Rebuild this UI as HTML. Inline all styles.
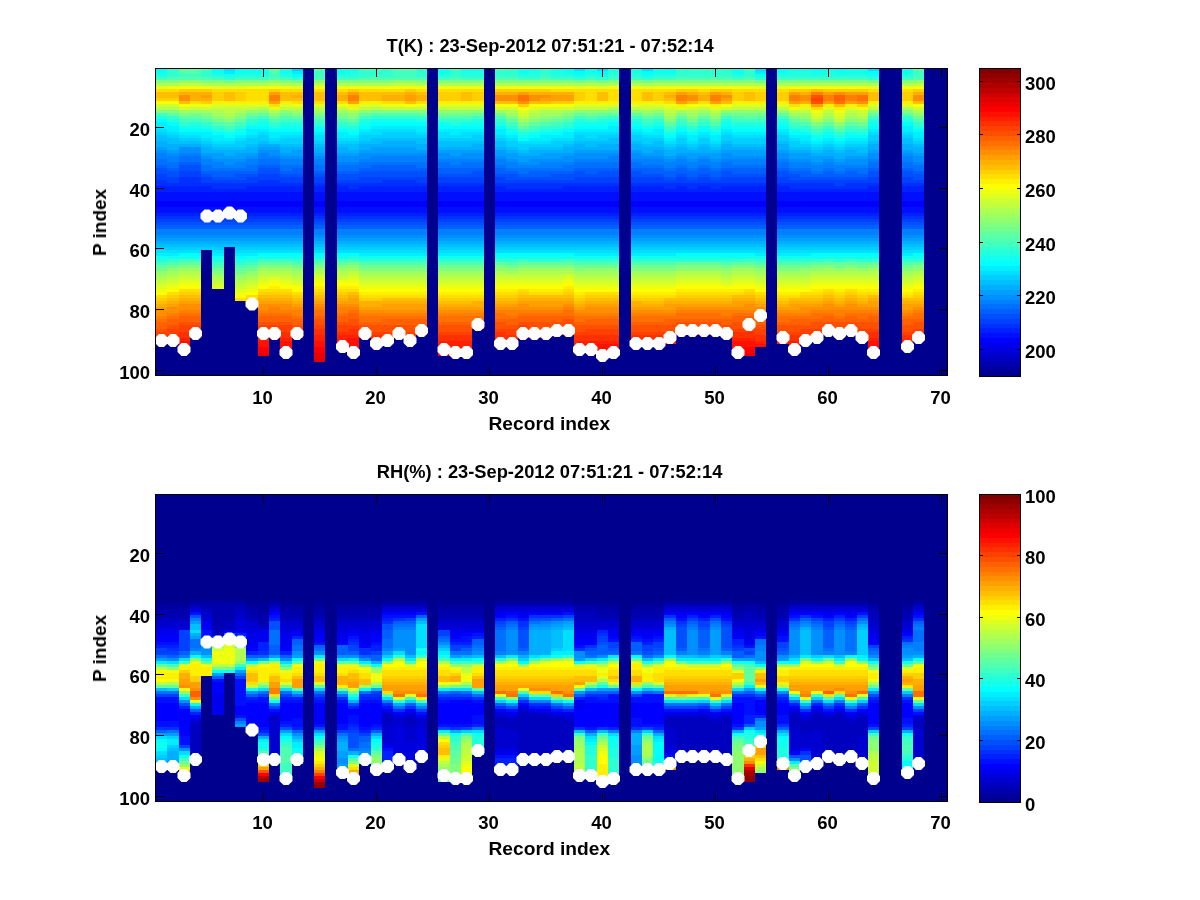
<!DOCTYPE html>
<html><head><meta charset="utf-8"><title>T and RH profiles</title>
<style>html,body{margin:0;padding:0;background:#fff}svg{display:block}
text{font-family:"Liberation Sans",Helvetica,Arial,sans-serif;font-weight:bold;font-size:18.5px;fill:#000}</style></head>
<body><svg width="1200" height="900" viewBox="0 0 1200 900">
<rect width="1200" height="900" fill="#fff"/>
<rect x="155" y="68" width="793" height="308" fill="#00008F"/>
<g shape-rendering="crispEdges"><path fill="#0000FF" d="M156 201h11v6h-11zM167 201h12v6h-12zM179 201h11v6h-11zM190 201h11v6h-11zM201 201h11v6h-11zM212 201h12v6h-12zM224 201h11v6h-11zM235 201h11v6h-11zM246 201h12v6h-12zM258 201h11v6h-11zM269 201h11v6h-11zM280 201h12v6h-12zM292 201h11v6h-11zM314 201h11v6h-11zM337 201h11v6h-11zM348 201h11v6h-11zM359 201h12v6h-12zM371 201h11v6h-11zM382 201h11v6h-11zM393 201h12v6h-12zM405 201h11v6h-11zM416 201h11v6h-11zM438 201h12v6h-12zM450 201h11v6h-11zM461 201h11v6h-11zM472 201h12v6h-12zM495 201h11v6h-11zM506 201h12v6h-12zM518 201h11v6h-11zM529 201h11v6h-11zM540 201h11v6h-11zM551 201h12v6h-12zM563 201h11v6h-11zM574 201h11v6h-11zM585 201h12v6h-12zM597 201h11v6h-11zM608 201h11v6h-11zM631 201h11v6h-11zM642 201h11v6h-11zM653 201h11v6h-11zM664 201h12v6h-12zM676 201h11v6h-11zM687 201h11v6h-11zM698 201h12v6h-12zM710 201h11v6h-11zM721 201h11v6h-11zM732 201h12v6h-12zM744 201h11v6h-11zM755 201h11v6h-11zM777 201h12v6h-12zM789 201h11v6h-11zM800 201h11v6h-11zM811 201h12v6h-12zM823 201h11v6h-11zM834 201h11v6h-11zM845 201h12v6h-12zM857 201h11v6h-11zM868 201h11v6h-11zM902 201h11v6h-11zM913 201h11v6h-11z"/>
<path fill="#0010FF" d="M156 192h11v9h-11zM156 207h11v6h-11zM167 192h12v9h-12zM167 207h12v6h-12zM179 192h11v9h-11zM179 207h11v6h-11zM190 192h11v9h-11zM190 207h11v6h-11zM201 192h11v9h-11zM201 207h11v6h-11zM212 192h12v9h-12zM212 207h12v6h-12zM224 192h11v9h-11zM224 207h11v6h-11zM235 192h11v9h-11zM235 207h11v6h-11zM246 192h12v9h-12zM246 207h12v6h-12zM258 192h11v9h-11zM258 207h11v6h-11zM269 192h11v9h-11zM269 207h11v6h-11zM280 192h12v9h-12zM280 207h12v6h-12zM292 192h11v9h-11zM292 207h11v6h-11zM314 192h11v9h-11zM314 207h11v6h-11zM337 192h11v9h-11zM337 207h11v6h-11zM348 192h11v9h-11zM348 207h11v6h-11zM359 192h12v9h-12zM359 207h12v6h-12zM371 192h11v9h-11zM371 207h11v6h-11zM382 192h11v9h-11zM382 207h11v6h-11zM393 192h12v9h-12zM393 207h12v6h-12zM405 192h11v9h-11zM405 207h11v6h-11zM416 192h11v9h-11zM416 207h11v6h-11zM438 192h12v9h-12zM438 207h12v6h-12zM450 192h11v9h-11zM450 207h11v6h-11zM461 192h11v9h-11zM461 207h11v6h-11zM472 192h12v9h-12zM472 207h12v6h-12zM495 192h11v9h-11zM495 207h11v6h-11zM506 192h12v9h-12zM506 207h12v6h-12zM518 192h11v9h-11zM518 207h11v6h-11zM529 192h11v9h-11zM529 207h11v6h-11zM540 192h11v9h-11zM540 207h11v6h-11zM551 192h12v9h-12zM551 207h12v6h-12zM563 192h11v9h-11zM563 207h11v6h-11zM574 192h11v9h-11zM574 207h11v6h-11zM585 192h12v9h-12zM585 207h12v6h-12zM597 192h11v9h-11zM597 207h11v6h-11zM608 192h11v9h-11zM608 207h11v6h-11zM631 192h11v9h-11zM631 207h11v6h-11zM642 192h11v9h-11zM642 207h11v6h-11zM653 192h11v9h-11zM653 207h11v6h-11zM664 192h12v9h-12zM664 207h12v6h-12zM676 192h11v9h-11zM676 207h11v6h-11zM687 192h11v9h-11zM687 207h11v6h-11zM698 192h12v9h-12zM698 207h12v6h-12zM710 192h11v9h-11zM710 207h11v6h-11zM721 192h11v9h-11zM721 207h11v6h-11zM732 192h12v9h-12zM732 207h12v6h-12zM744 192h11v9h-11zM744 207h11v6h-11zM755 192h11v9h-11zM755 207h11v6h-11zM777 192h12v9h-12zM777 207h12v6h-12zM789 192h11v9h-11zM789 207h11v6h-11zM800 192h11v9h-11zM800 207h11v6h-11zM811 192h12v9h-12zM811 207h12v6h-12zM823 192h11v9h-11zM823 207h11v6h-11zM834 192h11v9h-11zM834 207h11v6h-11zM845 192h12v9h-12zM845 207h12v6h-12zM857 192h11v9h-11zM857 207h11v6h-11zM868 192h11v9h-11zM868 207h11v6h-11zM902 192h11v9h-11zM902 207h11v6h-11zM913 192h11v9h-11zM913 207h11v6h-11z"/>
<path fill="#0020FF" d="M156 186h11v6h-11zM156 213h11v3h-11zM167 186h12v6h-12zM167 213h12v3h-12zM179 186h11v6h-11zM179 213h11v3h-11zM190 186h11v6h-11zM190 213h11v3h-11zM201 186h11v6h-11zM201 213h11v3h-11zM212 189h12v3h-12zM212 213h12v3h-12zM224 189h11v3h-11zM224 213h11v3h-11zM235 189h11v3h-11zM235 213h11v3h-11zM246 186h12v6h-12zM246 213h12v3h-12zM258 186h11v6h-11zM258 213h11v3h-11zM269 186h11v6h-11zM269 213h11v3h-11zM280 186h12v6h-12zM280 213h12v3h-12zM292 186h11v6h-11zM292 213h11v3h-11zM314 186h11v6h-11zM314 213h11v3h-11zM337 186h11v6h-11zM337 213h11v3h-11zM348 189h11v3h-11zM348 213h11v3h-11zM359 186h12v6h-12zM359 213h12v3h-12zM371 186h11v6h-11zM371 213h11v3h-11zM382 186h11v6h-11zM382 213h11v3h-11zM393 186h12v6h-12zM393 213h12v3h-12zM405 186h11v6h-11zM405 213h11v3h-11zM416 186h11v6h-11zM416 213h11v3h-11zM438 186h12v6h-12zM438 213h12v3h-12zM450 186h11v6h-11zM450 213h11v3h-11zM461 186h11v6h-11zM461 213h11v3h-11zM472 186h12v6h-12zM472 213h12v3h-12zM495 186h11v6h-11zM495 213h11v3h-11zM506 189h12v3h-12zM506 213h12v3h-12zM518 189h11v3h-11zM518 213h11v3h-11zM529 189h11v3h-11zM529 213h11v3h-11zM540 189h11v3h-11zM540 213h11v3h-11zM551 189h12v3h-12zM551 213h12v3h-12zM563 186h11v6h-11zM563 213h11v3h-11zM574 186h11v6h-11zM574 213h11v3h-11zM585 186h12v6h-12zM585 213h12v3h-12zM597 186h11v6h-11zM597 213h11v3h-11zM608 186h11v6h-11zM608 213h11v3h-11zM631 186h11v6h-11zM631 213h11v3h-11zM642 186h11v6h-11zM642 213h11v3h-11zM653 186h11v6h-11zM653 213h11v3h-11zM664 189h12v3h-12zM664 213h12v3h-12zM676 186h11v6h-11zM676 213h11v3h-11zM687 189h11v3h-11zM687 213h11v3h-11zM698 186h12v6h-12zM698 213h12v3h-12zM710 189h11v3h-11zM710 213h11v3h-11zM721 186h11v6h-11zM721 213h11v3h-11zM732 186h12v6h-12zM732 213h12v3h-12zM744 186h11v6h-11zM744 213h11v3h-11zM755 186h11v6h-11zM755 213h11v3h-11zM777 186h12v6h-12zM777 213h12v3h-12zM789 189h11v3h-11zM789 213h11v3h-11zM800 189h11v3h-11zM800 213h11v3h-11zM811 189h12v3h-12zM811 213h12v3h-12zM823 189h11v3h-11zM823 213h11v3h-11zM834 189h11v3h-11zM834 213h11v3h-11zM845 189h12v3h-12zM845 213h12v3h-12zM857 189h11v3h-11zM857 213h11v3h-11zM868 186h11v6h-11zM868 213h11v3h-11zM902 186h11v6h-11zM902 213h11v3h-11zM913 186h11v6h-11zM913 213h11v3h-11z"/>
<path fill="#0030FF" d="M156 180h11v6h-11zM156 216h11v3h-11zM167 183h12v3h-12zM167 216h12v3h-12zM179 177h11v9h-11zM179 216h11v3h-11zM190 177h11v9h-11zM190 216h11v3h-11zM201 183h11v3h-11zM201 216h11v3h-11zM212 183h12v6h-12zM212 216h12v3h-12zM224 183h11v6h-11zM224 216h11v3h-11zM235 183h11v6h-11zM235 216h11v3h-11zM246 183h12v3h-12zM246 216h12v3h-12zM258 180h11v6h-11zM258 216h11v3h-11zM269 180h11v6h-11zM269 216h11v3h-11zM280 183h12v3h-12zM280 216h12v3h-12zM292 183h11v3h-11zM292 216h11v3h-11zM314 183h11v3h-11zM314 216h11v3h-11zM337 183h11v3h-11zM337 216h11v3h-11zM348 183h11v6h-11zM348 216h11v3h-11zM359 183h12v3h-12zM359 216h12v3h-12zM371 183h11v3h-11zM371 216h11v3h-11zM382 180h11v6h-11zM382 216h11v3h-11zM393 180h12v6h-12zM393 216h12v3h-12zM405 180h11v6h-11zM405 216h11v3h-11zM416 183h11v3h-11zM416 216h11v3h-11zM438 183h12v3h-12zM438 216h12v3h-12zM450 183h11v3h-11zM450 216h11v3h-11zM461 183h11v3h-11zM461 216h11v3h-11zM472 183h12v3h-12zM472 216h12v3h-12zM495 183h11v3h-11zM495 216h11v3h-11zM506 183h12v6h-12zM506 216h12v3h-12zM518 183h11v6h-11zM518 216h11v3h-11zM529 183h11v6h-11zM529 216h11v3h-11zM540 183h11v6h-11zM540 216h11v3h-11zM551 183h12v6h-12zM551 216h12v3h-12zM563 183h11v3h-11zM563 216h11v3h-11zM574 183h11v3h-11zM574 216h11v3h-11zM585 183h12v3h-12zM585 216h12v3h-12zM597 183h11v3h-11zM597 216h11v3h-11zM608 183h11v3h-11zM608 216h11v3h-11zM631 183h11v3h-11zM631 216h11v3h-11zM642 183h11v3h-11zM642 216h11v3h-11zM653 183h11v3h-11zM653 216h11v3h-11zM664 183h12v6h-12zM664 216h12v3h-12zM676 183h11v3h-11zM676 216h11v3h-11zM687 183h11v6h-11zM687 216h11v3h-11zM698 183h12v3h-12zM698 216h12v3h-12zM710 183h11v6h-11zM710 216h11v3h-11zM721 183h11v3h-11zM721 216h11v3h-11zM732 183h12v3h-12zM732 216h12v3h-12zM744 183h11v3h-11zM744 216h11v3h-11zM755 183h11v3h-11zM755 216h11v3h-11zM777 183h12v3h-12zM777 216h12v3h-12zM789 183h11v6h-11zM789 216h11v3h-11zM800 183h11v6h-11zM800 216h11v3h-11zM811 183h12v6h-12zM811 216h12v3h-12zM823 183h11v6h-11zM823 216h11v3h-11zM834 186h11v3h-11zM834 216h11v3h-11zM845 183h12v6h-12zM845 216h12v3h-12zM857 183h11v6h-11zM857 216h11v3h-11zM868 183h11v3h-11zM868 216h11v3h-11zM902 183h11v3h-11zM902 216h11v3h-11zM913 183h11v3h-11zM913 216h11v3h-11z"/>
<path fill="#0040FF" d="M156 174h11v6h-11zM156 219h11v3h-11zM167 177h12v6h-12zM167 219h12v3h-12zM179 171h11v6h-11zM179 219h11v3h-11zM190 171h11v6h-11zM190 219h11v3h-11zM201 177h11v6h-11zM201 219h11v3h-11zM212 180h12v3h-12zM212 219h12v3h-12zM224 180h11v3h-11zM224 219h11v3h-11zM235 180h11v3h-11zM235 219h11v3h-11zM246 177h12v6h-12zM246 219h12v3h-12zM258 174h11v6h-11zM258 219h11v3h-11zM269 174h11v6h-11zM269 219h11v3h-11zM280 177h12v6h-12zM280 219h12v3h-12zM292 177h11v6h-11zM292 219h11v3h-11zM314 177h11v6h-11zM314 219h11v3h-11zM337 180h11v3h-11zM337 219h11v3h-11zM348 180h11v3h-11zM348 219h11v3h-11zM359 177h12v6h-12zM359 219h12v3h-12zM371 177h11v6h-11zM371 219h11v3h-11zM382 177h11v3h-11zM382 219h11v3h-11zM393 177h12v3h-12zM393 219h12v3h-12zM405 177h11v3h-11zM405 219h11v3h-11zM416 177h11v6h-11zM416 219h11v3h-11zM438 177h12v6h-12zM438 219h12v3h-12zM450 177h11v6h-11zM450 219h11v3h-11zM461 177h11v6h-11zM461 219h11v3h-11zM472 177h12v6h-12zM472 219h12v3h-12zM495 177h11v6h-11zM495 219h11v3h-11zM506 180h12v3h-12zM506 219h12v3h-12zM518 180h11v3h-11zM518 219h11v3h-11zM529 180h11v3h-11zM529 219h11v3h-11zM540 180h11v3h-11zM540 219h11v3h-11zM551 180h12v3h-12zM551 219h12v3h-12zM563 180h11v3h-11zM563 219h11v3h-11zM574 177h11v6h-11zM574 219h11v3h-11zM585 177h12v6h-12zM585 219h12v3h-12zM597 177h11v6h-11zM597 219h11v3h-11zM608 177h11v6h-11zM608 219h11v3h-11zM631 177h11v6h-11zM631 219h11v3h-11zM642 177h11v6h-11zM642 219h11v3h-11zM653 177h11v6h-11zM653 219h11v3h-11zM664 180h12v3h-12zM664 219h12v3h-12zM676 177h11v6h-11zM676 219h11v3h-11zM687 180h11v3h-11zM687 219h11v3h-11zM698 177h12v6h-12zM698 219h12v3h-12zM710 180h11v3h-11zM710 219h11v3h-11zM721 177h11v6h-11zM721 219h11v3h-11zM732 177h12v6h-12zM732 219h12v3h-12zM744 177h11v6h-11zM744 219h11v3h-11zM755 177h11v6h-11zM755 219h11v3h-11zM777 177h12v6h-12zM777 219h12v3h-12zM789 180h11v3h-11zM789 219h11v3h-11zM800 180h11v3h-11zM800 219h11v3h-11zM811 180h12v3h-12zM811 219h12v3h-12zM823 180h11v3h-11zM823 219h11v3h-11zM834 180h11v6h-11zM834 219h11v3h-11zM845 180h12v3h-12zM845 219h12v3h-12zM857 180h11v3h-11zM857 219h11v3h-11zM868 177h11v6h-11zM868 219h11v3h-11zM902 177h11v6h-11zM902 219h11v3h-11zM913 180h11v3h-11zM913 219h11v3h-11z"/>
<path fill="#0050FF" d="M156 168h11v6h-11zM156 222h11v3h-11zM167 171h12v6h-12zM167 222h12v3h-12zM179 165h11v6h-11zM179 222h11v3h-11zM190 165h11v6h-11zM190 222h11v3h-11zM201 174h11v3h-11zM201 222h11v3h-11zM212 177h12v3h-12zM212 222h12v3h-12zM224 177h11v3h-11zM224 222h11v3h-11zM235 174h11v6h-11zM235 222h11v3h-11zM246 174h12v3h-12zM246 222h12v3h-12zM258 168h11v6h-11zM258 222h11v3h-11zM269 168h11v6h-11zM269 222h11v3h-11zM280 174h12v3h-12zM280 222h12v3h-12zM292 174h11v3h-11zM292 222h11v3h-11zM314 174h11v3h-11zM314 222h11v3h-11zM337 174h11v6h-11zM337 222h11v3h-11zM348 174h11v6h-11zM348 222h11v3h-11zM359 171h12v6h-12zM359 222h12v3h-12zM371 171h11v6h-11zM371 222h11v3h-11zM382 171h11v6h-11zM382 222h11v3h-11zM393 171h12v6h-12zM393 222h12v3h-12zM405 171h11v6h-11zM405 222h11v3h-11zM416 171h11v6h-11zM416 222h11v3h-11zM438 174h12v3h-12zM438 222h12v3h-12zM450 174h11v3h-11zM450 222h11v3h-11zM461 174h11v3h-11zM461 222h11v3h-11zM472 171h12v6h-12zM472 222h12v3h-12zM495 174h11v3h-11zM495 222h11v3h-11zM506 174h12v6h-12zM506 222h12v3h-12zM518 177h11v3h-11zM518 222h11v3h-11zM529 177h11v3h-11zM529 222h11v3h-11zM540 177h11v3h-11zM540 222h11v3h-11zM551 174h12v6h-12zM551 222h12v3h-12zM563 174h11v6h-11zM563 222h11v3h-11zM574 171h11v6h-11zM574 222h11v3h-11zM585 174h12v3h-12zM585 222h12v3h-12zM597 171h11v6h-11zM597 222h11v3h-11zM608 171h11v6h-11zM608 222h11v3h-11zM631 171h11v6h-11zM631 222h11v3h-11zM642 174h11v3h-11zM642 222h11v3h-11zM653 174h11v3h-11zM653 222h11v3h-11zM664 177h12v3h-12zM664 222h12v3h-12zM676 174h11v3h-11zM676 222h11v3h-11zM687 177h11v3h-11zM687 222h11v3h-11zM698 174h12v3h-12zM698 222h12v3h-12zM710 177h11v3h-11zM710 222h11v3h-11zM721 171h11v6h-11zM721 222h11v3h-11zM732 174h12v3h-12zM732 222h12v3h-12zM744 174h11v3h-11zM744 222h11v3h-11zM755 174h11v3h-11zM755 222h11v3h-11zM777 171h12v6h-12zM777 222h12v3h-12zM789 174h11v6h-11zM789 222h11v3h-11zM800 177h11v3h-11zM800 222h11v3h-11zM811 177h12v3h-12zM811 222h12v3h-12zM823 177h11v3h-11zM823 222h11v3h-11zM834 177h11v3h-11zM834 222h11v3h-11zM845 177h12v3h-12zM845 222h12v3h-12zM857 177h11v3h-11zM857 222h11v3h-11zM868 171h11v6h-11zM868 222h11v3h-11zM902 171h11v6h-11zM902 222h11v3h-11zM913 174h11v6h-11zM913 222h11v3h-11z"/>
<path fill="#0060FF" d="M156 165h11v3h-11zM156 225h11v4h-11zM167 168h12v3h-12zM167 225h12v4h-12zM179 162h11v3h-11zM179 225h11v4h-11zM190 162h11v3h-11zM190 225h11v4h-11zM201 171h11v3h-11zM201 225h11v4h-11zM212 171h12v6h-12zM212 225h12v4h-12zM224 171h11v6h-11zM224 225h11v4h-11zM235 171h11v3h-11zM235 225h11v4h-11zM246 171h12v3h-12zM246 225h12v4h-12zM258 165h11v3h-11zM258 225h11v4h-11zM269 165h11v3h-11zM269 225h11v4h-11zM280 171h12v3h-12zM280 225h12v4h-12zM292 168h11v6h-11zM292 225h11v4h-11zM314 171h11v3h-11zM314 225h11v4h-11zM337 171h11v3h-11zM337 225h11v4h-11zM348 171h11v3h-11zM348 225h11v4h-11zM359 168h12v3h-12zM359 225h12v4h-12zM371 165h11v6h-11zM371 225h11v4h-11zM382 165h11v6h-11zM382 225h11v4h-11zM393 165h12v6h-12zM393 225h12v4h-12zM405 165h11v6h-11zM405 225h11v4h-11zM416 168h11v3h-11zM416 225h11v4h-11zM438 168h12v6h-12zM438 225h12v4h-12zM450 168h11v6h-11zM450 225h11v4h-11zM461 168h11v6h-11zM461 225h11v4h-11zM472 168h12v3h-12zM472 225h12v4h-12zM495 168h11v6h-11zM495 225h11v4h-11zM506 171h12v3h-12zM506 225h12v4h-12zM518 174h11v3h-11zM518 225h11v4h-11zM529 171h11v6h-11zM529 225h11v4h-11zM540 171h11v6h-11zM540 225h11v4h-11zM551 171h12v3h-12zM551 225h12v4h-12zM563 171h11v3h-11zM563 225h11v4h-11zM574 168h11v3h-11zM574 225h11v4h-11zM585 168h12v6h-12zM585 225h12v4h-12zM597 168h11v3h-11zM597 225h11v4h-11zM608 168h11v3h-11zM608 225h11v4h-11zM631 168h11v3h-11zM631 225h11v4h-11zM642 168h11v6h-11zM642 225h11v4h-11zM653 168h11v6h-11zM653 225h11v4h-11zM664 171h12v6h-12zM664 225h12v4h-12zM676 168h11v6h-11zM676 225h11v4h-11zM687 171h11v6h-11zM687 225h11v4h-11zM698 168h12v6h-12zM698 225h12v4h-12zM710 171h11v6h-11zM710 225h11v4h-11zM721 168h11v3h-11zM721 225h11v4h-11zM732 168h12v6h-12zM732 225h12v4h-12zM744 168h11v6h-11zM744 225h11v4h-11zM755 168h11v6h-11zM755 225h11v4h-11zM777 168h12v3h-12zM777 225h12v4h-12zM789 171h11v3h-11zM789 225h11v4h-11zM800 171h11v6h-11zM800 225h11v4h-11zM811 174h12v3h-12zM811 225h12v4h-12zM823 171h11v6h-11zM823 225h11v4h-11zM834 174h11v3h-11zM834 225h11v4h-11zM845 171h12v6h-12zM845 225h12v4h-12zM857 174h11v3h-11zM857 225h11v4h-11zM868 168h11v3h-11zM868 225h11v4h-11zM902 168h11v3h-11zM902 225h11v4h-11zM913 171h11v3h-11zM913 225h11v4h-11z"/>
<path fill="#0070FF" d="M156 159h11v6h-11zM167 162h12v6h-12zM179 156h11v6h-11zM190 156h11v6h-11zM201 165h11v6h-11zM212 168h12v3h-12zM224 168h11v3h-11zM235 168h11v3h-11zM246 165h12v6h-12zM258 159h11v6h-11zM269 159h11v6h-11zM280 165h12v6h-12zM292 165h11v3h-11zM314 165h11v6h-11zM337 165h11v6h-11zM348 165h11v6h-11zM359 162h12v6h-12zM371 162h11v3h-11zM382 162h11v3h-11zM393 162h12v3h-12zM405 162h11v3h-11zM416 162h11v6h-11zM438 162h12v6h-12zM450 165h11v3h-11zM461 162h11v6h-11zM472 162h12v6h-12zM495 165h11v3h-11zM506 168h12v3h-12zM518 168h11v6h-11zM529 168h11v3h-11zM540 168h11v3h-11zM551 168h12v3h-12zM563 165h11v6h-11zM574 162h11v6h-11zM585 162h12v6h-12zM597 162h11v6h-11zM608 162h11v6h-11zM631 162h11v6h-11zM642 165h11v3h-11zM653 165h11v3h-11zM664 168h12v3h-12zM676 165h11v3h-11zM687 168h11v3h-11zM698 165h12v3h-12zM710 168h11v3h-11zM721 162h11v6h-11zM732 165h12v3h-12zM744 165h11v3h-11zM755 165h11v3h-11zM777 162h12v6h-12zM789 168h11v3h-11zM800 168h11v3h-11zM811 171h12v3h-12zM823 168h11v3h-11zM834 171h11v3h-11zM845 168h12v3h-12zM857 168h11v6h-11zM868 162h11v6h-11zM902 162h11v6h-11zM913 165h11v6h-11z"/>
<path fill="#0080FF" d="M156 153h11v6h-11zM156 229h11v6h-11zM167 156h12v6h-12zM167 229h12v6h-12zM179 153h11v3h-11zM179 229h11v6h-11zM190 153h11v3h-11zM190 229h11v6h-11zM201 159h11v6h-11zM201 229h11v6h-11zM212 162h12v6h-12zM212 229h12v6h-12zM224 165h11v3h-11zM224 229h11v6h-11zM235 162h11v6h-11zM235 229h11v6h-11zM246 159h12v6h-12zM246 229h12v6h-12zM258 153h11v6h-11zM258 229h11v6h-11zM269 156h11v3h-11zM269 229h11v6h-11zM280 159h12v6h-12zM280 229h12v6h-12zM292 159h11v6h-11zM292 229h11v6h-11zM314 159h11v6h-11zM314 229h11v6h-11zM337 162h11v3h-11zM337 229h11v6h-11zM348 162h11v3h-11zM348 229h11v6h-11zM359 159h12v3h-12zM359 229h12v6h-12zM371 156h11v6h-11zM371 229h11v6h-11zM382 156h11v6h-11zM382 229h11v6h-11zM393 156h12v6h-12zM393 229h12v6h-12zM405 156h11v6h-11zM405 229h11v6h-11zM416 156h11v6h-11zM416 229h11v6h-11zM438 159h12v3h-12zM438 229h12v6h-12zM450 159h11v6h-11zM450 229h11v6h-11zM461 159h11v3h-11zM461 229h11v6h-11zM472 159h12v3h-12zM472 229h12v6h-12zM495 159h11v6h-11zM495 229h11v6h-11zM506 162h12v6h-12zM506 229h12v6h-12zM518 165h11v3h-11zM518 229h11v6h-11zM529 165h11v3h-11zM529 229h11v6h-11zM540 162h11v6h-11zM540 229h11v6h-11zM551 162h12v6h-12zM551 229h12v6h-12zM563 162h11v3h-11zM563 229h11v6h-11zM574 159h11v3h-11zM574 229h11v6h-11zM585 159h12v3h-12zM585 229h12v6h-12zM597 159h11v3h-11zM597 229h11v6h-11zM608 156h11v6h-11zM608 229h11v6h-11zM631 159h11v3h-11zM631 229h11v6h-11zM642 159h11v6h-11zM642 229h11v6h-11zM653 159h11v6h-11zM653 229h11v6h-11zM664 162h12v6h-12zM664 229h12v6h-12zM676 159h11v6h-11zM676 229h11v6h-11zM687 162h11v6h-11zM687 229h11v6h-11zM698 159h12v6h-12zM698 229h12v6h-12zM710 162h11v6h-11zM710 229h11v6h-11zM721 159h11v3h-11zM721 229h11v6h-11zM732 159h12v6h-12zM732 229h12v6h-12zM744 159h11v6h-11zM744 229h11v6h-11zM755 159h11v6h-11zM755 229h11v6h-11zM777 159h12v3h-12zM777 229h12v6h-12zM789 162h11v6h-11zM789 229h11v6h-11zM800 162h11v6h-11zM800 229h11v6h-11zM811 165h12v6h-12zM811 229h12v6h-12zM823 162h11v6h-11zM823 229h11v6h-11zM834 165h11v6h-11zM834 229h11v6h-11zM845 165h12v3h-12zM845 229h12v6h-12zM857 165h11v3h-11zM857 229h11v6h-11zM868 159h11v3h-11zM868 229h11v6h-11zM902 156h11v6h-11zM902 229h11v6h-11zM913 162h11v3h-11zM913 229h11v6h-11z"/>
<path fill="#008FFF" d="M156 150h11v3h-11zM156 235h11v3h-11zM167 153h12v3h-12zM167 235h12v3h-12zM179 147h11v6h-11zM179 235h11v3h-11zM190 147h11v6h-11zM190 235h11v3h-11zM201 156h11v3h-11zM201 235h11v3h-11zM212 159h12v3h-12zM212 235h12v3h-12zM224 159h11v6h-11zM224 235h11v3h-11zM235 159h11v3h-11zM235 235h11v3h-11zM246 156h12v3h-12zM246 235h12v3h-12zM258 150h11v3h-11zM258 235h11v3h-11zM269 150h11v6h-11zM269 235h11v3h-11zM280 156h12v3h-12zM280 235h12v3h-12zM292 156h11v3h-11zM292 235h11v3h-11zM314 156h11v3h-11zM314 235h11v3h-11zM337 156h11v6h-11zM337 235h11v3h-11zM348 156h11v6h-11zM348 235h11v3h-11zM359 153h12v6h-12zM359 235h12v3h-12zM371 153h11v3h-11zM371 235h11v3h-11zM382 153h11v3h-11zM382 235h11v3h-11zM393 153h12v3h-12zM393 235h12v3h-12zM405 153h11v3h-11zM405 235h11v3h-11zM416 153h11v3h-11zM416 235h11v3h-11zM438 153h12v6h-12zM438 235h12v3h-12zM450 156h11v3h-11zM450 235h11v3h-11zM461 153h11v6h-11zM461 235h11v3h-11zM472 153h12v6h-12zM472 235h12v3h-12zM495 156h11v3h-11zM495 235h11v3h-11zM506 159h12v3h-12zM506 235h12v3h-12zM518 162h11v3h-11zM518 235h11v3h-11zM529 159h11v6h-11zM529 235h11v3h-11zM540 159h11v3h-11zM540 235h11v3h-11zM551 159h12v3h-12zM551 235h12v3h-12zM563 156h11v6h-11zM563 235h11v3h-11zM574 153h11v6h-11zM574 235h11v3h-11zM585 153h12v6h-12zM585 235h12v3h-12zM597 153h11v6h-11zM597 235h11v3h-11zM608 153h11v3h-11zM608 235h11v3h-11zM631 153h11v6h-11zM631 235h11v3h-11zM642 156h11v3h-11zM642 235h11v3h-11zM653 156h11v3h-11zM653 235h11v3h-11zM664 159h12v3h-12zM664 235h12v3h-12zM676 156h11v3h-11zM676 235h11v3h-11zM687 159h11v3h-11zM687 235h11v3h-11zM698 156h12v3h-12zM698 235h12v3h-12zM710 159h11v3h-11zM710 235h11v3h-11zM721 153h11v6h-11zM721 235h11v3h-11zM732 156h12v3h-12zM732 235h12v3h-12zM744 156h11v3h-11zM744 235h11v3h-11zM755 156h11v3h-11zM755 235h11v3h-11zM777 153h12v6h-12zM777 235h12v3h-12zM789 159h11v3h-11zM789 235h11v3h-11zM800 159h11v3h-11zM800 235h11v3h-11zM811 162h12v3h-12zM811 235h12v3h-12zM823 159h11v3h-11zM823 235h11v3h-11zM834 162h11v3h-11zM834 235h11v3h-11zM845 159h12v6h-12zM845 235h12v3h-12zM857 159h11v6h-11zM857 235h11v3h-11zM868 153h11v6h-11zM868 235h11v3h-11zM902 153h11v3h-11zM902 235h11v3h-11zM913 156h11v6h-11zM913 235h11v3h-11z"/>
<path fill="#009FFF" d="M156 147h11v3h-11zM156 238h11v3h-11zM167 150h12v3h-12zM167 238h12v3h-12zM179 238h11v3h-11zM190 238h11v3h-11zM201 153h11v3h-11zM201 238h11v3h-11zM212 153h12v6h-12zM212 238h12v3h-12zM224 156h11v3h-11zM224 238h11v3h-11zM235 153h11v6h-11zM235 238h11v3h-11zM246 153h12v3h-12zM246 238h12v3h-12zM258 147h11v3h-11zM258 238h11v3h-11zM269 147h11v3h-11zM269 238h11v3h-11zM280 153h12v3h-12zM280 238h12v3h-12zM292 150h11v6h-11zM292 238h11v3h-11zM314 153h11v3h-11zM314 238h11v3h-11zM337 153h11v3h-11zM337 238h11v3h-11zM348 153h11v3h-11zM348 238h11v3h-11zM359 150h12v3h-12zM359 238h12v3h-12zM371 147h11v6h-11zM371 238h11v3h-11zM382 147h11v6h-11zM382 238h11v3h-11zM393 147h12v6h-12zM393 238h12v3h-12zM405 147h11v6h-11zM405 238h11v3h-11zM416 150h11v3h-11zM416 238h11v3h-11zM438 150h12v3h-12zM438 238h12v3h-12zM450 150h11v6h-11zM450 238h11v3h-11zM461 150h11v3h-11zM461 238h11v3h-11zM472 150h12v3h-12zM472 238h12v3h-12zM495 150h11v6h-11zM495 238h11v3h-11zM506 153h12v6h-12zM506 238h12v3h-12zM518 156h11v6h-11zM518 238h11v3h-11zM529 156h11v3h-11zM529 238h11v3h-11zM540 153h11v6h-11zM540 238h11v3h-11zM551 153h12v6h-12zM551 238h12v3h-12zM563 153h11v3h-11zM563 238h11v3h-11zM574 150h11v3h-11zM574 238h11v3h-11zM585 150h12v3h-12zM585 238h12v3h-12zM597 150h11v3h-11zM597 238h11v3h-11zM608 150h11v3h-11zM608 238h11v3h-11zM631 150h11v3h-11zM631 238h11v3h-11zM642 153h11v3h-11zM642 238h11v3h-11zM653 150h11v6h-11zM653 238h11v3h-11zM664 156h12v3h-12zM664 238h12v3h-12zM676 153h11v3h-11zM676 238h11v3h-11zM687 153h11v6h-11zM687 238h11v3h-11zM698 153h12v3h-12zM698 238h12v3h-12zM710 153h11v6h-11zM710 238h11v3h-11zM721 150h11v3h-11zM721 238h11v3h-11zM732 150h12v6h-12zM732 238h12v3h-12zM744 150h11v6h-11zM744 238h11v3h-11zM755 150h11v6h-11zM755 238h11v3h-11zM777 150h12v3h-12zM777 238h12v3h-12zM789 153h11v6h-11zM789 238h11v3h-11zM800 153h11v6h-11zM800 238h11v3h-11zM811 156h12v6h-12zM811 238h12v3h-12zM823 156h11v3h-11zM823 238h11v3h-11zM834 159h11v3h-11zM834 238h11v3h-11zM845 156h12v3h-12zM845 238h12v3h-12zM857 156h11v3h-11zM857 238h11v3h-11zM868 150h11v3h-11zM868 238h11v3h-11zM902 150h11v3h-11zM902 238h11v3h-11zM913 153h11v3h-11zM913 238h11v3h-11z"/>
<path fill="#00AFFF" d="M156 141h11v6h-11zM156 241h11v3h-11zM167 144h12v6h-12zM167 241h12v3h-12zM179 144h11v3h-11zM179 241h11v3h-11zM190 144h11v3h-11zM190 241h11v3h-11zM201 147h11v6h-11zM201 241h11v3h-11zM212 150h12v3h-12zM212 241h12v3h-12zM224 150h11v6h-11zM224 241h11v3h-11zM235 150h11v3h-11zM235 241h11v3h-11zM246 147h12v6h-12zM246 241h12v3h-12zM258 144h11v3h-11zM258 241h11v3h-11zM269 144h11v3h-11zM269 241h11v3h-11zM280 147h12v6h-12zM280 241h12v3h-12zM292 147h11v3h-11zM292 241h11v3h-11zM314 147h11v6h-11zM314 241h11v3h-11zM337 147h11v6h-11zM337 241h11v3h-11zM348 150h11v3h-11zM348 241h11v3h-11zM359 144h12v6h-12zM359 241h12v3h-12zM371 144h11v3h-11zM371 241h11v3h-11zM382 141h11v6h-11zM382 241h11v3h-11zM393 141h12v6h-12zM393 241h12v3h-12zM405 141h11v6h-11zM405 241h11v3h-11zM416 144h11v6h-11zM416 241h11v3h-11zM438 147h12v3h-12zM438 241h12v3h-12zM450 147h11v3h-11zM450 241h11v3h-11zM461 147h11v3h-11zM461 241h11v3h-11zM472 144h12v6h-12zM472 241h12v3h-12zM495 147h11v3h-11zM495 241h11v3h-11zM506 150h12v3h-12zM506 241h12v3h-12zM518 153h11v3h-11zM518 241h11v3h-11zM529 150h11v6h-11zM529 241h11v3h-11zM540 150h11v3h-11zM540 241h11v3h-11zM551 150h12v3h-12zM551 241h12v3h-12zM563 147h11v6h-11zM563 241h11v3h-11zM574 144h11v6h-11zM574 241h11v3h-11zM585 147h12v3h-12zM585 241h12v3h-12zM597 144h11v6h-11zM597 241h11v3h-11zM608 144h11v6h-11zM608 241h11v3h-11zM631 144h11v6h-11zM631 241h11v3h-11zM642 147h11v6h-11zM642 241h11v3h-11zM653 147h11v3h-11zM653 241h11v3h-11zM664 150h12v6h-12zM664 241h12v3h-12zM676 147h11v6h-11zM676 241h11v3h-11zM687 150h11v3h-11zM687 241h11v3h-11zM698 147h12v6h-12zM698 241h12v3h-12zM710 150h11v3h-11zM710 241h11v3h-11zM721 144h11v6h-11zM721 241h11v3h-11zM732 147h12v3h-12zM732 241h12v3h-12zM744 147h11v3h-11zM744 241h11v3h-11zM755 147h11v3h-11zM755 241h11v3h-11zM777 144h12v6h-12zM777 241h12v3h-12zM789 150h11v3h-11zM789 241h11v3h-11zM800 150h11v3h-11zM800 241h11v3h-11zM811 153h12v3h-12zM811 241h12v3h-12zM823 150h11v6h-11zM823 241h11v3h-11zM834 153h11v6h-11zM834 241h11v3h-11zM845 150h12v6h-12zM845 241h12v3h-12zM857 153h11v3h-11zM857 241h11v3h-11zM868 144h11v6h-11zM868 241h11v3h-11zM902 144h11v6h-11zM902 241h11v3h-11zM913 147h11v6h-11zM913 241h11v3h-11z"/>
<path fill="#00BFFF" d="M156 135h11v6h-11zM156 244h11v3h-11zM167 138h12v6h-12zM167 244h12v3h-12zM179 141h11v3h-11zM179 244h11v3h-11zM190 141h11v3h-11zM190 244h11v3h-11zM201 144h11v3h-11zM201 244h11v3h-11zM212 147h12v3h-12zM212 244h12v3h-12zM224 147h11v3h-11zM224 244h11v3h-11zM235 147h11v3h-11zM235 244h11v3h-11zM246 144h12v3h-12zM246 244h12v3h-12zM258 141h11v3h-11zM258 244h11v3h-11zM269 244h11v3h-11zM280 144h12v3h-12zM280 244h12v3h-12zM292 144h11v3h-11zM292 244h11v3h-11zM314 144h11v3h-11zM314 244h11v3h-11zM337 144h11v3h-11zM337 244h11v3h-11zM348 144h11v6h-11zM348 244h11v3h-11zM359 141h12v3h-12zM359 244h12v3h-12zM371 138h11v6h-11zM371 244h11v3h-11zM382 138h11v3h-11zM382 244h11v3h-11zM393 138h12v3h-12zM393 244h12v3h-12zM405 138h11v3h-11zM405 244h11v3h-11zM416 138h11v6h-11zM416 244h11v3h-11zM438 141h12v6h-12zM438 244h12v3h-12zM450 141h11v6h-11zM450 244h11v3h-11zM461 141h11v6h-11zM461 244h11v3h-11zM472 141h12v3h-12zM472 244h12v3h-12zM495 141h11v6h-11zM495 244h11v3h-11zM506 147h12v3h-12zM506 244h12v3h-12zM518 150h11v3h-11zM518 244h11v3h-11zM529 147h11v3h-11zM529 244h11v3h-11zM540 147h11v3h-11zM540 244h11v3h-11zM551 147h12v3h-12zM551 244h12v3h-12zM563 144h11v3h-11zM563 244h11v3h-11zM574 141h11v3h-11zM574 244h11v3h-11zM585 141h12v6h-12zM585 244h12v3h-12zM597 141h11v3h-11zM597 244h11v3h-11zM608 138h11v6h-11zM608 244h11v3h-11zM631 141h11v3h-11zM631 244h11v3h-11zM642 144h11v3h-11zM642 244h11v3h-11zM653 141h11v6h-11zM653 244h11v3h-11zM664 147h12v3h-12zM664 244h12v3h-12zM676 144h11v3h-11zM676 244h11v3h-11zM687 147h11v3h-11zM687 244h11v3h-11zM698 144h12v3h-12zM698 244h12v3h-12zM710 147h11v3h-11zM710 244h11v3h-11zM721 141h11v3h-11zM721 244h11v3h-11zM732 144h12v3h-12zM732 244h12v3h-12zM744 144h11v3h-11zM744 244h11v3h-11zM755 144h11v3h-11zM755 244h11v3h-11zM777 141h12v3h-12zM777 244h12v3h-12zM789 147h11v3h-11zM789 244h11v3h-11zM800 147h11v3h-11zM800 244h11v3h-11zM811 150h12v3h-12zM811 244h12v3h-12zM823 147h11v3h-11zM823 244h11v3h-11zM834 150h11v3h-11zM834 244h11v3h-11zM845 147h12v3h-12zM845 244h12v3h-12zM857 147h11v6h-11zM857 244h11v3h-11zM868 141h11v3h-11zM868 244h11v3h-11zM902 138h11v6h-11zM902 244h11v3h-11zM913 144h11v3h-11zM913 244h11v3h-11z"/>
<path fill="#00CFFF" d="M156 132h11v3h-11zM156 247h11v3h-11zM167 135h12v3h-12zM167 247h12v3h-12zM179 138h11v3h-11zM179 247h11v3h-11zM190 138h11v3h-11zM190 247h11v3h-11zM201 141h11v3h-11zM201 247h11v3h-11zM212 144h12v3h-12zM212 247h12v3h-12zM224 144h11v3h-11zM235 141h11v6h-11zM235 247h11v3h-11zM246 138h12v6h-12zM246 247h12v3h-12zM258 135h11v6h-11zM258 247h11v3h-11zM269 141h11v3h-11zM269 247h11v3h-11zM280 138h12v6h-12zM280 247h12v3h-12zM292 68h11v3h-11zM292 138h11v6h-11zM292 247h11v3h-11zM314 141h11v3h-11zM314 247h11v3h-11zM337 141h11v3h-11zM337 247h11v3h-11zM348 141h11v3h-11zM348 247h11v3h-11zM359 135h12v6h-12zM359 247h12v3h-12zM371 135h11v3h-11zM371 247h11v3h-11zM382 132h11v6h-11zM382 247h11v3h-11zM393 132h12v6h-12zM393 247h12v3h-12zM405 132h11v6h-11zM405 247h11v3h-11zM416 135h11v3h-11zM416 247h11v3h-11zM438 138h12v3h-12zM438 247h12v3h-12zM450 138h11v3h-11zM450 247h11v3h-11zM461 138h11v3h-11zM461 247h11v3h-11zM472 135h12v6h-12zM472 247h12v3h-12zM495 138h11v3h-11zM495 247h11v3h-11zM506 141h12v6h-12zM506 247h12v3h-12zM518 144h11v6h-11zM518 247h11v3h-11zM529 144h11v3h-11zM529 247h11v3h-11zM540 144h11v3h-11zM540 247h11v3h-11zM551 141h12v6h-12zM551 247h12v3h-12zM563 141h11v3h-11zM563 247h11v3h-11zM574 135h11v6h-11zM574 247h11v3h-11zM585 138h12v3h-12zM585 247h12v3h-12zM597 135h11v6h-11zM597 247h11v3h-11zM608 135h11v3h-11zM608 247h11v3h-11zM631 135h11v6h-11zM631 247h11v3h-11zM642 138h11v6h-11zM642 247h11v3h-11zM653 138h11v3h-11zM653 247h11v3h-11zM664 144h12v3h-12zM664 247h12v3h-12zM676 138h11v6h-11zM676 247h11v3h-11zM687 144h11v3h-11zM687 247h11v3h-11zM698 138h12v6h-12zM698 247h12v3h-12zM710 144h11v3h-11zM710 247h11v3h-11zM721 135h11v6h-11zM721 247h11v3h-11zM732 138h12v6h-12zM732 247h12v3h-12zM744 138h11v6h-11zM744 247h11v3h-11zM755 138h11v6h-11zM755 247h11v3h-11zM777 135h12v6h-12zM777 247h12v3h-12zM789 141h11v6h-11zM789 247h11v3h-11zM800 144h11v3h-11zM800 247h11v3h-11zM811 147h12v3h-12zM811 247h12v3h-12zM823 144h11v3h-11zM823 247h11v3h-11zM834 147h11v3h-11zM834 247h11v3h-11zM845 144h12v3h-12zM845 247h12v3h-12zM857 144h11v3h-11zM857 247h11v3h-11zM868 135h11v6h-11zM868 247h11v3h-11zM902 135h11v3h-11zM902 247h11v3h-11zM913 141h11v3h-11zM913 247h11v3h-11z"/>
<path fill="#00DFFF" d="M156 129h11v3h-11zM156 250h11v3h-11zM167 132h12v3h-12zM167 250h12v3h-12zM179 135h11v3h-11zM179 250h11v3h-11zM190 135h11v3h-11zM190 250h11v3h-11zM201 138h11v3h-11zM212 141h12v3h-12zM212 250h12v3h-12zM224 68h11v3h-11zM224 141h11v3h-11zM235 138h11v3h-11zM235 250h11v3h-11zM246 135h12v3h-12zM246 250h12v3h-12zM258 132h11v3h-11zM258 250h11v3h-11zM269 138h11v3h-11zM269 250h11v3h-11zM280 135h12v3h-12zM280 250h12v3h-12zM292 135h11v3h-11zM292 250h11v3h-11zM314 135h11v6h-11zM314 250h11v3h-11zM337 138h11v3h-11zM337 250h11v3h-11zM348 138h11v3h-11zM348 250h11v3h-11zM359 132h12v3h-12zM359 250h12v3h-12zM371 129h11v6h-11zM371 250h11v3h-11zM382 129h11v3h-11zM382 250h11v3h-11zM393 129h12v3h-12zM393 250h12v3h-12zM405 129h11v3h-11zM405 250h11v3h-11zM416 132h11v3h-11zM416 250h11v3h-11zM438 132h12v6h-12zM438 250h12v3h-12zM450 135h11v3h-11zM450 250h11v3h-11zM461 132h11v6h-11zM461 250h11v3h-11zM472 132h12v3h-12zM472 250h12v3h-12zM495 135h11v3h-11zM495 250h11v3h-11zM506 138h12v3h-12zM506 250h12v3h-12zM518 141h11v3h-11zM518 250h11v3h-11zM529 141h11v3h-11zM529 250h11v3h-11zM540 141h11v3h-11zM540 250h11v3h-11zM551 138h12v3h-12zM551 250h12v3h-12zM563 138h11v3h-11zM563 250h11v3h-11zM574 68h11v3h-11zM574 132h11v3h-11zM574 250h11v3h-11zM585 132h12v6h-12zM585 250h12v3h-12zM597 68h11v3h-11zM597 132h11v3h-11zM597 250h11v3h-11zM608 132h11v3h-11zM608 250h11v3h-11zM631 132h11v3h-11zM631 250h11v3h-11zM642 68h11v3h-11zM642 135h11v3h-11zM642 250h11v3h-11zM653 135h11v3h-11zM653 250h11v3h-11zM664 141h12v3h-12zM664 250h12v3h-12zM676 135h11v3h-11zM676 250h11v3h-11zM687 141h11v3h-11zM687 250h11v3h-11zM698 135h12v3h-12zM698 250h12v3h-12zM710 141h11v3h-11zM710 250h11v3h-11zM721 132h11v3h-11zM721 250h11v3h-11zM732 135h12v3h-12zM732 250h12v3h-12zM744 135h11v3h-11zM744 250h11v3h-11zM755 68h11v3h-11zM755 135h11v3h-11zM755 250h11v3h-11zM777 132h12v3h-12zM777 250h12v3h-12zM789 138h11v3h-11zM789 250h11v3h-11zM800 141h11v3h-11zM800 250h11v3h-11zM811 144h12v3h-12zM811 250h12v3h-12zM823 141h11v3h-11zM823 250h11v3h-11zM834 144h11v3h-11zM834 250h11v3h-11zM845 141h12v3h-12zM845 250h12v3h-12zM857 141h11v3h-11zM857 250h11v3h-11zM868 68h11v3h-11zM868 132h11v3h-11zM868 250h11v3h-11zM902 132h11v3h-11zM902 250h11v3h-11zM913 138h11v3h-11zM913 250h11v3h-11z"/>
<path fill="#00EFFF" d="M156 122h11v7h-11zM156 253h11v3h-11zM167 126h12v6h-12zM167 253h12v3h-12zM179 132h11v3h-11zM190 132h11v3h-11zM201 132h11v6h-11zM212 135h12v6h-12zM212 253h12v3h-12zM224 71h11v3h-11zM224 138h11v3h-11zM235 135h11v3h-11zM235 253h11v3h-11zM246 129h12v6h-12zM246 253h12v3h-12zM258 129h11v3h-11zM269 132h11v6h-11zM280 132h12v3h-12zM292 71h11v3h-11zM292 132h11v3h-11zM314 132h11v3h-11zM337 132h11v6h-11zM348 135h11v3h-11zM359 129h12v3h-12zM359 253h12v3h-12zM371 126h11v3h-11zM371 253h11v3h-11zM382 126h11v3h-11zM382 253h11v3h-11zM393 126h12v3h-12zM393 253h12v3h-12zM405 126h11v3h-11zM405 253h11v3h-11zM416 126h11v6h-11zM416 253h11v3h-11zM438 129h12v3h-12zM438 253h12v3h-12zM450 129h11v6h-11zM450 253h11v3h-11zM461 129h11v3h-11zM461 253h11v3h-11zM472 129h12v3h-12zM472 253h12v3h-12zM495 129h11v6h-11zM506 135h12v3h-12zM529 138h11v3h-11zM540 135h11v6h-11zM551 135h12v3h-12zM563 132h11v6h-11zM574 129h11v3h-11zM574 253h11v3h-11zM585 129h12v3h-12zM585 253h12v3h-12zM597 129h11v3h-11zM597 253h11v3h-11zM608 126h11v6h-11zM608 253h11v3h-11zM631 129h11v3h-11zM631 253h11v3h-11zM642 132h11v3h-11zM642 253h11v3h-11zM653 129h11v6h-11zM653 253h11v3h-11zM664 138h12v3h-12zM664 253h12v3h-12zM676 132h11v3h-11zM687 135h11v6h-11zM698 132h12v3h-12zM710 135h11v6h-11zM721 129h11v3h-11zM732 132h12v3h-12zM744 132h11v3h-11zM755 71h11v3h-11zM755 132h11v3h-11zM755 253h11v3h-11zM777 129h12v3h-12zM777 253h12v3h-12zM789 135h11v3h-11zM789 253h11v3h-11zM800 135h11v6h-11zM800 253h11v3h-11zM811 141h12v3h-12zM823 138h11v3h-11zM834 141h11v3h-11zM845 138h12v3h-12zM857 138h11v3h-11zM868 129h11v3h-11zM902 126h11v6h-11zM902 253h11v3h-11zM913 132h11v6h-11z"/>
<path fill="#00FFFF" d="M156 68h11v3h-11zM156 119h11v3h-11zM167 122h12v4h-12zM179 129h11v3h-11zM179 253h11v3h-11zM190 129h11v3h-11zM190 253h11v3h-11zM201 129h11v3h-11zM212 68h12v3h-12zM212 132h12v3h-12zM224 135h11v3h-11zM235 68h11v3h-11zM235 132h11v3h-11zM235 256h11v3h-11zM246 126h12v3h-12zM258 126h11v3h-11zM258 253h11v3h-11zM269 129h11v3h-11zM269 253h11v3h-11zM280 129h12v3h-12zM280 253h12v3h-12zM292 74h11v3h-11zM292 129h11v3h-11zM292 253h11v3h-11zM314 129h11v3h-11zM314 253h11v3h-11zM337 129h11v3h-11zM337 253h11v3h-11zM348 132h11v3h-11zM348 253h11v3h-11zM359 126h12v3h-12zM371 122h11v4h-11zM382 122h11v4h-11zM393 122h12v4h-12zM405 122h11v4h-11zM416 122h11v4h-11zM438 126h12v3h-12zM450 126h11v3h-11zM461 126h11v3h-11zM472 126h12v3h-12zM495 126h11v3h-11zM495 253h11v3h-11zM506 132h12v3h-12zM506 253h12v3h-12zM518 138h11v3h-11zM518 253h11v3h-11zM529 135h11v3h-11zM529 253h11v3h-11zM540 132h11v3h-11zM540 253h11v3h-11zM551 132h12v3h-12zM551 253h12v3h-12zM563 68h11v3h-11zM563 129h11v3h-11zM563 253h11v3h-11zM574 71h11v3h-11zM574 126h11v3h-11zM585 126h12v3h-12zM597 71h11v3h-11zM597 126h11v3h-11zM608 122h11v4h-11zM631 126h11v3h-11zM642 71h11v3h-11zM642 129h11v3h-11zM653 126h11v3h-11zM664 68h12v3h-12zM664 135h12v3h-12zM676 129h11v3h-11zM676 253h11v3h-11zM687 132h11v3h-11zM687 253h11v3h-11zM698 129h12v3h-12zM698 253h12v3h-12zM710 132h11v3h-11zM710 253h11v3h-11zM721 126h11v3h-11zM721 253h11v3h-11zM732 129h12v3h-12zM732 253h12v3h-12zM744 129h11v3h-11zM744 253h11v3h-11zM755 129h11v3h-11zM777 68h12v3h-12zM777 126h12v3h-12zM789 132h11v3h-11zM800 132h11v3h-11zM811 68h12v3h-12zM811 138h12v3h-12zM811 253h12v3h-12zM823 135h11v3h-11zM823 253h11v3h-11zM834 68h11v3h-11zM834 138h11v3h-11zM834 253h11v3h-11zM845 135h12v3h-12zM845 253h12v3h-12zM857 135h11v3h-11zM857 253h11v3h-11zM868 71h11v3h-11zM868 126h11v3h-11zM868 253h11v3h-11zM902 122h11v4h-11zM913 129h11v3h-11zM913 253h11v3h-11z"/>
<path fill="#10FFEF" d="M156 71h11v3h-11zM156 256h11v3h-11zM167 256h12v3h-12zM179 126h11v3h-11zM179 256h11v3h-11zM190 126h11v3h-11zM190 256h11v3h-11zM212 71h12v3h-12zM212 256h12v3h-12zM224 74h11v3h-11zM224 132h11v3h-11zM235 71h11v3h-11zM235 129h11v3h-11zM246 68h12v6h-12zM246 256h12v3h-12zM258 68h11v6h-11zM258 122h11v4h-11zM258 256h11v3h-11zM269 256h11v3h-11zM280 68h12v6h-12zM280 126h12v3h-12zM280 256h12v3h-12zM292 126h11v3h-11zM292 256h11v3h-11zM314 126h11v3h-11zM314 256h11v3h-11zM337 68h11v6h-11zM337 256h11v3h-11zM348 68h11v3h-11zM348 129h11v3h-11zM359 122h12v4h-12zM359 256h12v3h-12zM371 119h11v3h-11zM371 256h11v3h-11zM382 119h11v3h-11zM382 256h11v3h-11zM393 119h12v3h-12zM393 256h12v3h-12zM405 119h11v3h-11zM405 256h11v3h-11zM416 256h11v3h-11zM438 68h12v6h-12zM438 122h12v4h-12zM438 256h12v3h-12zM450 256h11v3h-11zM461 68h11v3h-11zM461 122h11v4h-11zM461 256h11v3h-11zM472 68h12v3h-12zM472 122h12v4h-12zM472 256h12v3h-12zM495 256h11v3h-11zM506 129h12v3h-12zM506 256h12v3h-12zM518 68h11v6h-11zM518 135h11v3h-11zM518 256h11v3h-11zM529 68h11v3h-11zM529 132h11v3h-11zM529 256h11v3h-11zM540 256h11v3h-11zM551 68h12v3h-12zM551 129h12v3h-12zM551 256h12v3h-12zM563 71h11v3h-11zM563 256h11v3h-11zM574 74h11v3h-11zM574 122h11v4h-11zM574 256h11v3h-11zM585 68h12v6h-12zM585 122h12v4h-12zM585 256h12v3h-12zM597 74h11v3h-11zM597 122h11v4h-11zM597 256h11v3h-11zM608 256h11v3h-11zM631 68h11v3h-11zM631 122h11v4h-11zM631 256h11v3h-11zM642 74h11v3h-11zM642 126h11v3h-11zM642 256h11v3h-11zM653 68h11v6h-11zM653 256h11v3h-11zM664 71h12v3h-12zM664 132h12v3h-12zM664 256h12v3h-12zM676 126h11v3h-11zM676 256h11v3h-11zM687 256h11v3h-11zM698 126h12v3h-12zM698 256h12v3h-12zM710 256h11v3h-11zM721 122h11v4h-11zM721 256h11v3h-11zM732 68h12v6h-12zM732 126h12v3h-12zM732 256h12v3h-12zM744 126h11v3h-11zM744 256h11v3h-11zM755 74h11v3h-11zM755 126h11v3h-11zM755 256h11v3h-11zM777 71h12v3h-12zM777 122h12v4h-12zM777 256h12v3h-12zM789 68h11v3h-11zM789 129h11v3h-11zM789 256h11v3h-11zM800 68h11v3h-11zM800 256h11v3h-11zM811 71h12v3h-12zM811 135h12v3h-12zM811 256h12v3h-12zM823 68h11v3h-11zM823 132h11v3h-11zM823 256h11v3h-11zM834 71h11v3h-11zM834 256h11v3h-11zM845 68h12v6h-12zM845 132h12v3h-12zM845 256h12v3h-12zM857 68h11v6h-11zM857 256h11v3h-11zM868 74h11v3h-11zM868 122h11v4h-11zM868 256h11v3h-11zM902 68h11v6h-11zM902 256h11v3h-11zM913 256h11v3h-11z"/>
<path fill="#20FFDF" d="M156 74h11v3h-11zM156 116h11v3h-11zM156 259h11v3h-11zM167 119h12v3h-12zM190 122h11v4h-11zM201 126h11v3h-11zM212 74h12v3h-12zM212 129h12v3h-12zM212 259h12v3h-12zM235 74h11v3h-11zM235 259h11v3h-11zM246 74h12v3h-12zM246 122h12v4h-12zM246 259h12v3h-12zM258 74h11v3h-11zM258 119h11v3h-11zM269 126h11v3h-11zM280 74h12v3h-12zM280 122h12v4h-12zM292 122h11v4h-11zM337 74h11v3h-11zM337 126h11v3h-11zM348 71h11v6h-11zM348 126h11v3h-11zM348 256h11v3h-11zM359 119h12v3h-12zM416 119h11v3h-11zM438 74h12v3h-12zM450 122h11v4h-11zM461 71h11v6h-11zM472 71h12v6h-12zM472 119h12v3h-12zM495 122h11v4h-11zM518 74h11v3h-11zM518 132h11v3h-11zM529 71h11v6h-11zM540 129h11v3h-11zM551 71h12v6h-12zM563 74h11v3h-11zM563 126h11v3h-11zM574 119h11v3h-11zM585 74h12v3h-12zM597 119h11v3h-11zM608 68h11v6h-11zM608 119h11v3h-11zM631 71h11v6h-11zM631 119h11v3h-11zM653 74h11v3h-11zM653 122h11v4h-11zM664 74h12v3h-12zM687 129h11v3h-11zM710 129h11v3h-11zM721 119h11v3h-11zM732 74h12v3h-12zM732 122h12v4h-12zM744 122h11v4h-11zM755 122h11v4h-11zM777 74h12v3h-12zM777 119h12v3h-12zM789 71h11v6h-11zM800 71h11v6h-11zM800 129h11v3h-11zM811 74h12v3h-12zM823 71h11v6h-11zM823 129h11v3h-11zM834 74h11v3h-11zM834 135h11v3h-11zM845 74h12v3h-12zM857 74h11v3h-11zM857 132h11v3h-11zM868 119h11v3h-11zM902 74h11v3h-11zM902 119h11v3h-11zM913 126h11v3h-11z"/>
<path fill="#30FFCF" d="M167 68h12v9h-12zM167 116h12v3h-12zM167 259h12v3h-12zM179 122h11v4h-11zM201 71h11v6h-11zM201 122h11v4h-11zM212 126h12v3h-12zM224 77h11v3h-11zM224 129h11v3h-11zM235 126h11v3h-11zM235 262h11v3h-11zM246 119h12v3h-12zM269 122h11v4h-11zM292 77h11v3h-11zM292 259h11v3h-11zM314 122h11v4h-11zM337 122h11v4h-11zM359 71h12v6h-12zM359 259h12v3h-12zM371 71h11v6h-11zM371 116h11v3h-11zM371 259h11v3h-11zM382 68h11v9h-11zM382 116h11v3h-11zM382 259h11v3h-11zM393 116h12v3h-12zM393 259h12v3h-12zM405 116h11v3h-11zM405 259h11v3h-11zM416 68h11v9h-11zM416 116h11v3h-11zM416 259h11v3h-11zM438 119h12v3h-12zM438 259h12v3h-12zM450 71h11v6h-11zM450 119h11v3h-11zM450 259h11v3h-11zM461 119h11v3h-11zM461 259h11v3h-11zM472 259h12v3h-12zM495 71h11v6h-11zM495 119h11v3h-11zM495 259h11v3h-11zM506 68h12v9h-12zM506 126h12v3h-12zM506 259h12v3h-12zM529 129h11v3h-11zM529 259h11v3h-11zM540 68h11v9h-11zM540 126h11v3h-11zM540 259h11v3h-11zM551 126h12v3h-12zM551 259h12v3h-12zM563 122h11v4h-11zM574 77h11v3h-11zM574 259h11v3h-11zM585 119h12v3h-12zM585 259h12v3h-12zM597 77h11v3h-11zM597 259h11v3h-11zM608 74h11v3h-11zM608 116h11v3h-11zM608 259h11v3h-11zM631 259h11v3h-11zM642 77h11v3h-11zM642 122h11v4h-11zM642 259h11v3h-11zM653 119h11v3h-11zM653 259h11v3h-11zM664 129h12v3h-12zM664 259h12v3h-12zM676 68h11v9h-11zM676 122h11v4h-11zM676 259h11v3h-11zM687 68h11v9h-11zM687 126h11v3h-11zM687 259h11v3h-11zM698 68h12v9h-12zM698 122h12v4h-12zM698 259h12v3h-12zM710 68h11v9h-11zM710 126h11v3h-11zM710 259h11v3h-11zM721 68h11v9h-11zM721 259h11v3h-11zM732 259h12v3h-12zM744 71h11v6h-11zM755 77h11v3h-11zM755 259h11v3h-11zM777 259h12v3h-12zM789 126h11v3h-11zM789 259h11v3h-11zM800 126h11v3h-11zM800 259h11v3h-11zM811 132h12v3h-12zM811 259h12v3h-12zM834 132h11v3h-11zM834 259h11v3h-11zM845 129h12v3h-12zM857 129h11v3h-11zM857 259h11v3h-11zM868 77h11v3h-11zM868 259h11v3h-11zM902 116h11v3h-11zM902 259h11v3h-11zM913 122h11v4h-11zM913 259h11v3h-11z"/>
<path fill="#40FFBF" d="M156 77h11v3h-11zM156 113h11v3h-11zM156 262h11v3h-11zM179 74h11v3h-11zM179 119h11v3h-11zM179 259h11v3h-11zM190 74h11v3h-11zM190 119h11v3h-11zM190 259h11v3h-11zM201 68h11v3h-11zM212 77h12v3h-12zM212 262h12v3h-12zM224 126h11v3h-11zM235 77h11v3h-11zM235 122h11v4h-11zM246 77h12v3h-12zM246 262h12v3h-12zM258 77h11v3h-11zM258 116h11v3h-11zM258 259h11v3h-11zM269 74h11v3h-11zM269 259h11v3h-11zM280 77h12v3h-12zM280 119h12v3h-12zM280 259h12v3h-12zM292 119h11v3h-11zM314 71h11v6h-11zM314 119h11v3h-11zM314 259h11v3h-11zM337 77h11v3h-11zM337 259h11v3h-11zM348 77h11v3h-11zM348 122h11v4h-11zM348 259h11v3h-11zM359 68h12v3h-12zM359 116h12v3h-12zM371 68h11v3h-11zM393 71h12v6h-12zM405 71h11v6h-11zM438 77h12v3h-12zM450 68h11v3h-11zM461 77h11v3h-11zM472 77h12v3h-12zM472 116h12v3h-12zM495 68h11v3h-11zM506 122h12v4h-12zM518 77h11v3h-11zM518 129h11v3h-11zM518 259h11v3h-11zM529 77h11v3h-11zM529 126h11v3h-11zM551 77h12v3h-12zM551 122h12v4h-12zM563 77h11v3h-11zM563 259h11v3h-11zM574 116h11v3h-11zM585 77h12v3h-12zM597 116h11v3h-11zM608 77h11v3h-11zM631 77h11v3h-11zM631 116h11v3h-11zM642 119h11v3h-11zM653 77h11v3h-11zM664 77h12v3h-12zM664 126h12v3h-12zM676 119h11v3h-11zM698 119h12v3h-12zM721 116h11v3h-11zM732 77h12v3h-12zM732 119h12v3h-12zM744 68h11v3h-11zM744 119h11v3h-11zM744 259h11v3h-11zM755 119h11v3h-11zM777 77h12v3h-12zM777 116h12v3h-12zM789 77h11v3h-11zM789 122h11v4h-11zM800 77h11v3h-11zM811 77h12v3h-12zM811 129h12v3h-12zM823 77h11v3h-11zM823 126h11v3h-11zM823 259h11v3h-11zM834 77h11v3h-11zM845 77h12v3h-12zM845 126h12v3h-12zM845 259h12v3h-12zM857 77h11v3h-11zM868 116h11v3h-11zM902 77h11v3h-11zM913 71h11v6h-11z"/>
<path fill="#50FFAF" d="M167 77h12v3h-12zM167 262h12v3h-12zM179 71h11v3h-11zM179 77h11v3h-11zM190 71h11v3h-11zM190 77h11v3h-11zM201 77h11v3h-11zM201 119h11v3h-11zM212 122h12v4h-12zM212 265h12v3h-12zM235 265h11v3h-11zM246 116h12v3h-12zM269 71h11v3h-11zM269 77h11v3h-11zM269 119h11v3h-11zM280 116h12v3h-12zM292 262h11v3h-11zM314 68h11v3h-11zM314 77h11v3h-11zM337 119h11v3h-11zM359 77h12v3h-12zM359 262h12v3h-12zM371 77h11v3h-11zM371 113h11v3h-11zM371 262h11v3h-11zM382 77h11v3h-11zM382 113h11v3h-11zM382 262h11v3h-11zM393 68h12v3h-12zM393 77h12v3h-12zM393 113h12v3h-12zM393 262h12v3h-12zM405 68h11v3h-11zM405 77h11v3h-11zM405 113h11v3h-11zM405 262h11v3h-11zM416 77h11v3h-11zM416 262h11v3h-11zM438 116h12v3h-12zM438 262h12v3h-12zM450 77h11v3h-11zM450 116h11v3h-11zM450 262h11v3h-11zM461 116h11v3h-11zM461 262h11v3h-11zM472 262h12v3h-12zM495 77h11v3h-11zM495 116h11v3h-11zM506 77h12v3h-12zM506 262h12v3h-12zM540 77h11v3h-11zM540 122h11v4h-11zM563 119h11v3h-11zM574 262h11v3h-11zM585 116h12v3h-12zM585 262h12v3h-12zM597 262h11v3h-11zM608 262h11v3h-11zM631 262h11v3h-11zM642 262h11v3h-11zM653 116h11v3h-11zM653 262h11v3h-11zM664 262h12v3h-12zM676 77h11v3h-11zM687 77h11v3h-11zM687 122h11v4h-11zM698 77h12v3h-12zM710 77h11v3h-11zM710 122h11v4h-11zM721 77h11v3h-11zM721 262h11v3h-11zM732 116h12v3h-12zM744 77h11v3h-11zM755 116h11v3h-11zM755 262h11v3h-11zM777 262h12v3h-12zM789 262h11v3h-11zM800 122h11v4h-11zM800 262h11v3h-11zM834 129h11v3h-11zM857 126h11v3h-11zM902 262h11v3h-11zM913 68h11v3h-11zM913 77h11v3h-11zM913 119h11v3h-11z"/>
<path fill="#60FF9F" d="M156 265h11v3h-11zM167 113h12v3h-12zM179 68h11v3h-11zM179 116h11v3h-11zM179 262h11v3h-11zM190 68h11v3h-11zM190 116h11v3h-11zM190 262h11v3h-11zM224 122h11v4h-11zM235 119h11v3h-11zM235 268h11v3h-11zM246 265h12v3h-12zM258 113h11v3h-11zM258 262h11v3h-11zM269 68h11v3h-11zM269 262h11v3h-11zM280 262h12v3h-12zM292 116h11v3h-11zM314 116h11v3h-11zM314 262h11v3h-11zM337 262h11v3h-11zM348 119h11v3h-11zM359 113h12v3h-12zM416 113h11v3h-11zM472 113h12v3h-12zM495 262h11v3h-11zM506 119h12v3h-12zM518 126h11v3h-11zM518 262h11v3h-11zM529 122h11v4h-11zM529 262h11v3h-11zM540 262h11v3h-11zM551 119h12v3h-12zM551 262h12v3h-12zM563 262h11v3h-11zM574 113h11v3h-11zM597 113h11v3h-11zM608 113h11v3h-11zM631 113h11v3h-11zM642 116h11v3h-11zM664 122h12v4h-12zM676 116h11v3h-11zM676 262h11v3h-11zM687 262h11v3h-11zM698 116h12v3h-12zM698 262h12v3h-12zM710 262h11v3h-11zM721 113h11v3h-11zM732 262h12v3h-12zM744 116h11v3h-11zM744 262h11v3h-11zM777 113h12v3h-12zM789 119h11v3h-11zM811 126h12v3h-12zM811 262h12v3h-12zM823 122h11v4h-11zM823 262h11v3h-11zM834 262h11v3h-11zM845 122h12v4h-12zM845 262h12v3h-12zM857 262h11v3h-11zM868 113h11v3h-11zM868 262h11v3h-11zM902 113h11v3h-11zM913 262h11v3h-11z"/>
<path fill="#70FF8F" d="M156 268h11v3h-11zM167 265h12v3h-12zM190 113h11v3h-11zM201 116h11v3h-11zM212 119h12v3h-12zM212 268h12v3h-12zM224 80h11v3h-11zM235 271h11v3h-11zM246 113h12v3h-12zM246 268h12v3h-12zM269 116h11v3h-11zM280 113h12v3h-12zM292 80h11v3h-11zM292 265h11v3h-11zM337 116h11v3h-11zM348 262h11v3h-11zM359 265h12v3h-12zM371 265h11v3h-11zM382 265h11v3h-11zM393 265h12v3h-12zM405 265h11v3h-11zM416 265h11v3h-11zM438 113h12v3h-12zM438 265h12v3h-12zM450 113h11v3h-11zM450 265h11v3h-11zM461 113h11v3h-11zM461 265h11v3h-11zM472 265h12v3h-12zM495 113h11v3h-11zM506 265h12v3h-12zM540 119h11v3h-11zM563 116h11v3h-11zM574 80h11v3h-11zM574 265h11v3h-11zM585 113h12v3h-12zM585 265h12v3h-12zM597 80h11v3h-11zM597 265h11v3h-11zM608 265h11v3h-11zM631 265h11v3h-11zM642 80h11v3h-11zM642 265h11v3h-11zM653 113h11v3h-11zM653 265h11v3h-11zM664 265h12v3h-12zM687 119h11v3h-11zM710 119h11v3h-11zM721 265h11v3h-11zM732 113h12v3h-12zM744 113h11v3h-11zM755 80h11v3h-11zM755 113h11v3h-11zM755 265h11v3h-11zM777 265h12v3h-12zM789 265h11v3h-11zM800 119h11v3h-11zM800 265h11v3h-11zM834 126h11v3h-11zM834 265h11v3h-11zM857 122h11v4h-11zM857 265h11v3h-11zM868 80h11v3h-11zM902 265h11v3h-11zM913 116h11v3h-11z"/>
<path fill="#80FF80" d="M156 80h11v3h-11zM156 110h11v3h-11zM167 80h12v3h-12zM167 110h12v3h-12zM179 113h11v3h-11zM179 265h11v3h-11zM190 265h11v3h-11zM201 80h11v3h-11zM201 113h11v3h-11zM212 80h12v3h-12zM212 271h12v3h-12zM224 119h11v3h-11zM235 80h11v3h-11zM235 116h11v3h-11zM246 80h12v3h-12zM258 80h11v3h-11zM258 265h11v3h-11zM269 265h11v3h-11zM280 80h12v3h-12zM280 265h12v3h-12zM292 113h11v3h-11zM314 113h11v3h-11zM314 265h11v3h-11zM337 80h11v3h-11zM337 113h11v3h-11zM337 265h11v3h-11zM348 80h11v3h-11zM348 116h11v3h-11zM359 80h12v3h-12zM359 268h12v3h-12zM371 80h11v3h-11zM371 110h11v3h-11zM371 268h11v3h-11zM382 80h11v3h-11zM382 110h11v3h-11zM382 268h11v3h-11zM393 110h12v3h-12zM393 268h12v3h-12zM405 110h11v3h-11zM405 268h11v3h-11zM416 80h11v3h-11zM416 110h11v3h-11zM416 268h11v3h-11zM438 80h12v3h-12zM438 268h12v3h-12zM450 80h11v3h-11zM450 268h11v3h-11zM461 80h11v3h-11zM461 268h11v3h-11zM472 80h12v3h-12zM472 268h12v3h-12zM495 80h11v3h-11zM495 265h11v3h-11zM506 80h12v3h-12zM506 116h12v3h-12zM518 80h11v3h-11zM518 122h11v4h-11zM518 265h11v3h-11zM529 80h11v3h-11zM529 119h11v3h-11zM529 265h11v3h-11zM540 80h11v3h-11zM540 265h11v3h-11zM551 80h12v3h-12zM551 116h12v3h-12zM551 265h12v3h-12zM563 80h11v3h-11zM563 113h11v3h-11zM563 265h11v3h-11zM574 268h11v3h-11zM585 80h12v3h-12zM608 80h11v3h-11zM608 110h11v3h-11zM631 80h11v3h-11zM631 268h11v3h-11zM642 113h11v3h-11zM642 268h11v3h-11zM653 80h11v3h-11zM653 268h11v3h-11zM664 80h12v3h-12zM664 119h12v3h-12zM664 268h12v3h-12zM676 80h11v3h-11zM676 113h11v3h-11zM676 265h11v3h-11zM687 80h11v3h-11zM687 265h11v3h-11zM698 80h12v3h-12zM698 113h12v3h-12zM698 265h12v3h-12zM710 80h11v3h-11zM710 265h11v3h-11zM721 80h11v3h-11zM732 80h12v3h-12zM732 265h12v3h-12zM744 80h11v3h-11zM744 265h11v3h-11zM777 80h12v3h-12zM777 268h12v3h-12zM789 80h11v3h-11zM789 116h11v3h-11zM789 268h11v3h-11zM800 80h11v3h-11zM811 80h12v3h-12zM811 122h12v4h-12zM811 265h12v3h-12zM823 80h11v3h-11zM823 119h11v3h-11zM823 265h11v3h-11zM834 80h11v3h-11zM845 80h12v3h-12zM845 119h12v3h-12zM845 265h12v3h-12zM857 80h11v3h-11zM868 265h11v3h-11zM902 80h11v3h-11zM902 110h11v3h-11zM902 268h11v3h-11zM913 265h11v3h-11z"/>
<path fill="#8FFF70" d="M156 271h11v3h-11zM167 268h12v3h-12zM179 80h11v3h-11zM190 80h11v3h-11zM212 116h12v3h-12zM235 113h11v3h-11zM235 274h11v3h-11zM246 110h12v3h-12zM246 271h12v3h-12zM258 110h11v3h-11zM269 80h11v3h-11zM269 113h11v3h-11zM280 110h12v3h-12zM292 268h11v3h-11zM314 80h11v3h-11zM348 113h11v3h-11zM348 265h11v3h-11zM359 110h12v3h-12zM393 80h12v3h-12zM405 80h11v3h-11zM438 110h12v3h-12zM450 110h11v3h-11zM461 110h11v3h-11zM472 110h12v3h-12zM495 268h11v3h-11zM506 268h12v3h-12zM540 116h11v3h-11zM574 110h11v3h-11zM585 110h12v3h-12zM585 268h12v3h-12zM597 110h11v3h-11zM597 268h11v3h-11zM608 268h11v3h-11zM631 110h11v3h-11zM653 110h11v3h-11zM676 268h11v3h-11zM687 116h11v3h-11zM687 268h11v3h-11zM698 268h12v3h-12zM710 116h11v3h-11zM710 268h11v3h-11zM721 110h11v3h-11zM721 268h11v3h-11zM732 110h12v3h-12zM744 110h11v3h-11zM755 110h11v3h-11zM755 268h11v3h-11zM777 110h12v3h-12zM800 116h11v3h-11zM800 268h11v3h-11zM811 268h12v3h-12zM834 122h11v4h-11zM834 268h11v3h-11zM857 119h11v3h-11zM857 268h11v3h-11zM868 110h11v3h-11zM913 80h11v3h-11zM913 113h11v3h-11zM913 268h11v3h-11z"/>
<path fill="#9FFF60" d="M156 274h11v3h-11zM167 271h12v3h-12zM179 110h11v3h-11zM179 268h11v3h-11zM190 110h11v3h-11zM190 268h11v3h-11zM201 110h11v3h-11zM212 113h12v3h-12zM212 274h12v3h-12zM224 116h11v3h-11zM235 277h11v3h-11zM246 274h12v3h-12zM258 268h11v3h-11zM269 268h11v3h-11zM280 268h12v3h-12zM292 110h11v3h-11zM292 271h11v3h-11zM314 110h11v3h-11zM314 268h11v3h-11zM337 110h11v3h-11zM337 268h11v3h-11zM348 268h11v3h-11zM359 271h12v3h-12zM371 271h11v3h-11zM382 271h11v3h-11zM393 271h12v3h-12zM405 271h11v3h-11zM416 271h11v3h-11zM438 271h12v3h-12zM450 271h11v3h-11zM461 271h11v3h-11zM472 271h12v3h-12zM495 110h11v3h-11zM506 113h12v3h-12zM506 271h12v3h-12zM518 119h11v3h-11zM518 268h11v3h-11zM529 116h11v3h-11zM529 268h11v3h-11zM540 113h11v3h-11zM540 268h11v3h-11zM551 113h12v3h-12zM551 268h12v3h-12zM563 110h11v3h-11zM563 268h11v3h-11zM574 271h11v3h-11zM585 271h12v3h-12zM597 271h11v3h-11zM608 271h11v3h-11zM631 271h11v3h-11zM642 110h11v3h-11zM642 271h11v3h-11zM653 271h11v3h-11zM664 116h12v3h-12zM664 271h12v3h-12zM676 110h11v3h-11zM687 113h11v3h-11zM698 110h12v3h-12zM710 113h11v3h-11zM721 271h11v3h-11zM732 268h12v3h-12zM744 268h11v3h-11zM755 271h11v3h-11zM777 271h12v3h-12zM789 113h11v3h-11zM789 271h11v3h-11zM800 113h11v3h-11zM800 271h11v3h-11zM823 116h11v3h-11zM823 268h11v3h-11zM845 116h12v3h-12zM845 268h12v3h-12zM868 268h11v3h-11zM902 271h11v3h-11z"/>
<path fill="#AFFF50" d="M156 83h11v3h-11zM156 107h11v3h-11zM156 277h11v3h-11zM167 83h12v3h-12zM167 107h12v3h-12zM167 274h12v3h-12zM179 271h11v3h-11zM190 271h11v3h-11zM201 83h11v3h-11zM212 83h12v3h-12zM212 110h12v3h-12zM212 277h12v3h-12zM224 83h11v3h-11zM224 113h11v3h-11zM235 83h11v3h-11zM235 110h11v3h-11zM235 280h11v3h-11zM246 83h12v3h-12zM246 277h12v3h-12zM258 83h11v3h-11zM258 107h11v3h-11zM258 271h11v3h-11zM269 110h11v3h-11zM269 271h11v3h-11zM280 83h12v3h-12zM280 271h12v3h-12zM292 83h11v3h-11zM292 274h11v3h-11zM314 271h11v3h-11zM337 83h11v3h-11zM337 271h11v3h-11zM348 83h11v3h-11zM348 110h11v3h-11zM359 83h12v3h-12zM359 274h12v3h-12zM371 83h11v3h-11zM371 107h11v3h-11zM371 274h11v3h-11zM382 83h11v3h-11zM382 274h11v3h-11zM393 274h12v3h-12zM405 274h11v3h-11zM416 83h11v3h-11zM416 274h11v3h-11zM438 83h12v3h-12zM438 274h12v3h-12zM450 83h11v3h-11zM450 274h11v3h-11zM461 83h11v3h-11zM461 274h11v3h-11zM472 83h12v3h-12zM472 274h12v3h-12zM495 83h11v3h-11zM495 271h11v3h-11zM506 83h12v3h-12zM506 110h12v3h-12zM518 83h11v3h-11zM518 271h11v3h-11zM529 83h11v3h-11zM529 113h11v3h-11zM529 271h11v3h-11zM540 83h11v3h-11zM540 110h11v3h-11zM540 271h11v3h-11zM551 83h12v3h-12zM551 110h12v3h-12zM551 271h12v3h-12zM563 83h11v3h-11zM563 271h11v3h-11zM574 83h11v3h-11zM574 274h11v3h-11zM585 83h12v3h-12zM585 274h12v3h-12zM597 83h11v3h-11zM597 274h11v3h-11zM608 83h11v3h-11zM608 107h11v3h-11zM608 274h11v3h-11zM631 83h11v3h-11zM631 274h11v3h-11zM642 83h11v3h-11zM642 274h11v3h-11zM653 83h11v3h-11zM653 274h11v3h-11zM664 83h12v3h-12zM664 113h12v3h-12zM664 274h12v3h-12zM676 83h11v3h-11zM676 271h11v3h-11zM687 83h11v3h-11zM687 110h11v3h-11zM687 271h11v3h-11zM698 83h12v3h-12zM698 271h12v3h-12zM710 83h11v3h-11zM710 271h11v3h-11zM721 83h11v3h-11zM721 274h11v3h-11zM732 83h12v3h-12zM732 271h12v3h-12zM744 83h11v3h-11zM744 271h11v3h-11zM755 83h11v3h-11zM755 274h11v3h-11zM777 83h12v3h-12zM777 274h12v3h-12zM789 83h11v3h-11zM789 274h11v3h-11zM800 83h11v3h-11zM800 274h11v3h-11zM811 83h12v3h-12zM811 119h12v3h-12zM811 271h12v3h-12zM823 83h11v3h-11zM823 113h11v3h-11zM823 271h11v3h-11zM834 83h11v3h-11zM834 271h11v3h-11zM845 83h12v3h-12zM845 113h12v3h-12zM845 271h12v3h-12zM857 83h11v3h-11zM857 116h11v3h-11zM857 271h11v3h-11zM868 83h11v3h-11zM868 271h11v3h-11zM902 83h11v3h-11zM902 107h11v3h-11zM902 274h11v3h-11zM913 110h11v3h-11zM913 271h11v3h-11z"/>
<path fill="#BFFF40" d="M156 280h11v3h-11zM167 277h12v3h-12zM179 83h11v3h-11zM179 274h11v3h-11zM190 83h11v3h-11zM190 107h11v3h-11zM190 274h11v3h-11zM212 107h12v3h-12zM212 280h12v3h-12zM224 107h11v6h-11zM235 107h11v3h-11zM235 283h11v3h-11zM246 107h12v3h-12zM246 280h12v3h-12zM258 274h11v3h-11zM269 83h11v3h-11zM269 274h11v3h-11zM280 107h12v3h-12zM280 274h12v3h-12zM292 107h11v3h-11zM292 277h11v3h-11zM314 83h11v3h-11zM314 107h11v3h-11zM337 107h11v3h-11zM337 274h11v3h-11zM348 271h11v3h-11zM359 107h12v3h-12zM359 277h12v3h-12zM371 277h11v3h-11zM382 107h11v3h-11zM382 277h11v3h-11zM393 83h12v3h-12zM393 107h12v3h-12zM393 277h12v3h-12zM405 83h11v3h-11zM405 107h11v3h-11zM405 277h11v3h-11zM416 107h11v3h-11zM416 277h11v3h-11zM438 107h12v3h-12zM438 277h12v3h-12zM450 107h11v3h-11zM450 277h11v3h-11zM461 107h11v3h-11zM461 277h11v3h-11zM472 107h12v3h-12zM472 277h12v3h-12zM495 274h11v3h-11zM506 274h12v3h-12zM518 116h11v3h-11zM518 274h11v3h-11zM529 110h11v3h-11zM529 274h11v3h-11zM540 274h11v3h-11zM551 274h12v3h-12zM574 107h11v3h-11zM574 277h11v3h-11zM585 107h12v3h-12zM585 277h12v3h-12zM597 107h11v3h-11zM597 277h11v3h-11zM608 277h11v3h-11zM631 107h11v3h-11zM631 277h11v3h-11zM642 107h11v3h-11zM642 277h11v3h-11zM653 107h11v3h-11zM653 277h11v3h-11zM664 110h12v3h-12zM664 277h12v3h-12zM676 274h11v3h-11zM687 274h11v3h-11zM698 107h12v3h-12zM698 274h12v3h-12zM710 110h11v3h-11zM710 274h11v3h-11zM721 277h11v3h-11zM732 107h12v3h-12zM732 274h12v3h-12zM744 107h11v3h-11zM744 274h11v3h-11zM755 107h11v3h-11zM755 277h11v3h-11zM777 107h12v3h-12zM777 277h12v3h-12zM789 110h11v3h-11zM789 277h11v3h-11zM800 110h11v3h-11zM800 277h11v3h-11zM811 274h12v3h-12zM823 110h11v3h-11zM823 274h11v3h-11zM834 119h11v3h-11zM834 274h11v3h-11zM845 110h12v3h-12zM845 274h12v3h-12zM857 113h11v3h-11zM857 274h11v3h-11zM868 107h11v3h-11zM868 274h11v3h-11zM902 277h11v3h-11zM913 83h11v3h-11zM913 274h11v3h-11z"/>
<path fill="#CFFF30" d="M156 104h11v3h-11zM156 283h11v3h-11zM167 104h12v3h-12zM167 280h12v3h-12zM179 107h11v3h-11zM179 277h11v3h-11zM190 277h11v3h-11zM201 107h11v3h-11zM212 283h12v3h-12zM235 286h11v3h-11zM246 283h12v3h-12zM258 277h11v3h-11zM280 277h12v3h-12zM292 280h11v3h-11zM314 274h11v3h-11zM337 277h11v3h-11zM348 274h11v3h-11zM359 280h12v3h-12zM371 280h11v3h-11zM382 280h11v3h-11zM393 280h12v3h-12zM405 280h11v3h-11zM416 280h11v3h-11zM438 280h12v3h-12zM450 280h11v3h-11zM461 280h11v3h-11zM472 280h12v3h-12zM495 107h11v3h-11zM495 277h11v3h-11zM506 107h12v3h-12zM506 277h12v3h-12zM518 113h11v3h-11zM518 277h11v3h-11zM529 277h11v3h-11zM540 107h11v3h-11zM540 277h11v3h-11zM551 107h12v3h-12zM551 277h12v3h-12zM563 107h11v3h-11zM563 274h11v3h-11zM574 280h11v3h-11zM585 280h12v3h-12zM597 280h11v3h-11zM608 280h11v3h-11zM631 280h11v3h-11zM642 280h11v3h-11zM653 280h11v3h-11zM664 107h12v3h-12zM664 280h12v3h-12zM676 277h11v3h-11zM687 107h11v3h-11zM687 277h11v3h-11zM698 277h12v3h-12zM710 277h11v3h-11zM721 107h11v3h-11zM721 280h11v3h-11zM732 277h12v3h-12zM744 277h11v3h-11zM755 280h11v3h-11zM777 280h12v3h-12zM789 280h11v3h-11zM800 280h11v3h-11zM811 116h12v3h-12zM811 277h12v3h-12zM823 277h11v3h-11zM834 116h11v3h-11zM834 277h11v3h-11zM845 277h12v3h-12zM857 110h11v3h-11zM857 277h11v3h-11zM868 277h11v3h-11zM902 280h11v3h-11zM913 107h11v3h-11zM913 277h11v3h-11z"/>
<path fill="#DFFF20" d="M156 86h11v3h-11zM156 286h11v3h-11zM167 283h12v3h-12zM179 280h11v3h-11zM190 280h11v3h-11zM212 86h12v3h-12zM212 104h12v3h-12zM212 286h12v3h-12zM224 86h11v3h-11zM224 104h11v3h-11zM235 86h11v3h-11zM235 104h11v3h-11zM235 289h11v3h-11zM246 104h12v3h-12zM246 286h12v3h-12zM258 104h11v3h-11zM258 280h11v3h-11zM269 107h11v3h-11zM269 277h11v3h-11zM280 104h12v3h-12zM280 280h12v3h-12zM292 86h11v3h-11zM292 283h11v3h-11zM314 104h11v3h-11zM314 277h11v3h-11zM348 107h11v3h-11zM348 277h11v3h-11zM359 104h12v3h-12zM359 283h12v3h-12zM371 104h11v3h-11zM371 283h11v3h-11zM382 283h11v3h-11zM393 283h12v3h-12zM405 283h11v3h-11zM416 283h11v3h-11zM438 104h12v3h-12zM438 283h12v3h-12zM450 104h11v3h-11zM450 283h11v3h-11zM461 104h11v3h-11zM461 283h11v3h-11zM472 104h12v3h-12zM472 283h12v3h-12zM495 280h11v3h-11zM506 280h12v3h-12zM518 110h11v3h-11zM518 280h11v3h-11zM529 107h11v3h-11zM529 280h11v3h-11zM540 280h11v3h-11zM551 280h12v3h-12zM563 277h11v3h-11zM574 86h11v3h-11zM574 104h11v3h-11zM574 283h11v3h-11zM585 104h12v3h-12zM585 283h12v3h-12zM597 86h11v3h-11zM597 104h11v3h-11zM597 283h11v3h-11zM608 104h11v3h-11zM608 283h11v3h-11zM631 104h11v3h-11zM631 283h11v3h-11zM642 86h11v3h-11zM642 104h11v3h-11zM642 283h11v3h-11zM653 104h11v3h-11zM653 283h11v3h-11zM664 283h12v3h-12zM676 107h11v3h-11zM676 280h11v3h-11zM687 280h11v3h-11zM698 280h12v3h-12zM710 107h11v3h-11zM710 280h11v3h-11zM721 283h11v3h-11zM732 104h12v3h-12zM732 280h12v3h-12zM744 104h11v3h-11zM744 280h11v3h-11zM755 86h11v3h-11zM755 104h11v3h-11zM755 283h11v3h-11zM777 86h12v3h-12zM777 104h12v3h-12zM777 283h12v3h-12zM789 283h11v3h-11zM800 107h11v3h-11zM800 283h11v3h-11zM811 113h12v3h-12zM811 280h12v3h-12zM823 107h11v3h-11zM823 280h11v3h-11zM834 113h11v3h-11zM834 280h11v3h-11zM845 107h12v3h-12zM845 280h12v3h-12zM857 280h11v3h-11zM868 86h11v3h-11zM868 104h11v3h-11zM868 280h11v3h-11zM902 104h11v3h-11zM902 283h11v3h-11zM913 280h11v3h-11z"/>
<path fill="#EFFF10" d="M156 289h11v3h-11zM167 86h12v3h-12zM167 286h12v3h-12zM179 86h11v3h-11zM179 283h11v3h-11zM190 86h11v3h-11zM190 104h11v3h-11zM190 283h11v3h-11zM201 86h11v3h-11zM201 104h11v3h-11zM235 292h11v3h-11zM246 86h12v3h-12zM246 289h12v3h-12zM258 86h11v3h-11zM258 283h11v3h-11zM269 86h11v3h-11zM269 280h11v3h-11zM280 86h12v3h-12zM280 283h12v3h-12zM292 104h11v3h-11zM314 86h11v3h-11zM314 280h11v3h-11zM337 86h11v3h-11zM337 104h11v3h-11zM337 280h11v3h-11zM348 86h11v3h-11zM348 280h11v3h-11zM359 86h12v3h-12zM359 286h12v3h-12zM371 86h11v3h-11zM371 286h11v3h-11zM382 86h11v3h-11zM382 104h11v3h-11zM382 286h11v3h-11zM393 86h12v3h-12zM393 104h12v3h-12zM393 286h12v3h-12zM405 86h11v3h-11zM405 286h11v3h-11zM416 86h11v3h-11zM416 104h11v3h-11zM416 286h11v3h-11zM438 86h12v3h-12zM438 286h12v3h-12zM450 86h11v3h-11zM450 286h11v3h-11zM461 86h11v3h-11zM461 286h11v3h-11zM472 86h12v3h-12zM472 286h12v3h-12zM495 86h11v3h-11zM495 283h11v3h-11zM506 86h12v3h-12zM506 283h12v3h-12zM518 86h11v3h-11zM518 283h11v3h-11zM529 86h11v3h-11zM529 283h11v3h-11zM540 86h11v3h-11zM540 283h11v3h-11zM551 86h12v3h-12zM551 283h12v3h-12zM563 86h11v3h-11zM563 280h11v3h-11zM574 286h11v3h-11zM585 86h12v3h-12zM585 286h12v3h-12zM597 286h11v3h-11zM608 86h11v3h-11zM608 286h11v3h-11zM631 86h11v3h-11zM631 286h11v3h-11zM642 286h11v3h-11zM653 86h11v3h-11zM653 286h11v3h-11zM664 86h12v3h-12zM664 104h12v3h-12zM664 286h12v3h-12zM676 86h11v3h-11zM676 283h11v3h-11zM687 86h11v3h-11zM687 283h11v3h-11zM698 86h12v3h-12zM698 104h12v3h-12zM698 283h12v3h-12zM710 86h11v3h-11zM710 283h11v3h-11zM721 86h11v3h-11zM732 86h12v3h-12zM732 283h12v3h-12zM744 86h11v3h-11zM744 283h11v3h-11zM755 286h11v3h-11zM777 286h12v3h-12zM789 86h11v3h-11zM789 107h11v3h-11zM789 286h11v3h-11zM800 86h11v3h-11zM800 286h11v3h-11zM811 86h12v3h-12zM811 110h12v3h-12zM811 283h12v3h-12zM823 86h11v3h-11zM823 283h11v3h-11zM834 86h11v3h-11zM834 110h11v3h-11zM834 283h11v3h-11zM845 86h12v3h-12zM845 283h12v3h-12zM857 86h11v3h-11zM857 107h11v3h-11zM857 283h11v3h-11zM868 283h11v3h-11zM902 86h11v3h-11zM902 286h11v3h-11zM913 86h11v3h-11zM913 283h11v3h-11z"/>
<path fill="#FFFF00" d="M156 101h11v3h-11zM156 292h11v3h-11zM167 101h12v3h-12zM167 289h12v3h-12zM179 104h11v3h-11zM179 286h11v3h-11zM190 286h11v3h-11zM235 295h11v3h-11zM246 292h12v3h-12zM258 286h11v3h-11zM269 283h11v3h-11zM280 286h12v3h-12zM292 286h11v6h-11zM314 283h11v3h-11zM337 283h11v3h-11zM348 283h11v3h-11zM359 289h12v3h-12zM371 289h11v3h-11zM382 289h11v3h-11zM393 289h12v3h-12zM405 104h11v3h-11zM405 289h11v3h-11zM416 289h11v3h-11zM438 289h12v3h-12zM450 289h11v3h-11zM461 289h11v3h-11zM472 289h12v3h-12zM495 104h11v3h-11zM495 286h11v3h-11zM506 104h12v3h-12zM506 286h12v3h-12zM518 107h11v3h-11zM518 286h11v3h-11zM529 104h11v3h-11zM529 286h11v3h-11zM540 104h11v3h-11zM540 286h11v3h-11zM551 104h12v3h-12zM551 286h12v3h-12zM563 104h11v3h-11zM563 283h11v3h-11zM574 289h11v3h-11zM585 289h12v3h-12zM597 289h11v3h-11zM608 289h11v3h-11zM631 289h11v3h-11zM642 289h11v3h-11zM653 289h11v3h-11zM664 289h12v3h-12zM676 286h11v3h-11zM687 104h11v3h-11zM687 286h11v3h-11zM698 286h12v3h-12zM710 286h11v3h-11zM721 104h11v3h-11zM721 286h11v3h-11zM732 286h12v3h-12zM744 286h11v3h-11zM755 289h11v3h-11zM777 289h12v3h-12zM789 289h11v3h-11zM800 289h11v3h-11zM811 286h12v3h-12zM823 286h11v3h-11zM834 286h11v3h-11zM845 286h12v3h-12zM857 286h11v3h-11zM868 286h11v3h-11zM902 289h11v3h-11zM913 104h11v3h-11zM913 286h11v3h-11z"/>
<path fill="#FFEF00" d="M212 101h12v3h-12zM224 101h11v3h-11zM235 101h11v3h-11zM246 101h12v3h-12zM258 101h11v3h-11zM269 286h11v3h-11zM280 101h12v3h-12zM314 286h11v3h-11zM337 286h11v3h-11zM348 104h11v3h-11zM348 286h11v3h-11zM359 101h12v3h-12zM359 292h12v3h-12zM371 101h11v3h-11zM371 292h11v3h-11zM382 292h11v3h-11zM393 292h12v3h-12zM405 292h11v3h-11zM416 292h11v3h-11zM438 101h12v3h-12zM438 292h12v3h-12zM450 101h11v3h-11zM450 292h11v3h-11zM461 101h11v3h-11zM461 292h11v3h-11zM472 101h12v3h-12zM472 292h12v3h-12zM495 289h11v3h-11zM506 289h12v3h-12zM529 289h11v3h-11zM540 289h11v3h-11zM551 289h12v3h-12zM563 286h11v3h-11zM574 101h11v3h-11zM574 292h11v3h-11zM585 101h12v3h-12zM597 101h11v3h-11zM608 101h11v3h-11zM631 101h11v3h-11zM631 292h11v3h-11zM642 101h11v3h-11zM642 292h11v3h-11zM653 101h11v3h-11zM653 292h11v3h-11zM664 292h12v3h-12zM676 104h11v3h-11zM676 289h11v3h-11zM687 289h11v3h-11zM698 289h12v3h-12zM710 104h11v3h-11zM710 289h11v3h-11zM721 289h11v3h-11zM732 101h12v3h-12zM732 289h12v3h-12zM744 101h11v3h-11zM755 101h11v3h-11zM777 101h12v3h-12zM777 292h12v3h-12zM789 292h11v3h-11zM800 104h11v3h-11zM811 289h12v3h-12zM823 104h11v3h-11zM834 107h11v3h-11zM834 289h11v3h-11zM845 104h12v3h-12zM857 289h11v3h-11zM868 101h11v3h-11zM868 289h11v3h-11zM902 101h11v3h-11zM902 292h11v3h-11zM913 289h11v3h-11z"/>
<path fill="#FFDF00" d="M156 89h11v3h-11zM156 295h11v3h-11zM167 89h12v3h-12zM167 292h12v3h-12zM179 289h11v3h-11zM190 101h11v3h-11zM190 289h11v3h-11zM212 89h12v3h-12zM224 89h11v3h-11zM235 89h11v3h-11zM235 298h11v3h-11zM246 89h12v12h-12zM246 295h12v3h-12zM258 89h11v12h-11zM258 289h11v3h-11zM269 104h11v3h-11zM269 289h11v3h-11zM280 89h12v3h-12zM280 289h12v3h-12zM292 89h11v3h-11zM292 101h11v3h-11zM292 292h11v3h-11zM314 89h11v3h-11zM314 101h11v3h-11zM314 289h11v3h-11zM337 89h11v3h-11zM337 101h11v3h-11zM337 289h11v3h-11zM348 289h11v3h-11zM359 89h12v3h-12zM359 295h12v3h-12zM371 89h11v3h-11zM371 295h11v3h-11zM382 89h11v3h-11zM382 101h11v3h-11zM382 295h11v3h-11zM393 89h12v3h-12zM393 101h12v3h-12zM393 295h12v3h-12zM405 295h11v3h-11zM416 89h11v3h-11zM416 101h11v3h-11zM416 295h11v3h-11zM438 89h12v3h-12zM438 295h12v3h-12zM450 89h11v3h-11zM450 295h11v3h-11zM461 89h11v3h-11zM461 295h11v3h-11zM472 89h12v3h-12zM472 295h12v3h-12zM495 292h11v3h-11zM506 292h12v3h-12zM518 289h11v3h-11zM529 292h11v3h-11zM540 292h11v3h-11zM551 89h12v3h-12zM551 292h12v3h-12zM563 89h11v3h-11zM563 289h11v3h-11zM574 89h11v3h-11zM574 295h11v3h-11zM585 89h12v12h-12zM585 292h12v3h-12zM597 89h11v3h-11zM597 292h11v3h-11zM608 89h11v12h-11zM608 292h11v3h-11zM631 89h11v12h-11zM631 295h11v3h-11zM642 89h11v3h-11zM642 295h11v3h-11zM653 89h11v3h-11zM653 295h11v3h-11zM664 89h12v3h-12zM664 101h12v3h-12zM664 295h12v3h-12zM676 292h11v3h-11zM687 292h11v3h-11zM698 89h12v3h-12zM698 101h12v3h-12zM698 292h12v3h-12zM710 292h11v3h-11zM721 292h11v3h-11zM732 89h12v3h-12zM732 292h12v3h-12zM744 89h11v3h-11zM744 289h11v3h-11zM755 89h11v3h-11zM755 292h11v3h-11zM777 89h12v3h-12zM777 295h12v3h-12zM789 104h11v3h-11zM789 295h11v3h-11zM800 292h11v3h-11zM811 107h12v3h-12zM811 292h12v3h-12zM823 289h11v3h-11zM834 292h11v3h-11zM845 289h12v3h-12zM857 292h11v3h-11zM868 89h11v3h-11zM868 292h11v3h-11zM902 89h11v3h-11zM902 295h11v3h-11zM913 292h11v3h-11z"/>
<path fill="#FFCF00" d="M156 98h11v3h-11zM156 298h11v3h-11zM167 98h12v3h-12zM167 295h12v3h-12zM179 89h11v3h-11zM179 292h11v3h-11zM190 89h11v3h-11zM190 292h11v3h-11zM201 89h11v3h-11zM201 101h11v3h-11zM212 92h12v9h-12zM235 92h11v9h-11zM246 298h12v3h-12zM258 292h11v3h-11zM269 89h11v3h-11zM269 292h11v3h-11zM280 292h12v3h-12zM292 295h11v3h-11zM314 292h11v3h-11zM337 292h11v3h-11zM348 89h11v3h-11zM359 298h12v3h-12zM371 298h11v3h-11zM405 89h11v3h-11zM438 92h12v9h-12zM438 298h12v3h-12zM450 92h11v9h-11zM450 298h11v3h-11zM461 298h11v3h-11zM472 92h12v9h-12zM472 298h12v3h-12zM495 89h11v3h-11zM495 295h11v3h-11zM506 89h12v3h-12zM506 295h12v3h-12zM518 89h11v3h-11zM518 104h11v3h-11zM518 292h11v3h-11zM529 89h11v3h-11zM540 89h11v3h-11zM551 101h12v3h-12zM563 101h11v3h-11zM563 292h11v3h-11zM574 92h11v9h-11zM574 298h11v3h-11zM585 295h12v3h-12zM597 295h11v3h-11zM608 295h11v3h-11zM631 298h11v3h-11zM642 298h11v3h-11zM653 92h11v9h-11zM653 298h11v3h-11zM676 89h11v3h-11zM676 295h11v3h-11zM687 89h11v3h-11zM687 295h11v3h-11zM698 295h12v3h-12zM710 89h11v3h-11zM710 295h11v3h-11zM721 89h11v3h-11zM721 295h11v3h-11zM732 92h12v9h-12zM744 292h11v3h-11zM755 92h11v9h-11zM755 295h11v3h-11zM777 92h12v9h-12zM777 298h12v3h-12zM789 89h11v3h-11zM800 89h11v3h-11zM800 295h11v3h-11zM811 295h12v3h-12zM823 89h11v3h-11zM823 292h11v3h-11zM834 89h11v3h-11zM834 295h11v3h-11zM845 89h12v3h-12zM845 292h12v3h-12zM857 89h11v3h-11zM857 104h11v3h-11zM857 295h11v3h-11zM902 92h11v9h-11zM913 89h11v3h-11zM913 295h11v3h-11z"/>
<path fill="#FFBF00" d="M156 92h11v6h-11zM156 301h11v3h-11zM167 92h12v6h-12zM167 298h12v3h-12zM179 101h11v3h-11zM179 295h11v3h-11zM190 295h11v3h-11zM224 92h11v9h-11zM246 301h12v3h-12zM258 295h11v3h-11zM269 295h11v3h-11zM280 92h12v9h-12zM280 295h12v3h-12zM292 92h11v3h-11zM292 98h11v3h-11zM292 298h11v3h-11zM314 92h11v9h-11zM314 295h11v3h-11zM337 92h11v3h-11zM337 295h11v3h-11zM348 292h11v3h-11zM359 92h12v9h-12zM371 92h11v9h-11zM382 92h11v3h-11zM382 298h11v3h-11zM393 92h12v3h-12zM393 298h12v3h-12zM405 101h11v3h-11zM405 298h11v3h-11zM416 92h11v3h-11zM416 298h11v3h-11zM438 301h12v3h-12zM450 301h11v3h-11zM461 92h11v9h-11zM461 301h11v3h-11zM495 101h11v3h-11zM495 298h11v3h-11zM506 101h12v3h-12zM506 298h12v3h-12zM518 295h11v3h-11zM529 101h11v3h-11zM529 295h11v3h-11zM540 101h11v3h-11zM540 295h11v3h-11zM551 295h12v3h-12zM563 295h11v3h-11zM574 301h11v3h-11zM585 298h12v3h-12zM597 92h11v9h-11zM597 298h11v3h-11zM608 298h11v3h-11zM642 92h11v9h-11zM642 301h11v3h-11zM653 301h11v3h-11zM664 92h12v3h-12zM664 98h12v3h-12zM664 298h12v3h-12zM676 298h11v3h-11zM687 101h11v3h-11zM687 298h11v3h-11zM698 92h12v3h-12zM698 298h12v3h-12zM710 298h11v3h-11zM721 101h11v3h-11zM721 298h11v3h-11zM732 295h12v3h-12zM744 92h11v9h-11zM744 295h11v3h-11zM755 298h11v3h-11zM777 301h12v3h-12zM789 298h11v3h-11zM800 298h11v3h-11zM811 89h12v3h-12zM811 298h12v3h-12zM823 295h11v3h-11zM834 104h11v3h-11zM834 298h11v3h-11zM845 295h12v3h-12zM857 298h11v3h-11zM868 92h11v9h-11zM868 295h11v3h-11zM902 298h11v3h-11zM913 101h11v3h-11zM913 298h11v3h-11z"/>
<path fill="#FFAF00" d="M156 304h11v3h-11zM167 301h12v3h-12zM179 92h11v3h-11zM179 298h11v3h-11zM190 92h11v9h-11zM190 298h11v3h-11zM201 92h11v3h-11zM201 98h11v3h-11zM258 298h11v3h-11zM269 298h11v3h-11zM280 298h12v3h-12zM292 95h11v3h-11zM292 301h11v3h-11zM314 298h11v3h-11zM337 95h11v6h-11zM337 298h11v3h-11zM348 295h11v3h-11zM359 301h12v6h-12zM371 301h11v6h-11zM382 95h11v6h-11zM382 301h11v3h-11zM393 95h12v6h-12zM393 301h12v3h-12zM405 92h11v3h-11zM405 301h11v3h-11zM416 95h11v6h-11zM416 301h11v3h-11zM438 304h12v3h-12zM450 304h11v3h-11zM461 304h11v3h-11zM472 301h12v6h-12zM495 92h11v3h-11zM495 301h11v3h-11zM506 92h12v3h-12zM506 301h12v3h-12zM518 298h11v3h-11zM529 92h11v3h-11zM529 298h11v3h-11zM540 92h11v3h-11zM540 298h11v3h-11zM551 92h12v3h-12zM551 298h12v3h-12zM563 92h11v3h-11zM563 298h11v3h-11zM574 304h11v3h-11zM585 301h12v3h-12zM597 301h11v3h-11zM608 301h11v3h-11zM631 301h11v6h-11zM642 304h11v3h-11zM653 304h11v3h-11zM664 95h12v3h-12zM664 301h12v3h-12zM676 301h11v3h-11zM687 92h11v3h-11zM687 301h11v3h-11zM698 95h12v6h-12zM698 301h12v3h-12zM710 301h11v3h-11zM721 92h11v3h-11zM721 301h11v3h-11zM732 298h12v3h-12zM744 298h11v3h-11zM755 301h11v3h-11zM777 304h12v3h-12zM789 301h11v3h-11zM800 92h11v3h-11zM800 101h11v3h-11zM800 301h11v3h-11zM811 301h12v3h-12zM823 298h11v3h-11zM834 301h11v3h-11zM845 298h12v3h-12zM857 301h11v3h-11zM868 298h11v3h-11zM902 301h11v3h-11zM913 92h11v3h-11zM913 301h11v3h-11z"/>
<path fill="#FF9F00" d="M156 307h11v3h-11zM167 304h12v3h-12zM179 301h11v3h-11zM190 301h11v3h-11zM201 95h11v3h-11zM258 301h11v3h-11zM269 92h11v3h-11zM269 101h11v3h-11zM269 301h11v3h-11zM280 301h12v3h-12zM292 304h11v3h-11zM314 301h11v3h-11zM337 301h11v3h-11zM348 92h11v3h-11zM348 101h11v3h-11zM348 298h11v6h-11zM359 307h12v3h-12zM371 307h11v3h-11zM382 304h11v6h-11zM393 304h12v6h-12zM405 95h11v6h-11zM405 304h11v6h-11zM416 304h11v6h-11zM438 307h12v3h-12zM450 307h11v3h-11zM461 307h11v3h-11zM472 307h12v3h-12zM495 304h11v3h-11zM506 304h12v3h-12zM518 92h11v3h-11zM518 301h11v3h-11zM529 301h11v6h-11zM540 98h11v3h-11zM540 301h11v6h-11zM551 95h12v6h-12zM551 301h12v6h-12zM563 95h11v6h-11zM563 301h11v3h-11zM574 307h11v3h-11zM585 304h12v3h-12zM597 304h11v3h-11zM608 304h11v3h-11zM631 307h11v3h-11zM642 307h11v3h-11zM653 307h11v3h-11zM664 304h12v6h-12zM676 92h11v3h-11zM676 101h11v3h-11zM676 304h11v3h-11zM687 304h11v3h-11zM698 304h12v3h-12zM710 92h11v3h-11zM710 101h11v3h-11zM710 304h11v3h-11zM721 98h11v3h-11zM721 304h11v3h-11zM732 301h12v6h-12zM744 301h11v3h-11zM755 304h11v3h-11zM777 307h12v3h-12zM789 92h11v3h-11zM789 101h11v3h-11zM789 304h11v6h-11zM800 304h11v3h-11zM811 104h12v3h-12zM811 304h12v3h-12zM823 92h11v3h-11zM823 101h11v3h-11zM823 301h11v3h-11zM834 304h11v3h-11zM845 92h12v3h-12zM845 101h12v3h-12zM845 301h12v3h-12zM857 92h11v3h-11zM857 304h11v3h-11zM868 301h11v6h-11zM902 304h11v6h-11zM913 304h11v3h-11z"/>
<path fill="#FF8F00" d="M156 310h11v6h-11zM167 307h12v6h-12zM179 95h11v6h-11zM179 304h11v6h-11zM190 304h11v6h-11zM258 304h11v6h-11zM269 304h11v3h-11zM280 304h12v6h-12zM292 307h11v3h-11zM314 304h11v3h-11zM337 304h11v3h-11zM348 304h11v3h-11zM359 310h12v3h-12zM371 310h11v3h-11zM382 310h11v3h-11zM393 310h12v3h-12zM405 310h11v3h-11zM416 310h11v3h-11zM438 310h12v3h-12zM450 310h11v3h-11zM461 310h11v3h-11zM472 310h12v3h-12zM495 95h11v6h-11zM495 307h11v3h-11zM506 95h12v6h-12zM506 307h12v3h-12zM518 101h11v3h-11zM518 304h11v6h-11zM529 95h11v6h-11zM529 307h11v3h-11zM540 95h11v3h-11zM540 307h11v3h-11zM551 307h12v3h-12zM563 304h11v3h-11zM574 310h11v3h-11zM585 307h12v6h-12zM597 307h11v6h-11zM608 307h11v6h-11zM631 310h11v3h-11zM642 310h11v3h-11zM653 310h11v3h-11zM664 310h12v3h-12zM676 307h11v3h-11zM687 95h11v6h-11zM687 307h11v3h-11zM698 307h12v3h-12zM710 307h11v3h-11zM721 95h11v3h-11zM721 307h11v3h-11zM732 307h12v3h-12zM744 304h11v6h-11zM755 307h11v6h-11zM777 310h12v3h-12zM789 310h11v3h-11zM800 95h11v6h-11zM800 307h11v6h-11zM811 307h12v3h-12zM823 304h11v6h-11zM834 92h11v3h-11zM834 307h11v3h-11zM845 304h12v6h-12zM857 101h11v3h-11zM857 307h11v3h-11zM868 307h11v3h-11zM902 310h11v3h-11zM913 95h11v6h-11zM913 307h11v3h-11z"/>
<path fill="#FF8000" d="M156 316h11v3h-11zM167 313h12v3h-12zM179 310h11v3h-11zM190 310h11v3h-11zM258 310h11v3h-11zM269 95h11v6h-11zM269 307h11v6h-11zM280 310h12v3h-12zM292 310h11v6h-11zM314 307h11v3h-11zM337 307h11v6h-11zM348 95h11v6h-11zM348 307h11v3h-11zM359 313h12v3h-12zM371 313h11v3h-11zM382 313h11v3h-11zM393 313h12v3h-12zM405 313h11v3h-11zM416 313h11v3h-11zM438 313h12v3h-12zM450 313h11v3h-11zM461 313h11v3h-11zM472 313h12v3h-12zM495 310h11v3h-11zM506 310h12v6h-12zM518 310h11v3h-11zM529 310h11v3h-11zM540 310h11v3h-11zM551 310h12v3h-12zM563 307h11v3h-11zM574 313h11v3h-11zM585 313h12v3h-12zM597 313h11v3h-11zM608 313h11v3h-11zM631 313h11v3h-11zM642 313h11v3h-11zM653 313h11v3h-11zM664 313h12v3h-12zM676 95h11v6h-11zM676 310h11v3h-11zM687 310h11v3h-11zM698 310h12v3h-12zM710 95h11v6h-11zM710 310h11v3h-11zM721 310h11v6h-11zM732 310h12v3h-12zM744 310h11v3h-11zM755 313h11v3h-11zM777 313h12v3h-12zM789 95h11v6h-11zM789 313h11v3h-11zM800 313h11v3h-11zM811 92h12v3h-12zM811 310h12v3h-12zM823 95h11v6h-11zM823 310h11v3h-11zM834 310h11v6h-11zM845 95h12v6h-12zM845 310h12v3h-12zM857 310h11v3h-11zM868 310h11v3h-11zM902 313h11v3h-11zM913 310h11v3h-11z"/>
<path fill="#FF7000" d="M156 319h11v3h-11zM167 316h12v3h-12zM179 313h11v3h-11zM190 313h11v3h-11zM258 313h11v3h-11zM269 313h11v3h-11zM280 313h12v3h-12zM292 316h11v3h-11zM314 310h11v6h-11zM337 313h11v3h-11zM348 310h11v3h-11zM359 316h12v6h-12zM371 316h11v6h-11zM382 316h11v3h-11zM393 316h12v3h-12zM405 316h11v3h-11zM416 316h11v3h-11zM438 316h12v6h-12zM450 316h11v6h-11zM461 316h11v6h-11zM472 316h12v6h-12zM495 313h11v6h-11zM506 316h12v3h-12zM518 95h11v6h-11zM518 313h11v3h-11zM529 313h11v3h-11zM540 313h11v3h-11zM551 313h12v3h-12zM563 310h11v6h-11zM574 316h11v6h-11zM585 316h12v3h-12zM597 316h11v3h-11zM608 316h11v3h-11zM631 316h11v6h-11zM642 316h11v6h-11zM653 316h11v6h-11zM664 316h12v3h-12zM676 313h11v6h-11zM687 313h11v6h-11zM698 313h12v6h-12zM710 313h11v6h-11zM721 316h11v3h-11zM732 313h12v3h-12zM744 313h11v3h-11zM755 316h11v3h-11zM777 316h12v6h-12zM789 316h11v3h-11zM800 316h11v3h-11zM811 313h12v6h-12zM823 313h11v3h-11zM834 101h11v3h-11zM834 316h11v3h-11zM845 313h12v3h-12zM857 95h11v6h-11zM857 313h11v6h-11zM868 313h11v3h-11zM902 316h11v3h-11zM913 313h11v6h-11z"/>
<path fill="#FF6000" d="M156 322h11v7h-11zM167 319h12v6h-12zM179 316h11v6h-11zM190 316h11v6h-11zM258 316h11v6h-11zM269 316h11v6h-11zM280 316h12v6h-12zM292 319h11v6h-11zM314 316h11v3h-11zM337 316h11v6h-11zM348 313h11v6h-11zM359 322h12v3h-12zM371 322h11v3h-11zM382 319h11v6h-11zM393 319h12v6h-12zM405 319h11v6h-11zM416 319h11v6h-11zM438 322h12v3h-12zM450 322h11v3h-11zM461 322h11v3h-11zM472 322h12v3h-12zM495 319h11v3h-11zM506 319h12v6h-12zM518 316h11v6h-11zM529 316h11v6h-11zM540 316h11v6h-11zM551 316h12v6h-12zM563 316h11v3h-11zM574 322h11v3h-11zM585 319h12v6h-12zM597 319h11v6h-11zM608 319h11v6h-11zM631 322h11v3h-11zM642 322h11v3h-11zM653 322h11v3h-11zM664 319h12v6h-12zM676 319h11v3h-11zM687 319h11v3h-11zM698 319h12v3h-12zM710 319h11v3h-11zM721 319h11v6h-11zM732 316h12v6h-12zM744 316h11v6h-11zM755 319h11v6h-11zM777 322h12v3h-12zM789 319h11v6h-11zM800 319h11v6h-11zM811 319h12v3h-12zM823 316h11v6h-11zM834 95h11v6h-11zM834 319h11v3h-11zM845 316h12v6h-12zM857 319h11v3h-11zM868 316h11v6h-11zM902 319h11v6h-11zM913 319h11v3h-11z"/>
<path fill="#FF5000" d="M156 329h11v3h-11zM167 325h12v4h-12zM179 322h11v3h-11zM190 322h11v3h-11zM258 322h11v3h-11zM269 322h11v3h-11zM280 322h12v3h-12zM292 325h11v4h-11zM314 319h11v6h-11zM337 322h11v3h-11zM348 319h11v6h-11zM359 325h12v7h-12zM371 325h11v7h-11zM382 325h11v7h-11zM393 325h12v7h-12zM405 325h11v7h-11zM416 325h11v7h-11zM438 325h12v7h-12zM450 325h11v7h-11zM461 325h11v7h-11zM472 325h12v4h-12zM495 322h11v7h-11zM506 325h12v4h-12zM518 322h11v3h-11zM529 322h11v7h-11zM540 322h11v7h-11zM551 322h12v7h-12zM563 319h11v6h-11zM574 325h11v7h-11zM585 325h12v4h-12zM597 325h11v4h-11zM608 325h11v4h-11zM631 325h11v7h-11zM642 325h11v7h-11zM653 325h11v7h-11zM664 325h12v7h-12zM676 322h11v7h-11zM687 322h11v7h-11zM698 322h12v7h-12zM710 322h11v7h-11zM721 325h11v4h-11zM732 322h12v7h-12zM744 322h11v3h-11zM755 325h11v4h-11zM777 325h12v7h-12zM789 325h11v7h-11zM800 325h11v4h-11zM811 95h12v3h-12zM811 101h12v3h-12zM811 322h12v7h-12zM823 322h11v3h-11zM834 322h11v7h-11zM845 322h12v3h-12zM857 322h11v7h-11zM868 322h11v7h-11zM902 325h11v7h-11zM913 322h11v7h-11z"/>
<path fill="#FF4000" d="M156 332h11v6h-11zM167 329h12v6h-12zM179 325h11v7h-11zM190 325h11v7h-11zM258 325h11v7h-11zM269 325h11v7h-11zM280 325h12v7h-12zM292 329h11v6h-11zM314 325h11v4h-11zM337 325h11v7h-11zM348 325h11v4h-11zM359 332h12v3h-12zM371 332h11v3h-11zM382 332h11v3h-11zM393 332h12v3h-12zM405 332h11v3h-11zM416 332h11v3h-11zM438 332h12v3h-12zM450 332h11v3h-11zM461 332h11v3h-11zM495 329h11v3h-11zM506 329h12v6h-12zM518 325h11v7h-11zM529 329h11v3h-11zM540 329h11v3h-11zM551 329h12v3h-12zM563 325h11v4h-11zM574 332h11v3h-11zM585 329h12v6h-12zM597 329h11v6h-11zM608 329h11v6h-11zM631 332h11v3h-11zM642 332h11v3h-11zM653 332h11v3h-11zM664 332h12v3h-12zM676 329h11v3h-11zM687 329h11v3h-11zM698 329h12v3h-12zM710 329h11v3h-11zM721 329h11v6h-11zM732 329h12v3h-12zM744 325h11v7h-11zM755 329h11v6h-11zM777 332h12v3h-12zM789 332h11v3h-11zM800 329h11v6h-11zM811 98h12v3h-12zM811 329h12v3h-12zM823 325h11v7h-11zM834 329h11v6h-11zM845 325h12v7h-12zM857 329h11v6h-11zM868 329h11v3h-11zM902 332h11v3h-11zM913 329h11v3h-11z"/>
<path fill="#FF3000" d="M156 338h11v6h-11zM167 335h12v6h-12zM179 332h11v6h-11zM190 332h11v6h-11zM258 332h11v6h-11zM269 332h11v3h-11zM280 332h12v6h-12zM292 335h11v3h-11zM314 329h11v6h-11zM337 332h11v3h-11zM348 329h11v6h-11zM359 335h12v3h-12zM371 335h11v6h-11zM382 335h11v6h-11zM393 335h12v3h-12zM405 335h11v6h-11zM438 335h12v6h-12zM450 335h11v6h-11zM461 335h11v6h-11zM495 332h11v6h-11zM506 335h12v3h-12zM518 332h11v6h-11zM529 332h11v6h-11zM540 332h11v6h-11zM551 332h12v3h-12zM563 329h11v6h-11zM574 335h11v6h-11zM585 335h12v6h-12zM597 335h11v6h-11zM608 335h11v6h-11zM631 335h11v6h-11zM642 335h11v6h-11zM653 335h11v6h-11zM664 335h12v6h-12zM676 332h11v3h-11zM687 332h11v3h-11zM698 332h12v3h-12zM710 332h11v3h-11zM721 335h11v3h-11zM732 332h12v6h-12zM744 332h11v6h-11zM755 335h11v6h-11zM777 335h12v6h-12zM789 335h11v6h-11zM800 335h11v6h-11zM811 332h12v6h-12zM823 332h11v3h-11zM834 335h11v3h-11zM845 332h12v3h-12zM857 335h11v3h-11zM868 332h11v6h-11zM902 335h11v6h-11zM913 332h11v6h-11z"/>
<path fill="#FF2000" d="M167 341h12v3h-12zM179 338h11v3h-11zM258 338h11v3h-11zM269 335h11v3h-11zM280 338h12v3h-12zM314 335h11v6h-11zM337 335h11v6h-11zM348 335h11v3h-11zM371 341h11v3h-11zM382 341h11v3h-11zM405 341h11v3h-11zM438 341h12v6h-12zM450 341h11v6h-11zM461 341h11v6h-11zM495 338h11v6h-11zM506 338h12v6h-12zM574 341h11v6h-11zM585 341h12v3h-12zM597 341h11v3h-11zM608 341h11v3h-11zM631 341h11v3h-11zM642 341h11v3h-11zM653 341h11v3h-11zM664 341h12v3h-12zM732 338h12v3h-12zM744 338h11v3h-11zM755 341h11v3h-11zM777 341h12v3h-12zM789 341h11v3h-11zM800 341h11v3h-11zM811 338h12v3h-12zM857 338h11v3h-11zM868 338h11v3h-11zM902 341h11v3h-11zM913 338h11v3h-11z"/>
<path fill="#FF1000" d="M179 341h11v6h-11zM258 341h11v6h-11zM280 341h12v6h-12zM314 341h11v6h-11zM337 341h11v6h-11zM348 338h11v9h-11zM371 344h11v3h-11zM438 347h12v6h-12zM450 347h11v6h-11zM461 347h11v6h-11zM495 344h11v3h-11zM506 344h12v3h-12zM574 347h11v6h-11zM585 344h12v6h-12zM597 344h11v6h-11zM608 344h11v6h-11zM631 344h11v3h-11zM642 344h11v3h-11zM653 344h11v3h-11zM732 341h12v9h-12zM744 341h11v6h-11zM755 344h11v3h-11zM789 344h11v9h-11zM868 341h11v9h-11zM902 344h11v6h-11z"/>
<path fill="#FF0000" d="M179 347h11v6h-11zM258 347h11v6h-11zM280 347h12v6h-12zM314 347h11v6h-11zM337 347h11v3h-11zM348 347h11v6h-11zM438 353h12v3h-12zM450 353h11v3h-11zM461 353h11v3h-11zM585 350h12v3h-12zM597 350h11v6h-11zM608 350h11v6h-11zM732 350h12v6h-12zM744 347h11v6h-11zM868 350h11v6h-11z"/>
<path fill="#EF0000" d="M258 353h11v3h-11zM280 353h12v3h-12zM314 353h11v6h-11zM348 353h11v3h-11zM597 356h11v3h-11zM744 353h11v3h-11z"/>
<path fill="#DF0000" d="M314 359h11v3h-11z"/></g>
<clipPath id="c1"><rect x="156" y="69" width="791" height="306"/></clipPath>
<path clip-path="url(#c1)" fill="#fff" d="M159.0 334.0h5l4 4v5l-4 4h-5l-4 -4v-5zM170.5 334.0h5l4 4v5l-4 4h-5l-4 -4v-5zM181.5 343.0h5l4 4v5l-4 4h-5l-4 -4v-5zM193.0 327.0h5l4 4v5l-4 4h-5l-4 -4v-5zM204.5 209.5h5l4 4v5l-4 4h-5l-4 -4v-5zM215.5 209.5h5l4 4v5l-4 4h-5l-4 -4v-5zM227.0 206.5h5l4 4v5l-4 4h-5l-4 -4v-5zM238.0 209.5h5l4 4v5l-4 4h-5l-4 -4v-5zM249.5 297.5h5l4 4v5l-4 4h-5l-4 -4v-5zM261.0 327.0h5l4 4v5l-4 4h-5l-4 -4v-5zM272.0 327.0h5l4 4v5l-4 4h-5l-4 -4v-5zM283.5 346.0h5l4 4v5l-4 4h-5l-4 -4v-5zM294.5 327.0h5l4 4v5l-4 4h-5l-4 -4v-5zM340.0 340.0h5l4 4v5l-4 4h-5l-4 -4v-5zM351.0 346.0h5l4 4v5l-4 4h-5l-4 -4v-5zM362.5 327.0h5l4 4v5l-4 4h-5l-4 -4v-5zM374.0 337.0h5l4 4v5l-4 4h-5l-4 -4v-5zM385.0 334.0h5l4 4v5l-4 4h-5l-4 -4v-5zM396.5 327.0h5l4 4v5l-4 4h-5l-4 -4v-5zM407.5 334.0h5l4 4v5l-4 4h-5l-4 -4v-5zM419.0 324.0h5l4 4v5l-4 4h-5l-4 -4v-5zM441.5 343.0h5l4 4v5l-4 4h-5l-4 -4v-5zM453.0 346.0h5l4 4v5l-4 4h-5l-4 -4v-5zM464.0 346.0h5l4 4v5l-4 4h-5l-4 -4v-5zM475.5 318.0h5l4 4v5l-4 4h-5l-4 -4v-5zM498.0 337.0h5l4 4v5l-4 4h-5l-4 -4v-5zM509.5 337.0h5l4 4v5l-4 4h-5l-4 -4v-5zM520.5 327.0h5l4 4v5l-4 4h-5l-4 -4v-5zM532.0 327.0h5l4 4v5l-4 4h-5l-4 -4v-5zM543.5 327.0h5l4 4v5l-4 4h-5l-4 -4v-5zM554.5 324.0h5l4 4v5l-4 4h-5l-4 -4v-5zM566.0 324.0h5l4 4v5l-4 4h-5l-4 -4v-5zM577.0 343.0h5l4 4v5l-4 4h-5l-4 -4v-5zM588.5 343.0h5l4 4v5l-4 4h-5l-4 -4v-5zM600.0 349.0h5l4 4v5l-4 4h-5l-4 -4v-5zM611.0 346.0h5l4 4v5l-4 4h-5l-4 -4v-5zM633.5 337.0h5l4 4v5l-4 4h-5l-4 -4v-5zM645.0 337.0h5l4 4v5l-4 4h-5l-4 -4v-5zM656.5 337.0h5l4 4v5l-4 4h-5l-4 -4v-5zM667.5 331.0h5l4 4v5l-4 4h-5l-4 -4v-5zM679.0 324.0h5l4 4v5l-4 4h-5l-4 -4v-5zM690.0 324.0h5l4 4v5l-4 4h-5l-4 -4v-5zM701.5 324.0h5l4 4v5l-4 4h-5l-4 -4v-5zM713.0 324.0h5l4 4v5l-4 4h-5l-4 -4v-5zM724.0 327.0h5l4 4v5l-4 4h-5l-4 -4v-5zM735.5 346.0h5l4 4v5l-4 4h-5l-4 -4v-5zM746.5 318.0h5l4 4v5l-4 4h-5l-4 -4v-5zM758.0 309.0h5l4 4v5l-4 4h-5l-4 -4v-5zM780.5 331.0h5l4 4v5l-4 4h-5l-4 -4v-5zM792.0 343.0h5l4 4v5l-4 4h-5l-4 -4v-5zM803.0 334.0h5l4 4v5l-4 4h-5l-4 -4v-5zM814.5 331.0h5l4 4v5l-4 4h-5l-4 -4v-5zM826.0 324.0h5l4 4v5l-4 4h-5l-4 -4v-5zM837.0 327.0h5l4 4v5l-4 4h-5l-4 -4v-5zM848.5 324.0h5l4 4v5l-4 4h-5l-4 -4v-5zM859.5 331.0h5l4 4v5l-4 4h-5l-4 -4v-5zM871.0 346.0h5l4 4v5l-4 4h-5l-4 -4v-5zM905.0 340.0h5l4 4v5l-4 4h-5l-4 -4v-5zM916.0 331.0h5l4 4v5l-4 4h-5l-4 -4v-5z"/>
<rect shape-rendering="crispEdges" x="979" y="371.19" width="42" height="5.31" fill="#00008F"/>
<rect shape-rendering="crispEdges" x="979" y="366.38" width="42" height="5.31" fill="#00009F"/>
<rect shape-rendering="crispEdges" x="979" y="361.56" width="42" height="5.31" fill="#0000AF"/>
<rect shape-rendering="crispEdges" x="979" y="356.75" width="42" height="5.31" fill="#0000BF"/>
<rect shape-rendering="crispEdges" x="979" y="351.94" width="42" height="5.31" fill="#0000CF"/>
<rect shape-rendering="crispEdges" x="979" y="347.12" width="42" height="5.31" fill="#0000DF"/>
<rect shape-rendering="crispEdges" x="979" y="342.31" width="42" height="5.31" fill="#0000EF"/>
<rect shape-rendering="crispEdges" x="979" y="337.50" width="42" height="5.31" fill="#0000FF"/>
<rect shape-rendering="crispEdges" x="979" y="332.69" width="42" height="5.31" fill="#0010FF"/>
<rect shape-rendering="crispEdges" x="979" y="327.88" width="42" height="5.31" fill="#0020FF"/>
<rect shape-rendering="crispEdges" x="979" y="323.06" width="42" height="5.31" fill="#0030FF"/>
<rect shape-rendering="crispEdges" x="979" y="318.25" width="42" height="5.31" fill="#0040FF"/>
<rect shape-rendering="crispEdges" x="979" y="313.44" width="42" height="5.31" fill="#0050FF"/>
<rect shape-rendering="crispEdges" x="979" y="308.62" width="42" height="5.31" fill="#0060FF"/>
<rect shape-rendering="crispEdges" x="979" y="303.81" width="42" height="5.31" fill="#0070FF"/>
<rect shape-rendering="crispEdges" x="979" y="299.00" width="42" height="5.31" fill="#0080FF"/>
<rect shape-rendering="crispEdges" x="979" y="294.19" width="42" height="5.31" fill="#008FFF"/>
<rect shape-rendering="crispEdges" x="979" y="289.38" width="42" height="5.31" fill="#009FFF"/>
<rect shape-rendering="crispEdges" x="979" y="284.56" width="42" height="5.31" fill="#00AFFF"/>
<rect shape-rendering="crispEdges" x="979" y="279.75" width="42" height="5.31" fill="#00BFFF"/>
<rect shape-rendering="crispEdges" x="979" y="274.94" width="42" height="5.31" fill="#00CFFF"/>
<rect shape-rendering="crispEdges" x="979" y="270.12" width="42" height="5.31" fill="#00DFFF"/>
<rect shape-rendering="crispEdges" x="979" y="265.31" width="42" height="5.31" fill="#00EFFF"/>
<rect shape-rendering="crispEdges" x="979" y="260.50" width="42" height="5.31" fill="#00FFFF"/>
<rect shape-rendering="crispEdges" x="979" y="255.69" width="42" height="5.31" fill="#10FFEF"/>
<rect shape-rendering="crispEdges" x="979" y="250.88" width="42" height="5.31" fill="#20FFDF"/>
<rect shape-rendering="crispEdges" x="979" y="246.06" width="42" height="5.31" fill="#30FFCF"/>
<rect shape-rendering="crispEdges" x="979" y="241.25" width="42" height="5.31" fill="#40FFBF"/>
<rect shape-rendering="crispEdges" x="979" y="236.44" width="42" height="5.31" fill="#50FFAF"/>
<rect shape-rendering="crispEdges" x="979" y="231.62" width="42" height="5.31" fill="#60FF9F"/>
<rect shape-rendering="crispEdges" x="979" y="226.81" width="42" height="5.31" fill="#70FF8F"/>
<rect shape-rendering="crispEdges" x="979" y="222.00" width="42" height="5.31" fill="#80FF80"/>
<rect shape-rendering="crispEdges" x="979" y="217.19" width="42" height="5.31" fill="#8FFF70"/>
<rect shape-rendering="crispEdges" x="979" y="212.38" width="42" height="5.31" fill="#9FFF60"/>
<rect shape-rendering="crispEdges" x="979" y="207.56" width="42" height="5.31" fill="#AFFF50"/>
<rect shape-rendering="crispEdges" x="979" y="202.75" width="42" height="5.31" fill="#BFFF40"/>
<rect shape-rendering="crispEdges" x="979" y="197.94" width="42" height="5.31" fill="#CFFF30"/>
<rect shape-rendering="crispEdges" x="979" y="193.12" width="42" height="5.31" fill="#DFFF20"/>
<rect shape-rendering="crispEdges" x="979" y="188.31" width="42" height="5.31" fill="#EFFF10"/>
<rect shape-rendering="crispEdges" x="979" y="183.50" width="42" height="5.31" fill="#FFFF00"/>
<rect shape-rendering="crispEdges" x="979" y="178.69" width="42" height="5.31" fill="#FFEF00"/>
<rect shape-rendering="crispEdges" x="979" y="173.88" width="42" height="5.31" fill="#FFDF00"/>
<rect shape-rendering="crispEdges" x="979" y="169.06" width="42" height="5.31" fill="#FFCF00"/>
<rect shape-rendering="crispEdges" x="979" y="164.25" width="42" height="5.31" fill="#FFBF00"/>
<rect shape-rendering="crispEdges" x="979" y="159.44" width="42" height="5.31" fill="#FFAF00"/>
<rect shape-rendering="crispEdges" x="979" y="154.62" width="42" height="5.31" fill="#FF9F00"/>
<rect shape-rendering="crispEdges" x="979" y="149.81" width="42" height="5.31" fill="#FF8F00"/>
<rect shape-rendering="crispEdges" x="979" y="145.00" width="42" height="5.31" fill="#FF8000"/>
<rect shape-rendering="crispEdges" x="979" y="140.19" width="42" height="5.31" fill="#FF7000"/>
<rect shape-rendering="crispEdges" x="979" y="135.38" width="42" height="5.31" fill="#FF6000"/>
<rect shape-rendering="crispEdges" x="979" y="130.56" width="42" height="5.31" fill="#FF5000"/>
<rect shape-rendering="crispEdges" x="979" y="125.75" width="42" height="5.31" fill="#FF4000"/>
<rect shape-rendering="crispEdges" x="979" y="120.94" width="42" height="5.31" fill="#FF3000"/>
<rect shape-rendering="crispEdges" x="979" y="116.12" width="42" height="5.31" fill="#FF2000"/>
<rect shape-rendering="crispEdges" x="979" y="111.31" width="42" height="5.31" fill="#FF1000"/>
<rect shape-rendering="crispEdges" x="979" y="106.50" width="42" height="5.31" fill="#FF0000"/>
<rect shape-rendering="crispEdges" x="979" y="101.69" width="42" height="5.31" fill="#EF0000"/>
<rect shape-rendering="crispEdges" x="979" y="96.88" width="42" height="5.31" fill="#DF0000"/>
<rect shape-rendering="crispEdges" x="979" y="92.06" width="42" height="5.31" fill="#CF0000"/>
<rect shape-rendering="crispEdges" x="979" y="87.25" width="42" height="5.31" fill="#BF0000"/>
<rect shape-rendering="crispEdges" x="979" y="82.44" width="42" height="5.31" fill="#AF0000"/>
<rect shape-rendering="crispEdges" x="979" y="77.62" width="42" height="5.31" fill="#9F0000"/>
<rect shape-rendering="crispEdges" x="979" y="72.81" width="42" height="5.31" fill="#8F0000"/>
<rect shape-rendering="crispEdges" x="979" y="68.00" width="42" height="5.31" fill="#800000"/>
<g fill="#000" shape-rendering="crispEdges"><rect x="155" y="68" width="793" height="1"/><rect x="155" y="375" width="793" height="1"/><rect x="155" y="68" width="1" height="308"/><rect x="947" y="68" width="1" height="308"/><rect x="263" y="367" width="1" height="8"/><rect x="263" y="68" width="1" height="9"/><rect x="376" y="367" width="1" height="8"/><rect x="376" y="68" width="1" height="9"/><rect x="489" y="367" width="1" height="8"/><rect x="489" y="68" width="1" height="9"/><rect x="602" y="367" width="1" height="8"/><rect x="602" y="68" width="1" height="9"/><rect x="715" y="367" width="1" height="8"/><rect x="715" y="68" width="1" height="9"/><rect x="828" y="367" width="1" height="8"/><rect x="828" y="68" width="1" height="9"/><rect x="941" y="367" width="1" height="8"/><rect x="941" y="68" width="1" height="9"/><rect x="155" y="127" width="9" height="1"/><rect x="939" y="127" width="9" height="1"/><rect x="155" y="188" width="9" height="1"/><rect x="939" y="188" width="9" height="1"/><rect x="155" y="248" width="9" height="1"/><rect x="939" y="248" width="9" height="1"/><rect x="155" y="309" width="9" height="1"/><rect x="939" y="309" width="9" height="1"/><rect x="155" y="370" width="9" height="1"/><rect x="939" y="370" width="9" height="1"/><rect x="979" y="68" width="42" height="1"/><rect x="979" y="376" width="42" height="1"/><rect x="979" y="68" width="1" height="309"/><rect x="1020" y="68" width="1" height="309"/><rect x="979" y="349" width="4" height="1"/><rect x="1017" y="349" width="4" height="1"/><rect x="979" y="295" width="4" height="1"/><rect x="1017" y="295" width="4" height="1"/><rect x="979" y="242" width="4" height="1"/><rect x="1017" y="242" width="4" height="1"/><rect x="979" y="188" width="4" height="1"/><rect x="1017" y="188" width="4" height="1"/><rect x="979" y="134" width="4" height="1"/><rect x="1017" y="134" width="4" height="1"/><rect x="979" y="81" width="4" height="1"/><rect x="1017" y="81" width="4" height="1"/></g>
<g opacity=".999"><text x="262.5" y="404" text-anchor="middle">10</text><text x="375.5" y="404" text-anchor="middle">20</text><text x="488.5" y="404" text-anchor="middle">30</text><text x="601.5" y="404" text-anchor="middle">40</text><text x="714.5" y="404" text-anchor="middle">50</text><text x="827.5" y="404" text-anchor="middle">60</text><text x="940.5" y="404" text-anchor="middle">70</text><text x="150" y="136" text-anchor="end">20</text><text x="150" y="197" text-anchor="end">40</text><text x="150" y="257" text-anchor="end">60</text><text x="150" y="318" text-anchor="end">80</text><text x="150" y="379" text-anchor="end">100</text><text x="1025" y="358">200</text><text x="1025" y="304">220</text><text x="1025" y="251">240</text><text x="1025" y="197">260</text><text x="1025" y="143">280</text><text x="1025" y="90">300</text><text x="550.2" y="52" text-anchor="middle" style="font-size:18.3px">T(K) : 23-Sep-2012 07:51:21 - 07:52:14</text><text x="549.3" y="430" text-anchor="middle" style="font-size:19.2px">Record index</text><text transform="translate(106,222.5) rotate(-90)" text-anchor="middle" style="font-size:19px">P index</text></g>
<rect x="155" y="494" width="793" height="308" fill="#00008F"/>
<g shape-rendering="crispEdges"><path fill="#00009F" d="M156 603h11v6h-11zM167 603h12v6h-12zM179 603h11v6h-11zM190 600h11v3h-11zM201 600h11v3h-11zM212 600h12v3h-12zM224 600h11v3h-11zM235 600h11v3h-11zM246 603h12v6h-12zM258 603h11v12h-11zM269 600h11v3h-11zM280 603h12v6h-12zM292 603h11v6h-11zM314 603h11v6h-11zM337 603h11v6h-11zM348 603h11v6h-11zM359 603h12v6h-12zM371 603h11v6h-11zM382 600h11v3h-11zM393 600h12v3h-12zM405 600h11v3h-11zM416 600h11v3h-11zM438 603h12v6h-12zM450 603h11v6h-11zM461 603h11v6h-11zM472 603h12v6h-12zM495 600h11v3h-11zM506 600h12v3h-12zM518 600h11v3h-11zM529 600h11v3h-11zM540 600h11v3h-11zM551 600h12v3h-12zM563 600h11v3h-11zM574 603h11v3h-11zM585 603h12v3h-12zM597 603h11v6h-11zM608 603h11v6h-11zM631 603h11v6h-11zM642 603h11v6h-11zM653 603h11v6h-11zM664 600h12v3h-12zM676 600h11v3h-11zM687 600h11v3h-11zM698 600h12v3h-12zM710 600h11v3h-11zM721 600h11v3h-11zM732 603h12v6h-12zM744 603h11v3h-11zM755 603h11v6h-11zM777 603h12v6h-12zM789 600h11v3h-11zM800 600h11v3h-11zM811 600h12v3h-12zM823 600h11v3h-11zM834 600h11v3h-11zM845 600h12v3h-12zM857 600h11v3h-11zM868 603h11v3h-11zM902 603h11v6h-11zM913 600h11v3h-11z"/>
<path fill="#0000AF" d="M156 609h11v9h-11zM167 609h12v9h-12zM179 609h11v9h-11zM190 603h11v3h-11zM201 603h11v6h-11zM212 603h12v24h-12zM224 603h11v18h-11zM235 603h11v3h-11zM246 609h12v9h-12zM258 615h11v9h-11zM269 603h11v3h-11zM280 609h12v9h-12zM292 609h11v9h-11zM314 609h11v9h-11zM337 609h11v9h-11zM348 609h11v9h-11zM359 609h12v9h-12zM371 609h11v9h-11zM382 603h11v3h-11zM393 603h12v3h-12zM405 603h11v3h-11zM416 603h11v3h-11zM438 609h12v9h-12zM450 609h11v9h-11zM461 609h11v9h-11zM472 609h12v9h-12zM495 603h11v3h-11zM506 603h12v3h-12zM518 603h11v3h-11zM529 603h11v3h-11zM540 603h11v3h-11zM551 603h12v3h-12zM563 603h11v3h-11zM574 606h11v6h-11zM585 606h12v6h-12zM597 609h11v9h-11zM608 609h11v9h-11zM631 609h11v9h-11zM642 609h11v9h-11zM653 609h11v9h-11zM664 603h12v3h-12zM676 603h11v3h-11zM687 603h11v3h-11zM698 603h12v3h-12zM710 603h11v3h-11zM721 603h11v3h-11zM732 609h12v9h-12zM744 606h11v6h-11zM755 609h11v9h-11zM777 609h12v9h-12zM789 603h11v3h-11zM800 603h11v3h-11zM811 603h12v3h-12zM823 603h11v3h-11zM834 603h11v3h-11zM845 603h12v3h-12zM857 603h11v3h-11zM868 606h11v6h-11zM902 609h11v9h-11zM913 603h11v3h-11z"/>
<path fill="#0000BF" d="M156 618h11v3h-11zM167 618h12v3h-12zM179 618h11v3h-11zM190 724h11v40h-11zM201 609h11v3h-11zM212 627h12v9h-12zM224 621h11v9h-11zM235 606h11v9h-11zM246 618h12v3h-12zM258 624h11v3h-11zM269 718h11v3h-11zM280 618h12v3h-12zM292 618h11v3h-11zM314 618h11v3h-11zM337 618h11v3h-11zM348 618h11v3h-11zM359 618h12v3h-12zM371 618h11v3h-11zM382 715h11v9h-11zM405 718h11v9h-11zM438 618h12v3h-12zM450 618h11v3h-11zM461 618h11v3h-11zM472 618h12v3h-12zM495 718h11v9h-11zM506 718h12v12h-12zM518 712h11v52h-11zM529 715h11v40h-11zM540 715h11v49h-11zM551 718h12v43h-12zM563 721h11v40h-11zM574 612h11v9h-11zM585 612h12v9h-12zM597 618h11v3h-11zM608 618h11v3h-11zM631 618h11v3h-11zM642 618h11v3h-11zM653 618h11v3h-11zM664 718h12v9h-12zM676 718h11v43h-11zM687 718h11v43h-11zM698 718h12v43h-12zM710 721h11v40h-11zM721 718h11v46h-11zM732 618h12v3h-12zM744 612h11v9h-11zM755 618h11v3h-11zM777 618h12v3h-12zM789 715h11v12h-11zM800 721h11v12h-11zM811 715h12v15h-12zM823 718h11v43h-11zM834 715h11v40h-11zM845 721h12v40h-12zM857 718h11v18h-11zM868 612h11v9h-11zM902 618h11v3h-11zM913 721h11v6h-11z"/>
<path fill="#0000CF" d="M156 621h11v6h-11zM167 621h12v6h-12zM179 621h11v6h-11zM190 606h11v3h-11zM190 721h11v3h-11zM201 612h11v6h-11zM235 615h11v6h-11zM246 621h12v6h-12zM258 627h11v3h-11zM269 606h11v3h-11zM269 715h11v3h-11zM269 721h11v43h-11zM280 621h12v6h-12zM292 621h11v6h-11zM314 621h11v6h-11zM337 621h11v6h-11zM348 621h11v6h-11zM359 621h12v6h-12zM371 621h11v6h-11zM382 606h11v3h-11zM382 712h11v3h-11zM382 724h11v18h-11zM393 606h12v3h-12zM393 718h12v9h-12zM405 606h11v3h-11zM405 715h11v3h-11zM405 727h11v15h-11zM416 606h11v3h-11zM416 718h11v9h-11zM438 621h12v6h-12zM450 621h11v6h-11zM461 621h11v6h-11zM472 621h12v6h-12zM495 606h11v3h-11zM495 715h11v3h-11zM495 727h11v21h-11zM506 606h12v3h-12zM506 730h12v18h-12zM518 606h11v3h-11zM518 709h11v3h-11zM529 606h11v3h-11zM529 712h11v3h-11zM540 606h11v3h-11zM540 712h11v3h-11zM551 606h12v3h-12zM551 715h12v3h-12zM563 606h11v3h-11zM563 718h11v3h-11zM574 621h11v6h-11zM585 621h12v6h-12zM597 621h11v6h-11zM608 621h11v6h-11zM631 621h11v6h-11zM642 621h11v6h-11zM653 621h11v6h-11zM664 606h12v3h-12zM664 715h12v3h-12zM664 727h12v21h-12zM676 606h11v3h-11zM676 715h11v3h-11zM687 606h11v3h-11zM687 715h11v3h-11zM698 606h12v3h-12zM698 715h12v3h-12zM710 606h11v3h-11zM710 718h11v3h-11zM721 606h11v3h-11zM721 715h11v3h-11zM732 621h12v6h-12zM744 621h11v6h-11zM755 621h11v6h-11zM777 621h12v6h-12zM789 606h11v3h-11zM789 712h11v3h-11zM789 727h11v21h-11zM800 606h11v3h-11zM800 718h11v3h-11zM800 733h11v15h-11zM811 606h12v3h-12zM811 712h12v3h-12zM811 730h12v25h-12zM823 606h11v3h-11zM823 715h11v3h-11zM834 606h11v3h-11zM834 712h11v3h-11zM845 606h12v3h-12zM845 718h12v3h-12zM857 606h11v3h-11zM857 715h11v3h-11zM857 736h11v28h-11zM868 621h11v6h-11zM902 621h11v6h-11zM913 606h11v3h-11zM913 718h11v3h-11zM913 727h11v34h-11z"/>
<path fill="#0000DF" d="M156 627h11v3h-11zM167 627h12v3h-12zM179 627h11v3h-11zM190 609h11v3h-11zM190 718h11v3h-11zM201 618h11v3h-11zM235 621h11v9h-11zM246 627h12v6h-12zM269 609h11v3h-11zM280 627h12v6h-12zM292 627h11v3h-11zM314 627h11v3h-11zM337 627h11v6h-11zM348 627h11v3h-11zM359 627h12v6h-12zM371 627h11v3h-11zM382 609h11v3h-11zM382 742h11v3h-11zM393 609h12v3h-12zM393 715h12v3h-12zM393 727h12v37h-12zM405 609h11v3h-11zM405 712h11v3h-11zM405 742h11v19h-11zM416 609h11v3h-11zM416 727h11v34h-11zM438 627h12v3h-12zM450 627h11v3h-11zM461 627h11v3h-11zM472 627h12v3h-12zM495 609h11v3h-11zM495 712h11v3h-11zM495 748h11v3h-11zM506 609h12v3h-12zM506 715h12v3h-12zM506 748h12v3h-12zM518 609h11v3h-11zM518 706h11v3h-11zM529 609h11v3h-11zM540 609h11v3h-11zM551 609h12v3h-12zM563 609h11v3h-11zM563 715h11v3h-11zM574 627h11v6h-11zM585 627h12v6h-12zM597 627h11v3h-11zM608 627h11v3h-11zM631 627h11v3h-11zM642 627h11v3h-11zM653 627h11v3h-11zM664 609h12v3h-12zM664 748h12v3h-12zM676 609h11v3h-11zM687 609h11v3h-11zM698 609h12v3h-12zM698 712h12v3h-12zM710 609h11v3h-11zM710 715h11v3h-11zM721 609h11v3h-11zM732 627h12v3h-12zM744 627h11v12h-11zM755 627h11v3h-11zM777 627h12v3h-12zM789 609h11v3h-11zM789 709h11v3h-11zM789 748h11v3h-11zM800 609h11v3h-11zM800 715h11v3h-11zM811 609h12v3h-12zM811 709h12v3h-12zM811 755h12v9h-12zM823 609h11v3h-11zM834 609h11v3h-11zM845 609h12v3h-12zM845 715h12v3h-12zM857 609h11v3h-11zM857 712h11v3h-11zM857 764h11v3h-11zM868 627h11v6h-11zM902 627h11v3h-11zM913 609h11v3h-11zM913 715h11v3h-11zM913 761h11v6h-11z"/>
<path fill="#0000EF" d="M156 630h11v6h-11zM167 630h12v6h-12zM201 621h11v6h-11zM212 694h12v21h-12zM224 630h11v3h-11zM235 630h11v3h-11zM246 633h12v12h-12zM258 630h11v12h-11zM269 712h11v3h-11zM280 633h12v12h-12zM292 630h11v3h-11zM314 630h11v6h-11zM337 633h11v9h-11zM348 630h11v3h-11zM359 633h12v12h-12zM371 630h11v6h-11zM382 709h11v3h-11zM382 745h11v3h-11zM405 761h11v9h-11zM416 715h11v3h-11zM450 630h11v6h-11zM461 630h11v3h-11zM472 630h12v3h-12zM495 612h11v3h-11zM495 751h11v4h-11zM506 712h12v3h-12zM506 751h12v4h-12zM518 612h11v6h-11zM529 709h11v3h-11zM529 755h11v3h-11zM540 709h11v3h-11zM551 712h12v3h-12zM563 712h11v3h-11zM574 633h11v6h-11zM574 700h11v9h-11zM585 633h12v6h-12zM608 630h11v6h-11zM631 630h11v3h-11zM642 630h11v6h-11zM653 630h11v3h-11zM664 712h12v3h-12zM664 751h12v4h-12zM676 612h11v3h-11zM676 712h11v3h-11zM687 712h11v3h-11zM698 612h12v3h-12zM721 612h11v3h-11zM721 712h11v3h-11zM732 630h12v6h-12zM744 639h11v6h-11zM755 630h11v3h-11zM777 630h12v3h-12zM811 764h12v3h-12zM823 612h11v3h-11zM823 712h11v3h-11zM834 709h11v3h-11zM845 612h12v3h-12zM868 633h11v6h-11zM902 630h11v3h-11z"/>
<path fill="#0000FF" d="M156 636h11v6h-11zM156 703h11v18h-11zM167 636h12v6h-12zM167 703h12v18h-12zM179 709h11v27h-11zM190 715h11v3h-11zM201 627h11v3h-11zM212 682h12v12h-12zM235 706h11v9h-11zM246 645h12v6h-12zM246 703h12v21h-12zM258 703h11v24h-11zM269 612h11v3h-11zM280 645h12v6h-12zM280 703h12v18h-12zM292 633h11v3h-11zM292 703h11v15h-11zM314 636h11v6h-11zM314 703h11v21h-11zM337 642h11v3h-11zM337 703h11v21h-11zM348 633h11v3h-11zM348 709h11v6h-11zM359 645h12v3h-12zM359 703h12v24h-12zM371 636h11v6h-11zM371 703h11v21h-11zM382 612h11v3h-11zM393 612h12v3h-12zM393 712h12v3h-12zM405 612h11v3h-11zM405 709h11v3h-11zM438 703h12v21h-12zM450 636h11v3h-11zM450 700h11v24h-11zM461 633h11v3h-11zM461 700h11v24h-11zM472 703h12v12h-12zM495 615h11v3h-11zM495 709h11v3h-11zM506 612h12v3h-12zM518 703h11v3h-11zM529 612h11v3h-11zM540 612h11v3h-11zM551 612h12v3h-12zM574 639h11v6h-11zM574 709h11v18h-11zM585 639h12v6h-12zM585 703h12v24h-12zM597 703h11v24h-11zM608 636h11v3h-11zM608 703h11v24h-11zM631 633h11v3h-11zM631 703h11v15h-11zM642 636h11v3h-11zM642 703h11v21h-11zM653 633h11v3h-11zM653 703h11v21h-11zM664 612h12v3h-12zM676 615h11v3h-11zM687 612h11v3h-11zM698 615h12v3h-12zM698 709h12v3h-12zM710 612h11v3h-11zM710 712h11v3h-11zM721 615h11v3h-11zM732 636h12v3h-12zM732 703h12v21h-12zM755 633h11v3h-11zM755 700h11v15h-11zM777 633h12v3h-12zM777 703h12v12h-12zM789 612h11v3h-11zM789 706h11v3h-11zM789 751h11v4h-11zM800 612h11v3h-11zM800 712h11v3h-11zM800 748h11v3h-11zM811 612h12v3h-12zM811 706h12v3h-12zM823 615h11v3h-11zM834 612h11v3h-11zM845 615h12v3h-12zM845 712h12v3h-12zM857 709h11v3h-11zM868 639h11v6h-11zM868 703h11v21h-11zM902 633h11v3h-11zM902 703h11v15h-11zM913 612h11v3h-11z"/>
<path fill="#0010FF" d="M156 642h11v3h-11zM156 697h11v6h-11zM156 721h11v6h-11zM167 642h12v3h-12zM167 697h12v6h-12zM167 721h12v6h-12zM179 736h11v9h-11zM190 612h11v3h-11zM201 630h11v6h-11zM212 679h12v3h-12zM235 679h11v27h-11zM235 715h11v3h-11zM246 700h12v3h-12zM246 724h12v6h-12zM258 697h11v6h-11zM258 727h11v3h-11zM269 615h11v3h-11zM269 709h11v3h-11zM280 700h12v3h-12zM280 721h12v3h-12zM292 700h11v3h-11zM292 718h11v9h-11zM314 642h11v3h-11zM314 700h11v3h-11zM314 724h11v3h-11zM337 700h11v3h-11zM337 724h11v6h-11zM348 636h11v3h-11zM348 715h11v9h-11zM359 700h12v3h-12zM359 727h12v3h-12zM371 642h11v3h-11zM371 700h11v3h-11zM371 724h11v3h-11zM382 615h11v3h-11zM382 706h11v3h-11zM382 748h11v3h-11zM393 615h12v3h-12zM405 615h11v3h-11zM416 612h11v3h-11zM416 712h11v3h-11zM438 700h12v3h-12zM438 724h12v3h-12zM450 639h11v3h-11zM450 724h11v3h-11zM461 636h11v6h-11zM461 724h11v3h-11zM472 633h12v3h-12zM472 700h12v3h-12zM472 715h12v9h-12zM495 755h11v3h-11zM506 615h12v3h-12zM506 709h12v3h-12zM506 755h12v3h-12zM518 618h11v3h-11zM529 706h11v3h-11zM540 706h11v3h-11zM551 709h12v3h-12zM563 612h11v3h-11zM574 645h11v3h-11zM585 697h12v6h-12zM585 727h12v3h-12zM597 700h11v3h-11zM608 639h11v3h-11zM608 694h11v9h-11zM631 636h11v3h-11zM631 697h11v6h-11zM631 718h11v9h-11zM642 639h11v3h-11zM642 694h11v9h-11zM642 724h11v3h-11zM653 636h11v3h-11zM653 694h11v9h-11zM653 724h11v3h-11zM664 709h12v3h-12zM664 755h12v3h-12zM676 618h11v3h-11zM676 709h11v3h-11zM687 709h11v3h-11zM721 618h11v3h-11zM721 709h11v3h-11zM732 697h12v6h-12zM732 724h12v3h-12zM744 645h11v3h-11zM744 697h11v18h-11zM755 636h11v3h-11zM777 636h12v6h-12zM777 700h12v3h-12zM777 715h12v9h-12zM789 615h11v3h-11zM811 615h12v3h-12zM823 709h11v3h-11zM834 706h11v3h-11zM857 612h11v3h-11zM868 700h11v3h-11zM868 724h11v3h-11zM902 700h11v3h-11zM902 718h11v6h-11zM913 615h11v3h-11zM913 712h11v3h-11z"/>
<path fill="#0020FF" d="M156 645h11v3h-11zM167 645h12v3h-12zM179 706h11v3h-11zM190 712h11v3h-11zM201 636h11v3h-11zM235 633h11v3h-11zM246 651h12v4h-12zM246 697h12v3h-12zM258 642h11v9h-11zM258 730h11v3h-11zM269 618h11v3h-11zM280 651h12v4h-12zM280 697h12v3h-12zM280 724h12v3h-12zM292 636h11v3h-11zM292 697h11v3h-11zM292 727h11v3h-11zM314 697h11v3h-11zM348 639h11v3h-11zM348 706h11v3h-11zM348 724h11v3h-11zM359 697h12v3h-12zM359 730h12v3h-12zM371 645h11v6h-11zM371 697h11v3h-11zM371 727h11v3h-11zM382 618h11v3h-11zM382 751h11v19h-11zM438 697h12v3h-12zM450 642h11v3h-11zM450 697h11v3h-11zM461 642h11v3h-11zM461 697h11v3h-11zM472 636h12v3h-12zM472 724h12v3h-12zM495 618h11v3h-11zM495 758h11v15h-11zM506 758h12v15h-12zM563 709h11v3h-11zM574 697h11v3h-11zM597 630h11v3h-11zM597 697h11v3h-11zM608 727h11v3h-11zM631 639h11v3h-11zM642 642h11v3h-11zM653 639h11v3h-11zM653 727h11v3h-11zM687 615h11v3h-11zM698 618h12v3h-12zM710 615h11v3h-11zM732 639h12v6h-12zM744 715h11v9h-11zM755 697h11v3h-11zM755 715h11v3h-11zM777 697h12v3h-12zM789 703h11v3h-11zM811 703h12v3h-12zM823 618h11v3h-11zM834 615h11v3h-11zM834 755h11v3h-11zM845 618h12v3h-12zM868 697h11v3h-11zM902 636h11v3h-11zM902 724h11v3h-11z"/>
<path fill="#0030FF" d="M156 727h11v3h-11zM167 648h12v3h-12zM167 727h12v3h-12zM201 639h11v3h-11zM258 651h11v4h-11zM337 697h11v3h-11zM348 642h11v3h-11zM348 727h11v3h-11zM359 648h12v7h-12zM359 694h12v3h-12zM371 694h11v3h-11zM382 621h11v3h-11zM382 703h11v3h-11zM393 618h12v3h-12zM393 709h12v3h-12zM405 706h11v3h-11zM450 727h11v3h-11zM472 697h12v3h-12zM495 706h11v3h-11zM506 618h12v3h-12zM518 621h11v6h-11zM518 700h11v3h-11zM529 615h11v3h-11zM529 703h11v3h-11zM540 615h11v3h-11zM540 703h11v3h-11zM551 615h12v3h-12zM574 648h11v3h-11zM574 727h11v3h-11zM585 645h12v3h-12zM585 694h12v3h-12zM597 633h11v3h-11zM597 694h11v3h-11zM597 727h11v3h-11zM631 727h11v3h-11zM664 615h12v3h-12zM676 621h11v3h-11zM698 706h12v3h-12zM710 709h11v3h-11zM721 621h11v3h-11zM732 645h12v3h-12zM732 694h12v3h-12zM732 727h12v3h-12zM744 694h11v3h-11zM777 724h12v3h-12zM789 618h11v3h-11zM800 615h11v3h-11zM800 709h11v3h-11zM800 751h11v4h-11zM834 703h11v3h-11zM845 709h12v3h-12zM857 706h11v3h-11zM902 639h11v3h-11zM902 697h11v3h-11zM913 618h11v3h-11z"/>
<path fill="#0040FF" d="M156 648h11v7h-11zM156 694h11v3h-11zM167 651h12v4h-12zM167 694h12v3h-12zM179 630h11v21h-11zM179 745h11v3h-11zM212 636h12v3h-12zM235 676h11v3h-11zM258 694h11v3h-11zM269 706h11v3h-11zM280 694h12v3h-12zM314 694h11v3h-11zM314 727h11v3h-11zM337 730h11v3h-11zM348 645h11v6h-11zM348 730h11v3h-11zM359 733h12v3h-12zM371 651h11v4h-11zM371 691h11v3h-11zM405 618h11v3h-11zM416 709h11v3h-11zM438 630h12v6h-12zM438 694h12v3h-12zM438 727h12v3h-12zM450 645h11v6h-11zM450 694h11v3h-11zM461 645h11v3h-11zM461 694h11v3h-11zM461 727h11v3h-11zM495 621h11v3h-11zM518 627h11v3h-11zM551 706h12v3h-12zM563 615h11v3h-11zM597 636h11v6h-11zM608 642h11v6h-11zM631 694h11v3h-11zM642 645h11v6h-11zM642 727h11v3h-11zM653 642h11v6h-11zM664 706h12v3h-12zM676 624h11v3h-11zM676 706h11v3h-11zM687 618h11v3h-11zM687 706h11v3h-11zM698 621h12v6h-12zM721 624h11v3h-11zM721 706h11v3h-11zM732 648h12v3h-12zM744 651h11v4h-11zM777 642h12v6h-12zM777 694h12v3h-12zM811 618h12v3h-12zM823 621h11v6h-11zM823 706h11v3h-11zM834 618h11v3h-11zM845 621h12v3h-12zM857 615h11v3h-11zM868 645h11v3h-11zM868 727h11v3h-11zM902 727h11v3h-11zM913 709h11v3h-11z"/>
<path fill="#0050FF" d="M179 703h11v3h-11zM190 615h11v3h-11zM201 642h11v3h-11zM235 718h11v3h-11zM258 733h11v3h-11zM269 621h11v9h-11zM280 727h12v3h-12zM348 703h11v3h-11zM348 733h11v15h-11zM382 624h11v6h-11zM495 624h11v3h-11zM506 706h12v3h-12zM518 630h11v18h-11zM529 618h11v3h-11zM540 618h11v3h-11zM585 648h12v3h-12zM597 642h11v3h-11zM608 648h11v3h-11zM642 651h11v4h-11zM653 648h11v3h-11zM676 627h11v21h-11zM698 627h12v3h-12zM710 618h11v3h-11zM721 627h11v21h-11zM744 648h11v3h-11zM744 724h11v3h-11zM755 694h11v3h-11zM777 648h12v3h-12zM789 755h11v3h-11zM800 755h11v15h-11zM823 627h11v3h-11zM845 624h12v3h-12zM868 694h11v3h-11z"/>
<path fill="#0060FF" d="M156 730h11v3h-11zM167 655h12v3h-12zM179 651h11v4h-11zM190 709h11v3h-11zM212 676h12v3h-12zM246 655h12v3h-12zM246 694h12v3h-12zM258 655h11v3h-11zM269 645h11v10h-11zM280 655h12v3h-12zM292 639h11v6h-11zM292 730h11v3h-11zM314 645h11v3h-11zM337 645h11v10h-11zM348 651h11v4h-11zM359 655h12v3h-12zM359 736h12v6h-12zM371 655h11v6h-11zM371 730h11v3h-11zM382 630h11v9h-11zM393 621h12v3h-12zM405 621h11v3h-11zM405 703h11v3h-11zM416 615h11v3h-11zM438 636h12v3h-12zM450 691h11v3h-11zM461 648h11v3h-11zM472 639h12v6h-12zM495 627h11v3h-11zM495 703h11v3h-11zM506 621h12v3h-12zM518 648h11v3h-11zM551 618h12v3h-12zM563 706h11v3h-11zM574 694h11v3h-11zM585 651h12v4h-12zM585 691h12v3h-12zM585 730h12v3h-12zM597 645h11v10h-11zM597 691h11v3h-11zM608 651h11v4h-11zM608 691h11v3h-11zM631 642h11v9h-11zM642 691h11v3h-11zM653 651h11v4h-11zM653 730h11v3h-11zM664 618h12v3h-12zM676 648h11v3h-11zM687 621h11v3h-11zM698 630h12v18h-12zM698 703h12v3h-12zM721 648h11v3h-11zM732 651h12v7h-12zM744 691h11v3h-11zM777 651h12v4h-12zM777 727h12v3h-12zM789 621h11v3h-11zM800 618h11v3h-11zM811 621h12v3h-12zM823 630h11v18h-11zM834 621h11v3h-11zM845 627h12v3h-12zM857 703h11v3h-11zM868 648h11v3h-11zM913 621h11v3h-11z"/>
<path fill="#0070FF" d="M156 655h11v3h-11zM156 691h11v3h-11zM167 691h12v3h-12zM167 730h12v3h-12zM190 639h11v9h-11zM224 633h11v3h-11zM235 673h11v3h-11zM258 691h11v3h-11zM269 630h11v15h-11zM280 691h12v3h-12zM292 645h11v6h-11zM292 694h11v3h-11zM314 648h11v3h-11zM314 691h11v3h-11zM337 694h11v3h-11zM337 733h11v3h-11zM348 748h11v3h-11zM359 691h12v3h-12zM359 742h12v6h-12zM382 639h11v9h-11zM393 624h12v3h-12zM393 706h12v3h-12zM405 624h11v3h-11zM438 639h12v3h-12zM438 691h12v3h-12zM450 651h11v4h-11zM461 651h11v4h-11zM461 691h11v3h-11zM472 645h12v3h-12zM472 694h12v3h-12zM472 727h12v3h-12zM495 630h11v21h-11zM506 624h12v3h-12zM518 697h11v3h-11zM529 621h11v3h-11zM551 703h12v3h-12zM563 618h11v3h-11zM585 655h12v3h-12zM631 651h11v4h-11zM642 655h11v3h-11zM653 691h11v3h-11zM664 703h12v3h-12zM664 758h12v3h-12zM676 703h11v3h-11zM687 624h11v3h-11zM687 703h11v3h-11zM698 648h12v3h-12zM710 621h11v3h-11zM721 703h11v3h-11zM732 691h12v3h-12zM744 655h11v3h-11zM755 639h11v6h-11zM755 718h11v3h-11zM789 624h11v3h-11zM789 700h11v3h-11zM811 624h12v3h-12zM811 700h12v3h-12zM823 648h11v3h-11zM823 703h11v3h-11zM834 624h11v3h-11zM845 630h12v21h-12zM857 618h11v3h-11zM868 651h11v4h-11zM902 642h11v3h-11zM913 624h11v3h-11zM913 630h11v12h-11z"/>
<path fill="#0080FF" d="M179 655h11v3h-11zM190 618h11v3h-11zM190 648h11v3h-11zM235 721h11v3h-11zM269 703h11v3h-11zM359 748h12v3h-12zM382 648h11v3h-11zM382 700h11v3h-11zM393 627h12v3h-12zM405 627h11v3h-11zM416 706h11v3h-11zM472 648h12v3h-12zM495 651h11v4h-11zM506 627h12v3h-12zM518 651h11v4h-11zM529 700h11v3h-11zM540 621h11v3h-11zM540 700h11v3h-11zM608 730h11v3h-11zM631 730h11v3h-11zM664 621h12v3h-12zM676 651h11v4h-11zM687 627h11v3h-11zM698 651h12v4h-12zM710 624h11v3h-11zM710 706h11v3h-11zM721 651h11v4h-11zM755 645h11v6h-11zM789 627h11v3h-11zM800 621h11v3h-11zM800 706h11v3h-11zM811 627h12v3h-12zM823 651h11v4h-11zM834 627h11v3h-11zM834 700h11v3h-11zM845 651h12v4h-12zM845 706h12v3h-12zM902 645h11v3h-11zM902 694h11v3h-11zM913 627h11v3h-11zM913 642h11v9h-11z"/>
<path fill="#008FFF" d="M167 658h12v3h-12zM179 700h11v3h-11zM179 748h11v3h-11zM201 645h11v10h-11zM235 636h11v3h-11zM246 691h12v3h-12zM280 658h12v3h-12zM292 651h11v4h-11zM292 733h11v3h-11zM314 651h11v4h-11zM337 655h11v3h-11zM337 736h11v3h-11zM337 758h11v6h-11zM348 655h11v3h-11zM359 658h12v3h-12zM359 751h12v4h-12zM393 630h12v18h-12zM405 630h11v25h-11zM438 642h12v3h-12zM472 651h12v4h-12zM506 630h12v25h-12zM506 703h12v3h-12zM529 624h11v3h-11zM540 624h11v3h-11zM551 621h12v3h-12zM574 651h11v7h-11zM597 655h11v3h-11zM631 691h11v3h-11zM631 755h11v18h-11zM653 655h11v3h-11zM664 624h12v3h-12zM687 630h11v25h-11zM710 627h11v3h-11zM755 651h11v10h-11zM755 691h11v3h-11zM755 721h11v6h-11zM777 655h12v3h-12zM777 691h12v3h-12zM789 630h11v25h-11zM789 758h11v3h-11zM800 624h11v3h-11zM811 630h12v25h-12zM834 630h11v25h-11zM857 621h11v3h-11zM868 655h11v3h-11zM868 691h11v3h-11zM902 648h11v7h-11zM913 651h11v4h-11zM913 706h11v3h-11z"/>
<path fill="#009FFF" d="M156 658h11v3h-11zM156 733h11v3h-11zM167 733h12v3h-12zM167 761h12v9h-12zM190 621h11v3h-11zM190 636h11v3h-11zM212 673h12v3h-12zM235 670h11v3h-11zM235 724h11v3h-11zM246 658h12v3h-12zM269 655h11v3h-11zM280 730h12v3h-12zM292 655h11v3h-11zM314 730h11v3h-11zM337 739h11v3h-11zM337 751h11v7h-11zM337 764h11v6h-11zM382 651h11v4h-11zM393 648h12v3h-12zM416 618h11v3h-11zM450 655h11v3h-11zM529 627h11v3h-11zM529 758h11v3h-11zM540 627h11v3h-11zM551 624h12v3h-12zM563 621h11v3h-11zM563 703h11v3h-11zM574 658h11v3h-11zM574 691h11v3h-11zM597 688h11v3h-11zM608 688h11v3h-11zM631 745h11v10h-11zM710 630h11v25h-11zM732 658h12v3h-12zM744 658h11v3h-11zM744 688h11v3h-11zM755 727h11v3h-11zM777 658h12v3h-12zM902 655h11v3h-11z"/>
<path fill="#00AFFF" d="M167 751h12v10h-12zM190 633h11v3h-11zM190 651h11v4h-11zM190 706h11v3h-11zM258 736h11v3h-11zM292 736h11v3h-11zM337 742h11v9h-11zM337 770h11v6h-11zM348 700h11v3h-11zM348 751h11v4h-11zM359 755h12v3h-12zM371 661h11v3h-11zM371 688h11v3h-11zM371 733h11v3h-11zM393 703h12v3h-12zM438 645h12v3h-12zM450 730h11v3h-11zM461 655h11v3h-11zM518 655h11v3h-11zM529 630h11v25h-11zM540 630h11v25h-11zM551 627h12v3h-12zM563 624h11v3h-11zM585 733h12v3h-12zM631 733h11v12h-11zM653 733h11v3h-11zM664 627h12v3h-12zM698 655h12v3h-12zM732 730h12v3h-12zM777 730h12v3h-12zM789 655h11v3h-11zM800 627h11v3h-11zM857 624h11v3h-11zM902 730h11v3h-11zM913 655h11v3h-11z"/>
<path fill="#00BFFF" d="M156 688h11v3h-11zM156 758h11v12h-11zM167 748h12v3h-12zM190 624h11v6h-11zM201 655h11v3h-11zM258 658h11v3h-11zM292 691h11v3h-11zM337 691h11v3h-11zM405 655h11v3h-11zM416 621h11v3h-11zM416 703h11v3h-11zM472 655h12v3h-12zM472 691h12v3h-12zM495 655h11v3h-11zM551 630h12v18h-12zM563 627h11v3h-11zM574 730h11v3h-11zM585 688h12v3h-12zM597 730h11v3h-11zM642 658h11v3h-11zM642 688h11v3h-11zM664 630h12v25h-12zM676 655h11v3h-11zM687 655h11v3h-11zM710 703h11v3h-11zM721 655h11v3h-11zM755 661h11v3h-11zM800 630h11v25h-11zM800 703h11v3h-11zM834 655h11v3h-11zM845 703h12v3h-12zM857 627h11v3h-11zM868 658h11v3h-11zM902 658h11v3h-11z"/>
<path fill="#00CFFF" d="M156 755h11v3h-11zM167 688h12v3h-12zM167 736h12v3h-12zM167 745h12v3h-12zM292 739h11v3h-11zM314 688h11v3h-11zM382 655h11v3h-11zM405 700h11v3h-11zM438 648h12v3h-12zM461 730h11v3h-11zM495 700h11v3h-11zM518 658h11v3h-11zM518 694h11v3h-11zM551 648h12v3h-12zM585 658h12v3h-12zM642 730h11v3h-11zM653 688h11v3h-11zM698 700h12v3h-12zM710 655h11v3h-11zM744 727h11v3h-11zM789 697h11v3h-11zM811 655h12v3h-12zM811 697h12v3h-12zM857 630h11v25h-11zM857 700h11v3h-11zM868 730h11v3h-11zM902 691h11v3h-11z"/>
<path fill="#00DFFF" d="M156 736h11v3h-11zM156 751h11v4h-11zM167 661h12v3h-12zM179 658h11v3h-11zM179 697h11v3h-11zM179 751h11v4h-11zM190 630h11v3h-11zM224 636h11v3h-11zM258 688h11v3h-11zM280 661h12v3h-12zM280 688h12v3h-12zM280 733h12v3h-12zM314 733h11v3h-11zM337 658h11v3h-11zM371 736h11v3h-11zM382 697h11v3h-11zM393 651h12v4h-12zM416 624h11v24h-11zM450 688h11v3h-11zM461 688h11v3h-11zM472 730h12v3h-12zM529 655h11v3h-11zM529 697h11v3h-11zM540 697h11v3h-11zM551 700h12v3h-12zM563 630h11v21h-11zM585 736h12v3h-12zM608 733h11v3h-11zM653 736h11v3h-11zM664 700h12v3h-12zM676 700h11v3h-11zM687 700h11v3h-11zM721 700h11v3h-11zM732 688h12v3h-12zM755 730h11v3h-11zM777 733h12v3h-12zM789 658h11v3h-11zM823 655h11v3h-11zM823 700h11v3h-11zM834 697h11v3h-11zM913 703h11v3h-11z"/>
<path fill="#00EFFF" d="M156 661h11v3h-11zM167 739h12v6h-12zM235 639h11v3h-11zM235 667h11v3h-11zM258 739h11v3h-11zM292 742h11v6h-11zM314 655h11v3h-11zM348 658h11v3h-11zM348 697h11v3h-11zM359 661h12v3h-12zM359 758h12v3h-12zM405 658h11v3h-11zM438 651h12v4h-12zM438 688h12v3h-12zM438 730h12v3h-12zM450 658h11v3h-11zM461 658h11v3h-11zM506 655h12v3h-12zM540 655h11v3h-11zM551 651h12v4h-12zM563 651h11v4h-11zM585 739h12v3h-12zM597 658h11v3h-11zM608 655h11v3h-11zM653 658h11v3h-11zM653 739h11v3h-11zM676 658h11v3h-11zM687 658h11v3h-11zM698 658h12v3h-12zM710 658h11v3h-11zM744 685h11v3h-11zM789 761h11v3h-11zM800 655h11v3h-11zM834 658h11v3h-11zM857 655h11v3h-11zM868 688h11v3h-11z"/>
<path fill="#00FFFF" d="M156 739h11v3h-11zM156 748h11v3h-11zM190 655h11v3h-11zM190 703h11v3h-11zM212 670h12v3h-12zM246 661h12v3h-12zM280 736h12v3h-12zM292 658h11v3h-11zM292 748h11v16h-11zM359 688h12v3h-12zM371 664h11v3h-11zM371 739h11v3h-11zM382 658h11v3h-11zM416 651h11v4h-11zM472 658h12v3h-12zM506 700h12v3h-12zM518 661h11v3h-11zM585 742h12v3h-12zM608 736h11v3h-11zM631 655h11v3h-11zM631 688h11v3h-11zM653 742h11v19h-11zM664 655h12v3h-12zM755 664h11v3h-11zM755 733h11v3h-11zM777 736h12v3h-12zM789 661h11v3h-11zM811 658h12v3h-12zM834 758h11v3h-11zM845 655h12v3h-12zM857 658h11v3h-11zM902 761h11v15h-11zM913 658h11v3h-11z"/>
<path fill="#10FFEF" d="M156 742h11v6h-11zM179 755h11v3h-11zM201 658h11v3h-11zM224 670h11v3h-11zM246 688h12v3h-12zM258 742h11v6h-11zM269 658h11v3h-11zM269 700h11v3h-11zM314 736h11v3h-11zM348 755h11v3h-11zM371 742h11v3h-11zM416 648h11v3h-11zM438 655h12v3h-12zM450 733h11v3h-11zM472 733h12v3h-12zM551 655h12v3h-12zM563 700h11v3h-11zM574 661h11v3h-11zM597 685h11v3h-11zM608 739h11v9h-11zM653 761h11v12h-11zM732 661h12v3h-12zM732 733h12v3h-12zM744 661h11v3h-11zM744 730h11v3h-11zM755 688h11v3h-11zM777 661h12v3h-12zM777 688h12v3h-12zM777 739h12v9h-12zM868 661h11v3h-11zM902 661h11v3h-11zM902 733h11v3h-11z"/>
<path fill="#20FFDF" d="M212 639h12v3h-12zM258 748h11v3h-11zM280 739h12v3h-12zM348 694h11v3h-11zM359 761h12v3h-12zM371 745h11v3h-11zM472 736h12v19h-12zM495 658h11v3h-11zM585 745h12v10h-12zM608 748h11v10h-11zM642 661h11v3h-11zM721 658h11v3h-11zM744 733h11v6h-11zM777 748h12v10h-12zM902 758h11v3h-11z"/>
<path fill="#30FFCF" d="M280 742h12v3h-12zM280 773h12v9h-12zM314 739h11v3h-11zM371 748h11v3h-11zM393 655h12v3h-12zM393 700h12v3h-12zM450 736h11v6h-11zM529 658h11v3h-11zM563 655h11v3h-11zM585 755h12v15h-12zM608 758h11v15h-11zM664 761h12v3h-12zM744 739h11v3h-11zM755 736h11v3h-11zM902 736h11v3h-11zM902 755h11v3h-11z"/>
<path fill="#40FFBF" d="M167 664h12v3h-12zM179 661h11v3h-11zM179 694h11v3h-11zM179 758h11v3h-11zM235 645h11v3h-11zM235 664h11v3h-11zM280 664h12v3h-12zM280 745h12v3h-12zM280 764h12v9h-12zM405 697h11v3h-11zM416 655h11v3h-11zM438 658h12v3h-12zM450 661h11v3h-11zM450 742h11v3h-11zM461 661h11v3h-11zM472 661h12v3h-12zM495 697h11v3h-11zM518 691h11v3h-11zM574 733h11v3h-11zM585 661h12v3h-12zM585 770h12v3h-12zM597 733h11v3h-11zM608 658h11v3h-11zM608 773h11v6h-11zM642 685h11v3h-11zM642 733h11v3h-11zM687 661h11v3h-11zM698 661h12v3h-12zM698 697h12v3h-12zM710 661h11v3h-11zM710 700h11v3h-11zM732 736h12v3h-12zM744 664h11v3h-11zM744 682h11v3h-11zM744 742h11v6h-11zM789 694h11v3h-11zM800 700h11v3h-11zM811 694h12v3h-12zM834 661h11v3h-11zM845 700h12v3h-12zM857 697h11v3h-11zM868 733h11v3h-11zM902 739h11v6h-11zM902 751h11v4h-11z"/>
<path fill="#50FFAF" d="M258 751h11v4h-11zM280 748h12v16h-12zM314 742h11v3h-11zM348 758h11v3h-11zM405 661h11v3h-11zM416 700h11v3h-11zM450 745h11v6h-11zM461 733h11v3h-11zM529 761h11v3h-11zM608 779h11v3h-11zM642 767h11v6h-11zM664 697h12v3h-12zM687 697h11v3h-11zM721 697h11v3h-11zM777 758h12v3h-12zM789 764h11v3h-11zM823 697h11v3h-11zM902 745h11v6h-11z"/>
<path fill="#60FF9F" d="M156 664h11v3h-11zM156 685h11v3h-11zM167 685h12v3h-12zM201 661h11v3h-11zM235 642h11v3h-11zM258 685h11v3h-11zM292 661h11v3h-11zM292 688h11v3h-11zM314 658h11v3h-11zM314 685h11v3h-11zM337 661h11v3h-11zM348 661h11v3h-11zM371 685h11v3h-11zM371 751h11v4h-11zM382 694h11v3h-11zM438 776h12v6h-12zM450 751h11v7h-11zM461 685h11v3h-11zM472 688h12v3h-12zM529 694h11v3h-11zM540 694h11v3h-11zM551 697h12v3h-12zM574 688h11v3h-11zM585 685h12v3h-12zM597 661h11v3h-11zM597 682h11v3h-11zM608 685h11v3h-11zM631 658h11v3h-11zM642 764h11v3h-11zM653 661h11v3h-11zM653 685h11v3h-11zM676 697h11v3h-11zM732 664h12v3h-12zM732 739h12v3h-12zM744 667h11v15h-11zM744 748h11v3h-11zM823 658h11v3h-11zM834 694h11v3h-11zM868 664h11v3h-11zM868 685h11v3h-11zM902 664h11v3h-11zM902 688h11v3h-11zM913 661h11v3h-11z"/>
<path fill="#70FF8F" d="M179 761h11v3h-11zM212 667h12v3h-12zM224 667h11v3h-11zM258 661h11v3h-11zM269 697h11v3h-11zM280 685h12v3h-12zM337 688h11v3h-11zM348 691h11v3h-11zM359 664h12v3h-12zM438 733h12v3h-12zM438 773h12v3h-12zM450 685h11v3h-11zM450 758h11v6h-11zM506 658h12v3h-12zM540 658h11v3h-11zM597 736h11v3h-11zM642 736h11v3h-11zM642 761h11v3h-11zM676 661h11v3h-11zM732 685h12v3h-12zM732 742h12v3h-12zM800 658h11v3h-11zM834 761h11v3h-11zM868 736h11v3h-11zM913 700h11v3h-11z"/>
<path fill="#80FF80" d="M224 639h11v3h-11zM314 745h11v3h-11zM371 755h11v3h-11zM438 770h12v3h-12zM450 764h11v12h-11zM461 736h11v3h-11zM574 736h11v3h-11zM585 773h12v3h-12zM642 758h11v3h-11zM732 745h12v6h-12zM755 739h11v3h-11zM789 767h11v3h-11zM868 739h11v3h-11z"/>
<path fill="#8FFF70" d="M167 667h12v3h-12zM179 691h11v3h-11zM179 764h11v3h-11zM190 658h11v3h-11zM235 661h11v3h-11zM258 755h11v3h-11zM280 667h12v3h-12zM348 761h11v3h-11zM371 667h11v3h-11zM371 758h11v15h-11zM382 661h11v3h-11zM438 685h12v3h-12zM438 767h12v3h-12zM450 664h11v3h-11zM450 776h11v6h-11zM461 664h11v3h-11zM506 697h12v3h-12zM518 664h11v3h-11zM551 658h12v3h-12zM574 739h11v3h-11zM597 739h11v3h-11zM631 685h11v3h-11zM642 664h11v3h-11zM642 682h11v3h-11zM642 739h11v3h-11zM664 658h12v3h-12zM732 667h12v3h-12zM732 751h12v31h-12zM755 667h11v3h-11zM755 770h11v3h-11zM777 664h12v3h-12zM789 664h11v3h-11zM789 770h11v9h-11zM811 661h12v3h-12zM845 658h12v3h-12zM857 661h11v3h-11zM868 667h11v3h-11zM868 742h11v9h-11z"/>
<path fill="#9FFF60" d="M359 685h12v3h-12zM371 670h11v3h-11zM461 739h11v3h-11zM495 661h11v3h-11zM563 697h11v3h-11zM574 742h11v6h-11zM642 742h11v3h-11zM642 755h11v3h-11zM721 661h11v3h-11z"/>
<path fill="#AFFF50" d="M167 682h12v3h-12zM212 645h12v3h-12zM235 648h11v13h-11zM246 664h12v3h-12zM258 682h11v3h-11zM314 748h11v3h-11zM371 682h11v3h-11zM393 658h12v3h-12zM438 661h12v3h-12zM438 764h12v3h-12zM461 682h11v3h-11zM461 742h11v6h-11zM529 661h11v3h-11zM563 658h11v3h-11zM574 748h11v16h-11zM597 664h11v3h-11zM597 679h11v3h-11zM597 742h11v3h-11zM642 745h11v10h-11zM744 751h11v4h-11zM755 767h11v3h-11zM777 685h12v3h-12zM868 682h11v3h-11zM868 751h11v4h-11z"/>
<path fill="#BFFF40" d="M156 667h11v3h-11zM156 682h11v3h-11zM212 664h12v3h-12zM224 664h11v3h-11zM246 685h12v3h-12zM258 758h11v3h-11zM269 661h11v3h-11zM416 658h11v3h-11zM438 736h12v3h-12zM438 761h12v3h-12zM461 667h11v6h-11zM461 748h11v7h-11zM472 664h12v3h-12zM574 664h11v3h-11zM574 764h11v15h-11zM585 682h12v3h-12zM585 776h12v3h-12zM608 661h11v3h-11zM687 664h11v3h-11zM698 664h12v3h-12zM710 664h11v3h-11zM732 682h12v3h-12zM777 761h12v3h-12zM834 664h11v3h-11zM868 755h11v6h-11z"/>
<path fill="#CFFF30" d="M212 648h12v3h-12zM405 664h11v3h-11zM461 755h11v6h-11zM597 745h11v3h-11zM653 664h11v3h-11zM755 764h11v3h-11zM823 661h11v3h-11zM868 761h11v12h-11z"/>
<path fill="#DFFF20" d="M179 664h11v3h-11zM212 642h12v3h-12zM224 642h11v6h-11zM280 670h12v3h-12zM280 682h12v3h-12zM314 682h11v3h-11zM314 751h11v4h-11zM337 664h11v3h-11zM348 664h11v3h-11zM348 688h11v3h-11zM348 764h11v3h-11zM393 697h12v3h-12zM438 758h12v3h-12zM461 761h11v3h-11zM506 661h12v3h-12zM540 661h11v3h-11zM585 664h12v3h-12zM597 676h11v3h-11zM597 748h11v3h-11zM608 682h11v3h-11zM631 661h11v3h-11zM653 682h11v3h-11zM676 664h11v3h-11zM732 670h12v3h-12zM755 685h11v3h-11zM755 742h11v3h-11zM800 661h11v3h-11zM868 773h11v9h-11zM902 667h11v3h-11z"/>
<path fill="#EFFF10" d="M156 670h11v3h-11zM167 670h12v3h-12zM167 679h12v3h-12zM179 767h11v3h-11zM190 661h11v3h-11zM190 700h11v3h-11zM201 664h11v3h-11zM212 651h12v13h-12zM224 648h11v16h-11zM258 664h11v3h-11zM258 761h11v3h-11zM292 664h11v3h-11zM314 661h11v3h-11zM314 755h11v3h-11zM359 667h12v3h-12zM371 673h11v9h-11zM405 694h11v3h-11zM438 664h12v3h-12zM450 667h11v3h-11zM450 682h11v3h-11zM461 673h11v9h-11zM461 764h11v3h-11zM495 694h11v3h-11zM518 688h11v3h-11zM597 667h11v6h-11zM597 751h11v4h-11zM642 667h11v6h-11zM698 694h12v3h-12zM710 697h11v3h-11zM755 761h11v3h-11zM777 667h12v3h-12zM789 691h11v3h-11zM800 697h11v3h-11zM811 691h12v3h-12zM845 697h12v3h-12zM857 694h11v3h-11zM868 670h11v3h-11zM868 679h11v3h-11zM913 664h11v3h-11zM913 697h11v3h-11z"/>
<path fill="#FFFF00" d="M156 679h11v3h-11zM179 688h11v3h-11zM314 758h11v3h-11zM382 664h11v3h-11zM393 661h12v6h-12zM416 661h11v6h-11zM438 682h12v3h-12zM438 739h12v3h-12zM461 767h11v6h-11zM495 664h11v3h-11zM506 664h12v3h-12zM529 664h11v3h-11zM540 664h11v3h-11zM551 661h12v6h-12zM563 661h11v6h-11zM574 685h11v3h-11zM597 755h11v9h-11zM608 664h11v3h-11zM664 661h12v6h-12zM721 664h11v3h-11zM732 679h12v3h-12zM800 664h11v3h-11zM811 664h12v3h-12zM823 664h11v3h-11zM845 661h12v6h-12zM857 664h11v3h-11z"/>
<path fill="#FFEF00" d="M156 673h11v6h-11zM167 673h12v6h-12zM179 667h11v3h-11zM190 664h11v12h-11zM201 667h11v9h-11zM246 667h12v3h-12zM258 667h11v15h-11zM269 664h11v9h-11zM280 673h12v6h-12zM292 667h11v6h-11zM314 664h11v9h-11zM314 761h11v3h-11zM337 667h11v6h-11zM337 685h11v3h-11zM348 667h11v3h-11zM359 670h12v3h-12zM382 667h11v3h-11zM393 667h12v3h-12zM405 667h11v3h-11zM416 667h11v3h-11zM416 697h11v3h-11zM438 667h12v3h-12zM438 755h12v3h-12zM450 670h11v3h-11zM461 773h11v9h-11zM472 667h12v6h-12zM495 667h11v3h-11zM506 667h12v3h-12zM518 667h11v3h-11zM529 667h11v3h-11zM540 667h11v3h-11zM551 667h12v3h-12zM563 667h11v3h-11zM574 667h11v3h-11zM585 667h12v3h-12zM597 673h11v3h-11zM597 764h11v21h-11zM608 667h11v3h-11zM631 664h11v6h-11zM642 673h11v9h-11zM653 667h11v6h-11zM664 667h12v3h-12zM664 694h12v3h-12zM676 667h11v3h-11zM687 667h11v3h-11zM687 694h11v3h-11zM698 667h12v3h-12zM710 667h11v3h-11zM721 667h11v3h-11zM721 694h11v3h-11zM755 670h11v3h-11zM777 670h12v6h-12zM777 682h12v3h-12zM789 667h11v3h-11zM800 667h11v3h-11zM811 667h12v3h-12zM823 667h11v3h-11zM834 667h11v3h-11zM845 667h12v3h-12zM857 667h11v3h-11zM868 673h11v6h-11zM902 670h11v3h-11zM902 685h11v3h-11zM913 667h11v6h-11z"/>
<path fill="#FFDF00" d="M246 670h12v3h-12zM246 682h12v3h-12zM269 673h11v3h-11zM269 694h11v3h-11zM280 679h12v3h-12zM292 673h11v3h-11zM314 673h11v3h-11zM337 673h11v3h-11zM348 670h11v3h-11zM348 767h11v3h-11zM359 673h12v6h-12zM382 670h11v6h-11zM382 691h11v3h-11zM393 670h12v6h-12zM405 670h11v6h-11zM416 670h11v6h-11zM438 670h12v6h-12zM438 742h12v3h-12zM472 673h12v3h-12zM495 670h11v6h-11zM506 670h12v6h-12zM518 670h11v6h-11zM529 670h11v6h-11zM529 691h11v3h-11zM540 670h11v6h-11zM540 691h11v3h-11zM551 670h12v6h-12zM563 670h11v6h-11zM574 670h11v6h-11zM585 670h12v6h-12zM608 670h11v6h-11zM608 679h11v3h-11zM631 670h11v6h-11zM631 682h11v3h-11zM653 673h11v9h-11zM664 670h12v6h-12zM664 764h12v3h-12zM676 670h11v6h-11zM687 670h11v6h-11zM698 670h12v6h-12zM710 670h11v6h-11zM721 670h11v6h-11zM755 758h11v3h-11zM789 670h11v6h-11zM800 670h11v6h-11zM811 670h12v6h-12zM823 670h11v6h-11zM823 694h11v3h-11zM834 670h11v6h-11zM834 691h11v3h-11zM845 670h12v6h-12zM857 670h11v6h-11z"/>
<path fill="#FFCF00" d="M179 670h11v3h-11zM190 676h11v6h-11zM258 764h11v3h-11zM314 764h11v3h-11zM382 676h11v3h-11zM393 676h12v3h-12zM405 676h11v3h-11zM416 676h11v3h-11zM438 745h12v3h-12zM450 673h11v3h-11zM495 676h11v3h-11zM506 676h12v3h-12zM518 676h11v3h-11zM529 676h11v3h-11zM540 676h11v3h-11zM551 676h12v3h-12zM551 694h12v3h-12zM563 676h11v3h-11zM664 676h12v3h-12zM676 676h11v3h-11zM676 694h11v3h-11zM687 676h11v3h-11zM698 676h12v3h-12zM710 676h11v3h-11zM721 676h11v3h-11zM732 673h12v6h-12zM744 755h11v3h-11zM755 745h11v3h-11zM777 676h12v6h-12zM789 676h11v3h-11zM800 676h11v3h-11zM811 676h12v3h-12zM823 676h11v3h-11zM834 676h11v3h-11zM845 676h12v3h-12zM857 676h11v3h-11zM902 673h11v3h-11zM913 673h11v6h-11z"/>
<path fill="#FFBF00" d="M179 770h11v3h-11zM246 673h12v9h-12zM269 676h11v6h-11zM292 676h11v3h-11zM314 676h11v6h-11zM348 673h11v6h-11zM359 679h12v6h-12zM382 679h11v3h-11zM393 679h12v3h-12zM405 679h11v3h-11zM416 679h11v3h-11zM438 676h12v6h-12zM438 748h12v7h-12zM472 676h12v3h-12zM495 679h11v3h-11zM506 679h12v3h-12zM518 679h11v3h-11zM529 679h11v3h-11zM540 679h11v3h-11zM551 679h12v3h-12zM563 679h11v3h-11zM574 676h11v6h-11zM585 676h12v6h-12zM608 676h11v3h-11zM664 679h12v3h-12zM676 679h11v3h-11zM687 679h11v3h-11zM698 679h12v3h-12zM710 679h11v3h-11zM721 679h11v3h-11zM755 673h11v6h-11zM755 682h11v3h-11zM755 755h11v3h-11zM777 764h12v3h-12zM789 679h11v3h-11zM800 679h11v3h-11zM811 679h12v3h-12zM823 679h11v3h-11zM834 679h11v3h-11zM845 679h12v3h-12zM857 679h11v3h-11z"/>
<path fill="#FFAF00" d="M179 673h11v6h-11zM314 767h11v3h-11zM337 676h11v9h-11zM348 679h11v3h-11zM348 770h11v3h-11zM382 682h11v3h-11zM393 682h12v3h-12zM405 682h11v3h-11zM416 682h11v3h-11zM450 676h11v6h-11zM495 682h11v3h-11zM506 682h12v3h-12zM518 682h11v3h-11zM529 682h11v3h-11zM540 682h11v3h-11zM551 682h12v3h-12zM563 682h11v3h-11zM631 676h11v6h-11zM664 682h12v3h-12zM676 682h11v3h-11zM687 682h11v3h-11zM698 682h12v3h-12zM710 682h11v3h-11zM721 682h11v3h-11zM744 758h11v3h-11zM789 682h11v3h-11zM800 682h11v3h-11zM811 682h12v3h-12zM823 682h11v3h-11zM834 682h11v3h-11zM845 682h12v3h-12zM857 682h11v3h-11zM902 676h11v3h-11zM902 682h11v3h-11zM913 679h11v6h-11z"/>
<path fill="#FF9F00" d="M179 679h11v6h-11zM179 773h11v6h-11zM190 682h11v6h-11zM258 767h11v3h-11zM269 682h11v6h-11zM292 679h11v9h-11zM348 682h11v6h-11zM348 773h11v9h-11zM382 685h11v6h-11zM393 685h12v6h-12zM405 685h11v6h-11zM416 685h11v6h-11zM472 679h12v9h-12zM495 685h11v6h-11zM506 685h12v6h-12zM518 685h11v3h-11zM529 685h11v3h-11zM540 685h11v3h-11zM551 685h12v6h-12zM563 685h11v6h-11zM574 682h11v3h-11zM664 685h12v6h-12zM676 685h11v6h-11zM687 685h11v6h-11zM698 685h12v9h-12zM710 685h11v6h-11zM721 685h11v6h-11zM755 679h11v3h-11zM755 748h11v7h-11zM789 685h11v6h-11zM800 685h11v6h-11zM811 685h12v6h-12zM823 685h11v6h-11zM834 685h11v3h-11zM845 685h12v6h-12zM857 685h11v6h-11zM902 679h11v3h-11zM913 685h11v6h-11z"/>
<path fill="#FF8F00" d="M179 685h11v3h-11zM190 688h11v3h-11zM190 697h11v3h-11zM393 691h12v3h-12zM405 691h11v3h-11zM416 691h11v3h-11zM529 688h11v3h-11zM540 688h11v3h-11zM563 691h11v3h-11zM664 767h12v3h-12zM710 691h11v3h-11zM721 691h11v3h-11zM744 761h11v3h-11zM777 767h12v3h-12zM800 691h11v3h-11zM834 688h11v3h-11zM845 691h12v3h-12z"/>
<path fill="#FF8000" d="M269 688h11v6h-11zM314 770h11v3h-11zM506 691h12v3h-12zM800 694h11v3h-11z"/>
<path fill="#FF7000" d="M393 694h12v3h-12zM416 694h11v3h-11zM495 691h11v3h-11zM506 694h12v3h-12zM551 691h12v3h-12zM563 694h11v3h-11zM664 691h12v3h-12zM676 691h11v3h-11zM687 691h11v3h-11zM710 694h11v3h-11zM845 694h12v3h-12zM857 691h11v3h-11zM913 691h11v6h-11z"/>
<path fill="#FF6000" d="M190 691h11v6h-11zM823 691h11v3h-11z"/>
<path fill="#FF5000" d="M258 770h11v3h-11z"/>
<path fill="#FF4000" d="M314 773h11v3h-11z"/>
<path fill="#FF3000" d="M744 764h11v3h-11z"/>
<path fill="#FF0000" d="M258 773h11v3h-11zM314 776h11v3h-11z"/>
<path fill="#DF0000" d="M744 767h11v3h-11z"/>
<path fill="#CF0000" d="M314 779h11v3h-11z"/>
<path fill="#BF0000" d="M258 776h11v3h-11z"/>
<path fill="#AF0000" d="M744 770h11v3h-11z"/>
<path fill="#9F0000" d="M258 779h11v3h-11zM314 782h11v3h-11zM744 773h11v3h-11z"/>
<path fill="#8F0000" d="M314 785h11v3h-11zM744 776h11v6h-11z"/></g>
<clipPath id="c2"><rect x="156" y="495" width="791" height="306"/></clipPath>
<path clip-path="url(#c2)" fill="#fff" d="M159.0 760.0h5l4 4v5l-4 4h-5l-4 -4v-5zM170.5 760.0h5l4 4v5l-4 4h-5l-4 -4v-5zM181.5 769.0h5l4 4v5l-4 4h-5l-4 -4v-5zM193.0 753.0h5l4 4v5l-4 4h-5l-4 -4v-5zM204.5 635.5h5l4 4v5l-4 4h-5l-4 -4v-5zM215.5 635.5h5l4 4v5l-4 4h-5l-4 -4v-5zM227.0 632.5h5l4 4v5l-4 4h-5l-4 -4v-5zM238.0 635.5h5l4 4v5l-4 4h-5l-4 -4v-5zM249.5 723.5h5l4 4v5l-4 4h-5l-4 -4v-5zM261.0 753.0h5l4 4v5l-4 4h-5l-4 -4v-5zM272.0 753.0h5l4 4v5l-4 4h-5l-4 -4v-5zM283.5 772.0h5l4 4v5l-4 4h-5l-4 -4v-5zM294.5 753.0h5l4 4v5l-4 4h-5l-4 -4v-5zM340.0 766.0h5l4 4v5l-4 4h-5l-4 -4v-5zM351.0 772.0h5l4 4v5l-4 4h-5l-4 -4v-5zM362.5 753.0h5l4 4v5l-4 4h-5l-4 -4v-5zM374.0 763.0h5l4 4v5l-4 4h-5l-4 -4v-5zM385.0 760.0h5l4 4v5l-4 4h-5l-4 -4v-5zM396.5 753.0h5l4 4v5l-4 4h-5l-4 -4v-5zM407.5 760.0h5l4 4v5l-4 4h-5l-4 -4v-5zM419.0 750.0h5l4 4v5l-4 4h-5l-4 -4v-5zM441.5 769.0h5l4 4v5l-4 4h-5l-4 -4v-5zM453.0 772.0h5l4 4v5l-4 4h-5l-4 -4v-5zM464.0 772.0h5l4 4v5l-4 4h-5l-4 -4v-5zM475.5 744.0h5l4 4v5l-4 4h-5l-4 -4v-5zM498.0 763.0h5l4 4v5l-4 4h-5l-4 -4v-5zM509.5 763.0h5l4 4v5l-4 4h-5l-4 -4v-5zM520.5 753.0h5l4 4v5l-4 4h-5l-4 -4v-5zM532.0 753.0h5l4 4v5l-4 4h-5l-4 -4v-5zM543.5 753.0h5l4 4v5l-4 4h-5l-4 -4v-5zM554.5 750.0h5l4 4v5l-4 4h-5l-4 -4v-5zM566.0 750.0h5l4 4v5l-4 4h-5l-4 -4v-5zM577.0 769.0h5l4 4v5l-4 4h-5l-4 -4v-5zM588.5 769.0h5l4 4v5l-4 4h-5l-4 -4v-5zM600.0 775.0h5l4 4v5l-4 4h-5l-4 -4v-5zM611.0 772.0h5l4 4v5l-4 4h-5l-4 -4v-5zM633.5 763.0h5l4 4v5l-4 4h-5l-4 -4v-5zM645.0 763.0h5l4 4v5l-4 4h-5l-4 -4v-5zM656.5 763.0h5l4 4v5l-4 4h-5l-4 -4v-5zM667.5 757.0h5l4 4v5l-4 4h-5l-4 -4v-5zM679.0 750.0h5l4 4v5l-4 4h-5l-4 -4v-5zM690.0 750.0h5l4 4v5l-4 4h-5l-4 -4v-5zM701.5 750.0h5l4 4v5l-4 4h-5l-4 -4v-5zM713.0 750.0h5l4 4v5l-4 4h-5l-4 -4v-5zM724.0 753.0h5l4 4v5l-4 4h-5l-4 -4v-5zM735.5 772.0h5l4 4v5l-4 4h-5l-4 -4v-5zM746.5 744.0h5l4 4v5l-4 4h-5l-4 -4v-5zM758.0 735.0h5l4 4v5l-4 4h-5l-4 -4v-5zM780.5 757.0h5l4 4v5l-4 4h-5l-4 -4v-5zM792.0 769.0h5l4 4v5l-4 4h-5l-4 -4v-5zM803.0 760.0h5l4 4v5l-4 4h-5l-4 -4v-5zM814.5 757.0h5l4 4v5l-4 4h-5l-4 -4v-5zM826.0 750.0h5l4 4v5l-4 4h-5l-4 -4v-5zM837.0 753.0h5l4 4v5l-4 4h-5l-4 -4v-5zM848.5 750.0h5l4 4v5l-4 4h-5l-4 -4v-5zM859.5 757.0h5l4 4v5l-4 4h-5l-4 -4v-5zM871.0 772.0h5l4 4v5l-4 4h-5l-4 -4v-5zM905.0 766.0h5l4 4v5l-4 4h-5l-4 -4v-5zM916.0 757.0h5l4 4v5l-4 4h-5l-4 -4v-5z"/>
<rect shape-rendering="crispEdges" x="979" y="797.19" width="42" height="5.31" fill="#00008F"/>
<rect shape-rendering="crispEdges" x="979" y="792.38" width="42" height="5.31" fill="#00009F"/>
<rect shape-rendering="crispEdges" x="979" y="787.56" width="42" height="5.31" fill="#0000AF"/>
<rect shape-rendering="crispEdges" x="979" y="782.75" width="42" height="5.31" fill="#0000BF"/>
<rect shape-rendering="crispEdges" x="979" y="777.94" width="42" height="5.31" fill="#0000CF"/>
<rect shape-rendering="crispEdges" x="979" y="773.12" width="42" height="5.31" fill="#0000DF"/>
<rect shape-rendering="crispEdges" x="979" y="768.31" width="42" height="5.31" fill="#0000EF"/>
<rect shape-rendering="crispEdges" x="979" y="763.50" width="42" height="5.31" fill="#0000FF"/>
<rect shape-rendering="crispEdges" x="979" y="758.69" width="42" height="5.31" fill="#0010FF"/>
<rect shape-rendering="crispEdges" x="979" y="753.88" width="42" height="5.31" fill="#0020FF"/>
<rect shape-rendering="crispEdges" x="979" y="749.06" width="42" height="5.31" fill="#0030FF"/>
<rect shape-rendering="crispEdges" x="979" y="744.25" width="42" height="5.31" fill="#0040FF"/>
<rect shape-rendering="crispEdges" x="979" y="739.44" width="42" height="5.31" fill="#0050FF"/>
<rect shape-rendering="crispEdges" x="979" y="734.62" width="42" height="5.31" fill="#0060FF"/>
<rect shape-rendering="crispEdges" x="979" y="729.81" width="42" height="5.31" fill="#0070FF"/>
<rect shape-rendering="crispEdges" x="979" y="725.00" width="42" height="5.31" fill="#0080FF"/>
<rect shape-rendering="crispEdges" x="979" y="720.19" width="42" height="5.31" fill="#008FFF"/>
<rect shape-rendering="crispEdges" x="979" y="715.38" width="42" height="5.31" fill="#009FFF"/>
<rect shape-rendering="crispEdges" x="979" y="710.56" width="42" height="5.31" fill="#00AFFF"/>
<rect shape-rendering="crispEdges" x="979" y="705.75" width="42" height="5.31" fill="#00BFFF"/>
<rect shape-rendering="crispEdges" x="979" y="700.94" width="42" height="5.31" fill="#00CFFF"/>
<rect shape-rendering="crispEdges" x="979" y="696.12" width="42" height="5.31" fill="#00DFFF"/>
<rect shape-rendering="crispEdges" x="979" y="691.31" width="42" height="5.31" fill="#00EFFF"/>
<rect shape-rendering="crispEdges" x="979" y="686.50" width="42" height="5.31" fill="#00FFFF"/>
<rect shape-rendering="crispEdges" x="979" y="681.69" width="42" height="5.31" fill="#10FFEF"/>
<rect shape-rendering="crispEdges" x="979" y="676.88" width="42" height="5.31" fill="#20FFDF"/>
<rect shape-rendering="crispEdges" x="979" y="672.06" width="42" height="5.31" fill="#30FFCF"/>
<rect shape-rendering="crispEdges" x="979" y="667.25" width="42" height="5.31" fill="#40FFBF"/>
<rect shape-rendering="crispEdges" x="979" y="662.44" width="42" height="5.31" fill="#50FFAF"/>
<rect shape-rendering="crispEdges" x="979" y="657.62" width="42" height="5.31" fill="#60FF9F"/>
<rect shape-rendering="crispEdges" x="979" y="652.81" width="42" height="5.31" fill="#70FF8F"/>
<rect shape-rendering="crispEdges" x="979" y="648.00" width="42" height="5.31" fill="#80FF80"/>
<rect shape-rendering="crispEdges" x="979" y="643.19" width="42" height="5.31" fill="#8FFF70"/>
<rect shape-rendering="crispEdges" x="979" y="638.38" width="42" height="5.31" fill="#9FFF60"/>
<rect shape-rendering="crispEdges" x="979" y="633.56" width="42" height="5.31" fill="#AFFF50"/>
<rect shape-rendering="crispEdges" x="979" y="628.75" width="42" height="5.31" fill="#BFFF40"/>
<rect shape-rendering="crispEdges" x="979" y="623.94" width="42" height="5.31" fill="#CFFF30"/>
<rect shape-rendering="crispEdges" x="979" y="619.12" width="42" height="5.31" fill="#DFFF20"/>
<rect shape-rendering="crispEdges" x="979" y="614.31" width="42" height="5.31" fill="#EFFF10"/>
<rect shape-rendering="crispEdges" x="979" y="609.50" width="42" height="5.31" fill="#FFFF00"/>
<rect shape-rendering="crispEdges" x="979" y="604.69" width="42" height="5.31" fill="#FFEF00"/>
<rect shape-rendering="crispEdges" x="979" y="599.88" width="42" height="5.31" fill="#FFDF00"/>
<rect shape-rendering="crispEdges" x="979" y="595.06" width="42" height="5.31" fill="#FFCF00"/>
<rect shape-rendering="crispEdges" x="979" y="590.25" width="42" height="5.31" fill="#FFBF00"/>
<rect shape-rendering="crispEdges" x="979" y="585.44" width="42" height="5.31" fill="#FFAF00"/>
<rect shape-rendering="crispEdges" x="979" y="580.62" width="42" height="5.31" fill="#FF9F00"/>
<rect shape-rendering="crispEdges" x="979" y="575.81" width="42" height="5.31" fill="#FF8F00"/>
<rect shape-rendering="crispEdges" x="979" y="571.00" width="42" height="5.31" fill="#FF8000"/>
<rect shape-rendering="crispEdges" x="979" y="566.19" width="42" height="5.31" fill="#FF7000"/>
<rect shape-rendering="crispEdges" x="979" y="561.38" width="42" height="5.31" fill="#FF6000"/>
<rect shape-rendering="crispEdges" x="979" y="556.56" width="42" height="5.31" fill="#FF5000"/>
<rect shape-rendering="crispEdges" x="979" y="551.75" width="42" height="5.31" fill="#FF4000"/>
<rect shape-rendering="crispEdges" x="979" y="546.94" width="42" height="5.31" fill="#FF3000"/>
<rect shape-rendering="crispEdges" x="979" y="542.12" width="42" height="5.31" fill="#FF2000"/>
<rect shape-rendering="crispEdges" x="979" y="537.31" width="42" height="5.31" fill="#FF1000"/>
<rect shape-rendering="crispEdges" x="979" y="532.50" width="42" height="5.31" fill="#FF0000"/>
<rect shape-rendering="crispEdges" x="979" y="527.69" width="42" height="5.31" fill="#EF0000"/>
<rect shape-rendering="crispEdges" x="979" y="522.88" width="42" height="5.31" fill="#DF0000"/>
<rect shape-rendering="crispEdges" x="979" y="518.06" width="42" height="5.31" fill="#CF0000"/>
<rect shape-rendering="crispEdges" x="979" y="513.25" width="42" height="5.31" fill="#BF0000"/>
<rect shape-rendering="crispEdges" x="979" y="508.44" width="42" height="5.31" fill="#AF0000"/>
<rect shape-rendering="crispEdges" x="979" y="503.62" width="42" height="5.31" fill="#9F0000"/>
<rect shape-rendering="crispEdges" x="979" y="498.81" width="42" height="5.31" fill="#8F0000"/>
<rect shape-rendering="crispEdges" x="979" y="494.00" width="42" height="5.31" fill="#800000"/>
<g fill="#000" shape-rendering="crispEdges"><rect x="155" y="494" width="793" height="1"/><rect x="155" y="801" width="793" height="1"/><rect x="155" y="494" width="1" height="308"/><rect x="947" y="494" width="1" height="308"/><rect x="263" y="793" width="1" height="8"/><rect x="263" y="494" width="1" height="9"/><rect x="376" y="793" width="1" height="8"/><rect x="376" y="494" width="1" height="9"/><rect x="489" y="793" width="1" height="8"/><rect x="489" y="494" width="1" height="9"/><rect x="602" y="793" width="1" height="8"/><rect x="602" y="494" width="1" height="9"/><rect x="715" y="793" width="1" height="8"/><rect x="715" y="494" width="1" height="9"/><rect x="828" y="793" width="1" height="8"/><rect x="828" y="494" width="1" height="9"/><rect x="941" y="793" width="1" height="8"/><rect x="941" y="494" width="1" height="9"/><rect x="155" y="553" width="9" height="1"/><rect x="939" y="553" width="9" height="1"/><rect x="155" y="614" width="9" height="1"/><rect x="939" y="614" width="9" height="1"/><rect x="155" y="674" width="9" height="1"/><rect x="939" y="674" width="9" height="1"/><rect x="155" y="735" width="9" height="1"/><rect x="939" y="735" width="9" height="1"/><rect x="155" y="796" width="9" height="1"/><rect x="939" y="796" width="9" height="1"/><rect x="979" y="494" width="42" height="1"/><rect x="979" y="802" width="42" height="1"/><rect x="979" y="494" width="1" height="309"/><rect x="1020" y="494" width="1" height="309"/><rect x="979" y="740" width="4" height="1"/><rect x="1017" y="740" width="4" height="1"/><rect x="979" y="678" width="4" height="1"/><rect x="1017" y="678" width="4" height="1"/><rect x="979" y="617" width="4" height="1"/><rect x="1017" y="617" width="4" height="1"/><rect x="979" y="555" width="4" height="1"/><rect x="1017" y="555" width="4" height="1"/></g>
<g opacity=".999"><text x="262.5" y="829" text-anchor="middle">10</text><text x="375.5" y="829" text-anchor="middle">20</text><text x="488.5" y="829" text-anchor="middle">30</text><text x="601.5" y="829" text-anchor="middle">40</text><text x="714.5" y="829" text-anchor="middle">50</text><text x="827.5" y="829" text-anchor="middle">60</text><text x="940.5" y="829" text-anchor="middle">70</text><text x="150" y="562" text-anchor="end">20</text><text x="150" y="623" text-anchor="end">40</text><text x="150" y="683" text-anchor="end">60</text><text x="150" y="744" text-anchor="end">80</text><text x="150" y="805" text-anchor="end">100</text><text x="1025" y="811">0</text><text x="1025" y="749">20</text><text x="1025" y="687">40</text><text x="1025" y="626">60</text><text x="1025" y="564">80</text><text x="1025" y="503">100</text><text x="549.6" y="478" text-anchor="middle" style="font-size:18.3px">RH(%) : 23-Sep-2012 07:51:21 - 07:52:14</text><text x="549.3" y="855" text-anchor="middle" style="font-size:19.2px">Record index</text><text transform="translate(106,648.5) rotate(-90)" text-anchor="middle" style="font-size:19px">P index</text></g>
</svg></body></html>
